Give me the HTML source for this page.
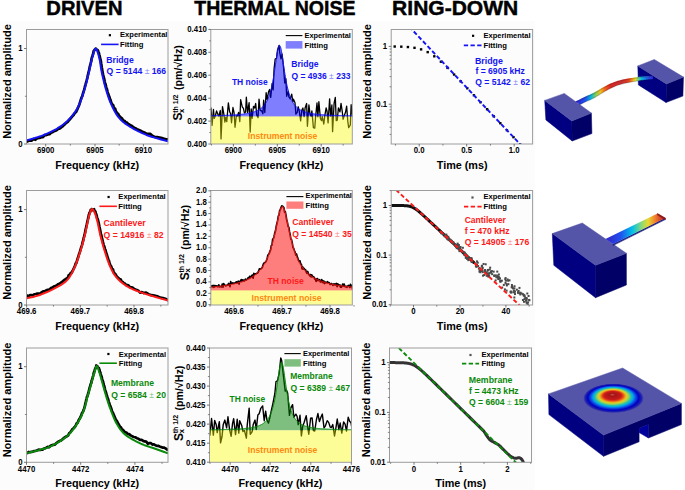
<!DOCTYPE html>
<html><head><meta charset="utf-8"><style>
html,body{margin:0;padding:0;background:#fff;}
svg{display:block;font-family:"Liberation Sans", sans-serif;}
</style></head><body>
<svg width="685" height="490" viewBox="0 0 685 490">
<rect x="0" y="21" width="535" height="469" fill="#fcfcfc"/>
<text x="46.39" y="15.00" font-size="20" fill="#000" font-weight="bold" textLength="76.19" lengthAdjust="spacingAndGlyphs" stroke="#000" stroke-width="0.45">DRIVEN</text>
<text x="194.30" y="14.50" font-size="20" fill="#000" font-weight="bold" textLength="161.17" lengthAdjust="spacingAndGlyphs" stroke="#000" stroke-width="0.45">THERMAL NOISE</text>
<text x="392.13" y="14.50" font-size="20" fill="#000" font-weight="bold" textLength="126.02" lengthAdjust="spacingAndGlyphs" stroke="#000" stroke-width="0.45">RING-DOWN</text>
<clipPath id="c11"><rect x="26.5" y="29.5" width="141.5" height="114.5"/></clipPath>
<g clip-path="url(#c11)">
<path d="M25.70,142.57 L26.74,141.47 L28.09,141.11 L29.68,140.47 L31.48,140.63 L33.40,138.96 L35.40,139.78 L37.42,138.28 L39.40,138.01 L41.28,137.16 L43.00,137.11 L44.62,135.22 L46.24,135.14 L47.85,134.41 L49.44,134.21 L51.01,132.67 L52.54,132.23 L54.03,131.20 L55.48,130.73 L56.87,130.11 L58.20,128.71 L59.47,128.69 L60.68,127.80 L61.83,126.85 L62.94,126.18 L64.01,124.79 L65.04,124.12 L66.05,122.96 L67.04,122.27 L68.02,121.59 L69.00,120.16 L69.97,119.23 L70.91,118.07 L71.84,116.94 L72.74,115.89 L73.62,114.98 L74.49,113.41 L75.33,112.65 L76.14,111.86 L76.93,110.18 L77.70,108.43 L78.44,106.68 L79.16,105.12 L79.85,102.90 L80.52,100.59 L81.17,98.56 L81.79,97.05 L82.40,95.90 L82.98,93.39 L83.55,91.77 L84.10,89.91 L84.63,87.93 L85.12,85.90 L85.60,84.40 L86.05,82.67 L86.49,81.18 L86.91,79.51 L87.32,77.81 L87.72,75.88 L88.11,74.43 L88.50,72.24 L88.88,71.35 L89.24,69.52 L89.59,67.68 L89.93,66.42 L90.26,64.72 L90.58,63.69 L90.90,62.41 L91.23,61.29 L91.56,58.74 L91.90,57.49 L92.25,56.60 L92.59,55.57 L92.94,54.55 L93.29,53.12 L93.64,51.15 L93.99,50.72 L94.34,50.25 L94.99,49.37 L95.35,49.12 L95.70,48.62 L96.06,48.78 L96.43,49.35 L97.71,50.10 L98.09,50.90 L98.46,51.90 L98.83,52.78 L99.20,54.37 L99.55,55.55 L99.88,57.17 L100.20,58.42 L100.49,59.29 L100.74,60.39 L100.97,61.66 L101.19,63.44 L101.41,64.78 L101.62,66.13 L101.85,67.80 L102.10,69.12 L102.38,71.16 L102.70,72.34 L103.05,74.56 L103.43,75.96 L103.82,77.76 L104.24,78.94 L104.67,81.17 L105.11,83.16 L105.57,84.35 L106.04,86.34 L106.52,88.16 L107.00,89.32 L107.49,91.52 L107.97,93.29 L108.47,94.26 L108.98,96.22 L109.49,97.16 L110.03,99.10 L110.58,100.03 L111.16,102.44 L111.77,103.63 L112.40,104.89 L113.06,104.83 L113.73,106.95 L114.42,108.58 L115.13,108.61 L115.86,111.03 L116.62,112.48 L117.42,113.30 L118.24,113.99 L119.10,115.89 L120.00,116.64 L120.92,117.53 L121.85,118.29 L122.80,119.82 L123.78,120.77 L124.79,121.11 L125.86,122.32 L126.98,122.53 L128.17,124.02 L129.44,124.57 L130.80,125.33 L132.25,126.24 L133.79,127.47 L135.40,128.33 L137.08,129.15 L138.83,129.91 L140.62,130.77 L142.45,131.82 L144.31,132.52 L146.20,133.48 L148.10,133.89 L150.13,133.89 L152.37,135.84 L154.74,136.97 L157.17,137.07 L159.58,137.55 L161.91,138.17 L164.08,138.76 L166.02,139.32 L167.65,139.36 L168.90,139.92" fill="none" stroke="#000" stroke-width="2.7" stroke-linejoin="round"/>
<path d="M26.00,140.60 L27.04,140.29 L28.39,139.90 L29.98,139.44 L31.78,138.93 L33.70,138.37 L35.70,137.77 L37.72,137.14 L39.70,136.50 L41.58,135.85 L43.30,135.20 L44.92,134.54 L46.54,133.85 L48.15,133.14 L49.74,132.41 L51.31,131.66 L52.84,130.89 L54.33,130.10 L55.78,129.31 L57.17,128.51 L58.50,127.70 L59.77,126.89 L60.98,126.09 L62.13,125.28 L63.24,124.46 L64.31,123.62 L65.34,122.77 L66.35,121.88 L67.34,120.96 L68.32,120.01 L69.30,119.00 L70.27,117.96 L71.21,116.91 L72.14,115.84 L73.04,114.73 L73.92,113.59 L74.79,112.40 L75.63,111.17 L76.44,109.88 L77.23,108.52 L78.00,107.10 L78.74,105.59 L79.46,103.99 L80.15,102.31 L80.82,100.57 L81.47,98.79 L82.09,96.98 L82.70,95.16 L83.28,93.35 L83.85,91.55 L84.40,89.80 L84.93,88.06 L85.42,86.30 L85.90,84.52 L86.35,82.75 L86.79,80.98 L87.21,79.22 L87.62,77.48 L88.02,75.78 L88.41,74.12 L88.80,72.50 L89.18,70.91 L89.54,69.34 L89.89,67.78 L90.23,66.25 L90.56,64.75 L90.88,63.29 L91.20,61.88 L91.53,60.52 L91.86,59.23 L92.20,58.00 L92.55,56.78 L92.89,55.51 L93.24,54.24 L93.59,53.01 L93.94,51.86 L94.29,50.83 L94.64,49.96 L94.99,49.29 L95.35,48.85 L95.70,48.70 L96.06,48.85 L96.43,49.29 L96.81,49.96 L97.19,50.83 L97.56,51.86 L97.93,53.01 L98.30,54.24 L98.65,55.51 L98.98,56.78 L99.30,58.00 L99.59,59.23 L99.84,60.52 L100.07,61.88 L100.29,63.29 L100.51,64.75 L100.72,66.25 L100.95,67.78 L101.20,69.34 L101.48,70.91 L101.80,72.50 L102.15,74.13 L102.53,75.82 L102.92,77.55 L103.34,79.32 L103.77,81.11 L104.21,82.90 L104.67,84.68 L105.14,86.44 L105.62,88.15 L106.10,89.80 L106.59,91.41 L107.07,92.99 L107.57,94.56 L108.08,96.10 L108.59,97.62 L109.13,99.12 L109.68,100.59 L110.26,102.05 L110.87,103.48 L111.50,104.90 L112.16,106.30 L112.83,107.70 L113.52,109.09 L114.23,110.46 L114.96,111.80 L115.72,113.11 L116.52,114.38 L117.34,115.61 L118.20,116.78 L119.10,117.90 L120.02,118.94 L120.95,119.92 L121.90,120.83 L122.88,121.69 L123.89,122.53 L124.96,123.33 L126.08,124.13 L127.27,124.94 L128.54,125.75 L129.90,126.60 L131.35,127.48 L132.89,128.37 L134.50,129.27 L136.18,130.17 L137.93,131.06 L139.72,131.94 L141.55,132.81 L143.41,133.64 L145.30,134.44 L147.20,135.20 L149.23,135.94 L151.47,136.68 L153.84,137.41 L156.27,138.11 L158.68,138.79 L161.01,139.42 L163.18,140.00 L165.12,140.51 L166.75,140.95 L168.00,141.30" fill="none" stroke="#1414f5" stroke-width="2.0" stroke-linejoin="round"/>
</g>
<rect x="26.5" y="29.5" width="141.50" height="114.50" fill="none" stroke="#9c9c9c" stroke-width="1"/>
<line x1="45.70" y1="144.0" x2="45.70" y2="146.5" stroke="#555" stroke-width="0.8"/>
<line x1="95.00" y1="144.0" x2="95.00" y2="146.5" stroke="#555" stroke-width="0.8"/>
<line x1="143.40" y1="144.0" x2="143.40" y2="146.5" stroke="#555" stroke-width="0.8"/>
<line x1="70.35" y1="144.0" x2="70.35" y2="145.6" stroke="#555" stroke-width="0.7"/>
<line x1="119.20" y1="144.0" x2="119.20" y2="145.6" stroke="#555" stroke-width="0.7"/>
<line x1="26.5" y1="144.00" x2="24.0" y2="144.00" stroke="#555" stroke-width="0.8"/>
<line x1="26.5" y1="48.50" x2="24.0" y2="48.50" stroke="#555" stroke-width="0.8"/>
<line x1="26.5" y1="96.25" x2="24.9" y2="96.25" stroke="#555" stroke-width="0.7"/>
<text x="36.98" y="153.40" font-size="8.5" fill="#000" font-weight="bold" textLength="17.39" lengthAdjust="spacingAndGlyphs" >6900</text>
<text x="86.24" y="153.40" font-size="8.5" fill="#000" font-weight="bold" textLength="17.39" lengthAdjust="spacingAndGlyphs" >6905</text>
<text x="134.68" y="153.40" font-size="8.5" fill="#000" font-weight="bold" textLength="17.39" lengthAdjust="spacingAndGlyphs" >6910</text>
<text x="18.23" y="146.50" font-size="8.5" fill="#000" font-weight="bold" textLength="4.35" lengthAdjust="spacingAndGlyphs" >0</text>
<text x="18.16" y="51.00" font-size="8.5" fill="#000" font-weight="bold" textLength="4.35" lengthAdjust="spacingAndGlyphs" >1</text>
<text transform="translate(11.10,138.10) rotate(-90)" x="-0.77" y="0" font-size="10.8" fill="#000" font-weight="bold" textLength="114.72" lengthAdjust="spacingAndGlyphs">Normalized amplitude</text>
<text x="55.13" y="169.00" font-size="10.8" fill="#000" font-weight="bold" textLength="84.01" lengthAdjust="spacingAndGlyphs" >Frequency (kHz)</text>
<rect x="108.80000000000001" y="34.1" width="2.2" height="2.2" fill="#000"/>
<text x="120.07" y="37.30" font-size="8.0" fill="#000" font-weight="bold" textLength="47.36" lengthAdjust="spacingAndGlyphs" >Experimental</text>
<line x1="101.1" y1="44.4" x2="118.6" y2="44.4" stroke="#1414f5" stroke-width="1.6"/>
<text x="120.06" y="46.70" font-size="8.0" fill="#000" font-weight="bold" textLength="23.45" lengthAdjust="spacingAndGlyphs" >Fitting</text>
<text x="106.29" y="62.80" font-size="8.4" fill="#1414f5" font-weight="bold" textLength="27.43" lengthAdjust="spacingAndGlyphs" >Bridge</text>
<text x="106.55" y="73.60" font-size="8.4" fill="#1414f5" font-weight="bold" textLength="59.64" lengthAdjust="spacingAndGlyphs" >Q = 5144 <tspan font-weight="normal" fill-opacity="0.55">±</tspan> 166</text>
<clipPath id="c21"><rect x="26.5" y="190.5" width="141.5" height="114.5"/></clipPath>
<g clip-path="url(#c21)">
<path d="M25.70,296.55 L26.46,296.50 L27.43,295.55 L28.58,296.63 L29.86,295.14 L31.26,295.16 L32.72,295.28 L34.24,294.29 L35.76,293.95 L37.26,293.56 L38.70,293.59 L40.13,293.69 L41.62,292.35 L43.14,291.36 L44.69,291.32 L46.25,290.27 L47.81,289.80 L49.36,289.52 L50.88,288.12 L52.37,287.65 L53.80,286.59 L55.21,286.09 L56.62,285.47 L58.02,284.27 L59.41,283.70 L60.77,282.92 L62.09,281.93 L63.36,280.85 L64.58,279.84 L65.73,279.29 L66.80,278.21 L67.79,277.97 L68.70,275.16 L69.55,274.83 L70.33,273.65 L71.08,272.68 L71.78,272.84 L72.45,271.00 L73.11,269.90 L73.75,268.69 L74.40,266.99 L75.03,265.95 L75.64,263.56 L76.22,263.33 L76.77,261.73 L77.31,259.57 L77.82,258.36 L78.33,256.62 L78.83,254.77 L79.31,253.55 L79.80,252.35 L80.28,250.35 L80.75,248.83 L81.20,247.42 L81.65,246.08 L82.08,244.85 L82.50,242.66 L82.92,241.54 L83.32,239.92 L83.72,237.67 L84.10,236.65 L84.48,235.20 L84.84,233.64 L85.20,232.15 L85.54,229.69 L85.88,228.80 L86.21,226.97 L86.52,225.17 L86.83,224.40 L87.12,223.11 L87.40,221.37 L87.66,220.75 L87.91,219.25 L88.14,218.41 L88.35,217.07 L88.56,217.15 L88.77,214.85 L88.97,214.99 L89.17,214.56 L89.38,212.93 L89.60,212.93 L89.82,212.36 L90.05,212.08 L90.27,211.68 L90.50,210.59 L90.73,209.78 L91.25,210.35 L91.48,209.97 L91.72,209.14 L91.96,209.28 L92.20,209.23 L92.45,209.35 L92.70,209.38 L92.96,210.04 L94.12,209.26 L94.38,210.63 L94.65,210.86 L94.91,211.16 L95.18,212.21 L95.44,211.56 L95.70,213.41 L95.96,213.78 L96.21,213.92 L96.46,215.18 L96.71,215.68 L96.96,217.50 L97.21,218.10 L97.47,218.54 L97.74,219.13 L98.01,220.25 L98.30,221.49 L98.60,222.66 L98.90,223.90 L99.21,225.47 L99.52,227.11 L99.84,228.61 L100.17,230.16 L100.51,231.71 L100.86,234.55 L101.23,234.73 L101.60,236.44 L101.98,238.47 L102.38,239.73 L102.78,241.51 L103.20,243.16 L103.62,244.85 L104.05,246.19 L104.50,247.10 L104.95,249.35 L105.42,249.87 L105.90,251.96 L106.39,253.36 L106.89,254.72 L107.40,256.88 L107.93,258.19 L108.46,260.18 L109.01,260.86 L109.56,263.19 L110.13,264.53 L110.71,265.81 L111.30,266.60 L111.89,268.28 L112.46,269.03 L113.03,269.39 L113.61,272.38 L114.21,272.64 L114.84,273.97 L115.50,274.20 L116.21,275.59 L116.97,276.57 L117.80,277.51 L118.69,278.27 L119.61,279.13 L120.59,279.41 L121.60,281.25 L122.66,282.07 L123.76,283.17 L124.90,283.52 L126.09,285.04 L127.32,285.07 L128.60,285.56 L129.90,287.06 L131.20,287.26 L132.52,287.64 L133.89,288.75 L135.31,289.59 L136.80,290.02 L138.37,290.72 L140.06,292.61 L141.86,292.11 L143.80,293.04 L146.02,292.55 L148.59,294.18 L151.39,295.18 L154.33,295.66 L157.30,296.35 L160.19,297.63 L162.90,298.16 L165.33,298.76 L167.36,299.95 L168.90,300.47" fill="none" stroke="#000" stroke-width="2.7" stroke-linejoin="round"/>
<path d="M26.00,298.50 L26.76,298.32 L27.73,298.10 L28.88,297.85 L30.16,297.57 L31.56,297.26 L33.02,296.91 L34.54,296.53 L36.06,296.12 L37.56,295.67 L39.00,295.20 L40.43,294.69 L41.92,294.14 L43.44,293.55 L44.99,292.93 L46.55,292.28 L48.11,291.60 L49.66,290.91 L51.18,290.19 L52.67,289.45 L54.10,288.70 L55.51,287.94 L56.92,287.18 L58.32,286.41 L59.71,285.62 L61.07,284.81 L62.39,283.96 L63.66,283.07 L64.88,282.14 L66.03,281.15 L67.10,280.10 L68.09,278.99 L69.00,277.82 L69.85,276.59 L70.63,275.32 L71.38,274.01 L72.08,272.66 L72.75,271.29 L73.41,269.90 L74.05,268.50 L74.70,267.10 L75.33,265.68 L75.94,264.22 L76.52,262.73 L77.07,261.22 L77.61,259.69 L78.12,258.15 L78.63,256.60 L79.13,255.06 L79.61,253.52 L80.10,252.00 L80.58,250.48 L81.05,248.97 L81.50,247.45 L81.95,245.93 L82.38,244.41 L82.80,242.88 L83.22,241.36 L83.62,239.84 L84.02,238.32 L84.40,236.80 L84.78,235.25 L85.14,233.65 L85.50,232.03 L85.84,230.40 L86.18,228.79 L86.51,227.20 L86.82,225.67 L87.13,224.22 L87.42,222.85 L87.70,221.60 L87.96,220.45 L88.21,219.38 L88.44,218.39 L88.65,217.46 L88.86,216.59 L89.07,215.78 L89.27,215.03 L89.47,214.31 L89.68,213.64 L89.90,213.00 L90.12,212.38 L90.35,211.79 L90.57,211.24 L90.80,210.73 L91.03,210.27 L91.25,209.87 L91.48,209.55 L91.72,209.31 L91.96,209.15 L92.20,209.10 L92.45,209.15 L92.70,209.31 L92.96,209.55 L93.22,209.87 L93.48,210.27 L93.75,210.73 L94.01,211.24 L94.28,211.79 L94.54,212.38 L94.80,213.00 L95.06,213.64 L95.31,214.31 L95.56,215.03 L95.81,215.78 L96.06,216.59 L96.31,217.46 L96.57,218.39 L96.84,219.38 L97.11,220.45 L97.40,221.60 L97.70,222.85 L98.00,224.22 L98.31,225.67 L98.62,227.20 L98.94,228.79 L99.27,230.40 L99.61,232.03 L99.96,233.65 L100.33,235.25 L100.70,236.80 L101.08,238.32 L101.48,239.84 L101.88,241.36 L102.30,242.88 L102.72,244.41 L103.15,245.93 L103.60,247.45 L104.05,248.97 L104.52,250.48 L105.00,252.00 L105.49,253.53 L105.99,255.10 L106.50,256.67 L107.03,258.25 L107.56,259.82 L108.11,261.37 L108.66,262.89 L109.23,264.36 L109.81,265.76 L110.40,267.10 L110.99,268.36 L111.56,269.57 L112.13,270.72 L112.71,271.83 L113.31,272.90 L113.94,273.94 L114.60,274.95 L115.31,275.94 L116.07,276.92 L116.90,277.90 L117.79,278.86 L118.71,279.81 L119.69,280.73 L120.70,281.64 L121.76,282.52 L122.86,283.38 L124.00,284.22 L125.19,285.03 L126.42,285.83 L127.70,286.60 L129.00,287.33 L130.30,288.02 L131.62,288.68 L132.99,289.31 L134.41,289.93 L135.90,290.53 L137.47,291.15 L139.16,291.77 L140.96,292.42 L142.90,293.10 L145.12,293.84 L147.69,294.66 L150.49,295.51 L153.43,296.39 L156.40,297.26 L159.29,298.09 L162.00,298.87 L164.43,299.56 L166.46,300.15 L168.00,300.60" fill="none" stroke="#ff1a1a" stroke-width="2.0" stroke-linejoin="round"/>
</g>
<rect x="26.5" y="190.5" width="141.50" height="114.50" fill="none" stroke="#9c9c9c" stroke-width="1"/>
<line x1="26.60" y1="305.0" x2="26.60" y2="307.5" stroke="#555" stroke-width="0.8"/>
<line x1="80.30" y1="305.0" x2="80.30" y2="307.5" stroke="#555" stroke-width="0.8"/>
<line x1="134.00" y1="305.0" x2="134.00" y2="307.5" stroke="#555" stroke-width="0.8"/>
<line x1="53.45" y1="305.0" x2="53.45" y2="306.6" stroke="#555" stroke-width="0.7"/>
<line x1="107.15" y1="305.0" x2="107.15" y2="306.6" stroke="#555" stroke-width="0.7"/>
<line x1="160.85" y1="305.0" x2="160.85" y2="306.6" stroke="#555" stroke-width="0.7"/>
<line x1="26.5" y1="305.00" x2="24.0" y2="305.00" stroke="#555" stroke-width="0.8"/>
<line x1="26.5" y1="209.60" x2="24.0" y2="209.60" stroke="#555" stroke-width="0.8"/>
<line x1="26.5" y1="257.30" x2="24.9" y2="257.30" stroke="#555" stroke-width="0.7"/>
<text x="16.86" y="314.40" font-size="8.5" fill="#000" font-weight="bold" textLength="19.57" lengthAdjust="spacingAndGlyphs" >469.6</text>
<text x="70.60" y="314.40" font-size="8.5" fill="#000" font-weight="bold" textLength="19.57" lengthAdjust="spacingAndGlyphs" >469.7</text>
<text x="124.22" y="314.40" font-size="8.5" fill="#000" font-weight="bold" textLength="19.57" lengthAdjust="spacingAndGlyphs" >469.8</text>
<text x="18.23" y="307.50" font-size="8.5" fill="#000" font-weight="bold" textLength="4.35" lengthAdjust="spacingAndGlyphs" >0</text>
<text x="18.16" y="212.10" font-size="8.5" fill="#000" font-weight="bold" textLength="4.35" lengthAdjust="spacingAndGlyphs" >1</text>
<text transform="translate(11.10,299.10) rotate(-90)" x="-0.77" y="0" font-size="10.8" fill="#000" font-weight="bold" textLength="114.72" lengthAdjust="spacingAndGlyphs">Normalized amplitude</text>
<text x="55.13" y="330.00" font-size="10.8" fill="#000" font-weight="bold" textLength="84.01" lengthAdjust="spacingAndGlyphs" >Frequency (kHz)</text>
<rect x="107.5" y="195.9" width="2.2" height="2.2" fill="#000"/>
<text x="118.37" y="199.20" font-size="8.0" fill="#000" font-weight="bold" textLength="47.36" lengthAdjust="spacingAndGlyphs" >Experimental</text>
<line x1="99.4" y1="206.3" x2="116.9" y2="206.3" stroke="#ff1a1a" stroke-width="1.6"/>
<text x="118.36" y="209.20" font-size="8.0" fill="#000" font-weight="bold" textLength="23.45" lengthAdjust="spacingAndGlyphs" >Fitting</text>
<text x="103.55" y="226.40" font-size="8.4" fill="#ff1a1a" font-weight="bold" textLength="42.08" lengthAdjust="spacingAndGlyphs" >Cantilever</text>
<text x="103.55" y="237.90" font-size="8.4" fill="#ff1a1a" font-weight="bold" textLength="60.15" lengthAdjust="spacingAndGlyphs" >Q = 14916 <tspan font-weight="normal" fill-opacity="0.55">±</tspan> 82</text>
<clipPath id="c31"><rect x="26.5" y="348.0" width="141.5" height="114.30000000000001"/></clipPath>
<g clip-path="url(#c31)">
<path d="M25.70,453.93 L26.47,453.27 L27.47,452.92 L28.64,451.96 L29.96,452.21 L31.39,451.85 L32.88,451.59 L34.39,451.03 L35.89,450.85 L37.34,450.32 L38.70,449.64 L39.99,450.04 L41.27,449.69 L42.53,449.63 L43.80,448.70 L45.07,448.16 L46.35,447.71 L47.65,446.91 L48.97,447.28 L50.31,445.97 L51.70,445.29 L53.15,444.88 L54.67,444.65 L56.24,443.33 L57.84,441.95 L59.45,441.07 L61.04,440.51 L62.59,439.18 L64.09,437.90 L65.50,437.00 L66.80,436.26 L68.01,435.60 L69.15,433.34 L70.23,432.41 L71.26,431.17 L72.24,429.41 L73.17,428.72 L74.07,427.46 L74.94,426.98 L75.78,425.30 L76.60,423.53 L77.39,423.08 L78.15,421.48 L78.86,419.74 L79.54,418.87 L80.19,417.59 L80.82,416.20 L81.42,415.20 L81.99,413.07 L82.55,412.40 L83.10,411.45 L83.62,409.97 L84.10,408.60 L84.55,407.12 L84.98,405.74 L85.39,403.30 L85.79,402.44 L86.18,399.95 L86.58,398.85 L86.98,396.85 L87.40,396.37 L87.84,394.92 L88.29,392.79 L88.75,391.87 L89.21,389.38 L89.66,388.06 L90.11,386.48 L90.54,384.52 L90.96,383.59 L91.34,382.74 L91.70,380.44 L92.02,379.96 L92.32,378.53 L92.59,378.22 L92.84,376.85 L93.08,376.06 L93.30,375.23 L93.52,374.31 L93.74,372.98 L93.97,373.22 L94.20,371.52 L94.44,371.32 L94.67,370.66 L94.90,369.35 L95.13,368.92 L95.36,368.54 L95.88,367.46 L96.11,366.60 L96.34,365.46 L96.57,365.86 L96.80,365.89 L97.04,366.02 L97.27,366.14 L97.51,367.04 L97.74,367.27 L98.88,368.09 L99.12,369.10 L99.36,369.35 L99.61,370.34 L99.85,371.99 L100.10,372.31 L100.34,372.28 L100.58,373.44 L100.81,374.42 L101.04,375.44 L101.28,375.87 L101.53,376.49 L101.79,377.34 L102.07,378.81 L102.37,379.76 L102.70,380.62 L103.06,382.00 L103.45,383.32 L103.87,385.21 L104.30,386.28 L104.74,388.31 L105.20,390.07 L105.66,391.57 L106.11,392.71 L106.56,395.01 L107.00,395.76 L107.42,397.53 L107.82,398.44 L108.22,399.39 L108.61,401.34 L109.01,402.59 L109.42,403.67 L109.85,405.01 L110.30,405.92 L110.78,407.16 L111.30,408.67 L111.85,410.78 L112.42,411.85 L113.02,412.87 L113.64,414.76 L114.28,415.92 L114.94,417.44 L115.62,419.37 L116.32,420.31 L117.05,421.26 L117.80,422.79 L118.55,424.32 L119.30,425.46 L120.05,426.92 L120.81,427.26 L121.61,428.74 L122.45,429.58 L123.35,430.29 L124.32,431.52 L125.36,432.27 L126.50,432.64 L127.75,434.15 L129.11,434.15 L130.56,435.38 L132.07,436.12 L133.64,436.99 L135.25,437.28 L136.86,438.18 L138.47,438.77 L140.06,439.82 L141.60,439.92 L143.13,440.90 L144.68,441.42 L146.25,441.64 L147.82,443.59 L149.39,443.15 L150.94,443.16 L152.46,444.66 L153.96,444.27 L155.41,445.25 L156.80,445.90 L158.19,445.87 L159.61,446.45 L161.04,446.92 L162.44,447.56 L163.80,447.52 L165.08,448.11 L166.26,448.91 L167.30,449.70 L168.19,449.87 L168.90,450.51" fill="none" stroke="#000" stroke-width="2.7" stroke-linejoin="round"/>
<path d="M26.00,453.30 L26.77,453.11 L27.77,452.88 L28.94,452.61 L30.26,452.31 L31.69,451.98 L33.18,451.62 L34.69,451.25 L36.19,450.87 L37.64,450.48 L39.00,450.10 L40.29,449.73 L41.57,449.38 L42.83,449.04 L44.10,448.68 L45.37,448.31 L46.65,447.90 L47.95,447.45 L49.27,446.94 L50.61,446.36 L52.00,445.70 L53.45,444.95 L54.97,444.13 L56.54,443.25 L58.14,442.31 L59.75,441.32 L61.34,440.29 L62.89,439.24 L64.39,438.17 L65.80,437.08 L67.10,436.00 L68.31,434.90 L69.45,433.78 L70.53,432.63 L71.56,431.45 L72.54,430.26 L73.47,429.04 L74.37,427.82 L75.24,426.59 L76.08,425.34 L76.90,424.10 L77.69,422.85 L78.45,421.60 L79.16,420.35 L79.84,419.08 L80.49,417.80 L81.12,416.50 L81.72,415.19 L82.29,413.85 L82.85,412.49 L83.40,411.10 L83.92,409.68 L84.40,408.22 L84.85,406.73 L85.28,405.22 L85.69,403.69 L86.09,402.15 L86.48,400.60 L86.88,399.06 L87.28,397.52 L87.70,396.00 L88.14,394.46 L88.59,392.86 L89.05,391.25 L89.51,389.62 L89.96,388.01 L90.41,386.42 L90.84,384.89 L91.26,383.43 L91.64,382.06 L92.00,380.80 L92.32,379.65 L92.62,378.58 L92.89,377.60 L93.14,376.68 L93.38,375.82 L93.60,375.00 L93.82,374.23 L94.04,373.47 L94.27,372.73 L94.50,372.00 L94.74,371.24 L94.97,370.45 L95.20,369.65 L95.43,368.86 L95.66,368.13 L95.88,367.47 L96.11,366.91 L96.34,366.48 L96.57,366.20 L96.80,366.10 L97.04,366.20 L97.27,366.48 L97.51,366.91 L97.74,367.47 L97.98,368.13 L98.22,368.86 L98.46,369.65 L98.71,370.45 L98.95,371.24 L99.20,372.00 L99.44,372.73 L99.68,373.47 L99.91,374.23 L100.14,375.00 L100.38,375.82 L100.63,376.68 L100.89,377.60 L101.17,378.58 L101.47,379.65 L101.80,380.80 L102.16,382.07 L102.55,383.47 L102.97,384.96 L103.40,386.52 L103.84,388.14 L104.30,389.77 L104.76,391.40 L105.21,393.00 L105.66,394.54 L106.10,396.00 L106.52,397.38 L106.92,398.71 L107.32,400.00 L107.71,401.26 L108.11,402.51 L108.52,403.75 L108.95,405.01 L109.40,406.30 L109.88,407.62 L110.40,409.00 L110.95,410.44 L111.52,411.95 L112.12,413.51 L112.74,415.10 L113.38,416.69 L114.04,418.27 L114.72,419.82 L115.42,421.32 L116.15,422.75 L116.90,424.10 L117.65,425.36 L118.40,426.57 L119.15,427.72 L119.91,428.83 L120.71,429.90 L121.55,430.94 L122.45,431.95 L123.42,432.94 L124.46,433.92 L125.60,434.90 L126.85,435.87 L128.21,436.83 L129.66,437.77 L131.17,438.69 L132.74,439.59 L134.35,440.46 L135.96,441.30 L137.57,442.10 L139.16,442.87 L140.70,443.60 L142.23,444.28 L143.78,444.91 L145.35,445.50 L146.92,446.05 L148.49,446.57 L150.04,447.08 L151.56,447.56 L153.06,448.04 L154.51,448.52 L155.90,449.00 L157.29,449.49 L158.71,450.00 L160.14,450.51 L161.54,451.01 L162.90,451.49 L164.18,451.94 L165.36,452.36 L166.40,452.73 L167.29,453.05 L168.00,453.30" fill="none" stroke="#0a8a0a" stroke-width="2.0" stroke-linejoin="round"/>
</g>
<rect x="26.5" y="348.0" width="141.50" height="114.30" fill="none" stroke="#9c9c9c" stroke-width="1"/>
<line x1="26.50" y1="462.3" x2="26.50" y2="464.8" stroke="#555" stroke-width="0.8"/>
<line x1="80.70" y1="462.3" x2="80.70" y2="464.8" stroke="#555" stroke-width="0.8"/>
<line x1="134.90" y1="462.3" x2="134.90" y2="464.8" stroke="#555" stroke-width="0.8"/>
<line x1="53.60" y1="462.3" x2="53.60" y2="463.90000000000003" stroke="#555" stroke-width="0.7"/>
<line x1="107.80" y1="462.3" x2="107.80" y2="463.90000000000003" stroke="#555" stroke-width="0.7"/>
<line x1="162.00" y1="462.3" x2="162.00" y2="463.90000000000003" stroke="#555" stroke-width="0.7"/>
<line x1="26.5" y1="462.30" x2="24.0" y2="462.30" stroke="#555" stroke-width="0.8"/>
<line x1="26.5" y1="366.70" x2="24.0" y2="366.70" stroke="#555" stroke-width="0.8"/>
<line x1="26.5" y1="414.50" x2="24.9" y2="414.50" stroke="#555" stroke-width="0.7"/>
<text x="17.86" y="471.70" font-size="8.5" fill="#000" font-weight="bold" textLength="17.39" lengthAdjust="spacingAndGlyphs" >4470</text>
<text x="72.06" y="471.70" font-size="8.5" fill="#000" font-weight="bold" textLength="17.39" lengthAdjust="spacingAndGlyphs" >4472</text>
<text x="126.14" y="471.70" font-size="8.5" fill="#000" font-weight="bold" textLength="17.39" lengthAdjust="spacingAndGlyphs" >4474</text>
<text x="18.23" y="464.80" font-size="8.5" fill="#000" font-weight="bold" textLength="4.35" lengthAdjust="spacingAndGlyphs" >0</text>
<text x="18.16" y="369.20" font-size="8.5" fill="#000" font-weight="bold" textLength="4.35" lengthAdjust="spacingAndGlyphs" >1</text>
<text transform="translate(11.10,456.60) rotate(-90)" x="-0.77" y="0" font-size="10.8" fill="#000" font-weight="bold" textLength="114.72" lengthAdjust="spacingAndGlyphs">Normalized amplitude</text>
<text x="55.13" y="487.30" font-size="10.8" fill="#000" font-weight="bold" textLength="84.01" lengthAdjust="spacingAndGlyphs" >Frequency (kHz)</text>
<rect x="107.30000000000001" y="352.9" width="2.2" height="2.2" fill="#000"/>
<text x="118.77" y="356.50" font-size="8.0" fill="#000" font-weight="bold" textLength="47.36" lengthAdjust="spacingAndGlyphs" >Experimental</text>
<line x1="99.4" y1="363.2" x2="116.9" y2="363.2" stroke="#0a8a0a" stroke-width="1.6"/>
<text x="118.76" y="365.80" font-size="8.0" fill="#000" font-weight="bold" textLength="23.45" lengthAdjust="spacingAndGlyphs" >Fitting</text>
<text x="110.90" y="386.20" font-size="8.4" fill="#0a8a0a" font-weight="bold" textLength="43.07" lengthAdjust="spacingAndGlyphs" >Membrane</text>
<text x="111.16" y="397.70" font-size="8.4" fill="#0a8a0a" font-weight="bold" textLength="54.78" lengthAdjust="spacingAndGlyphs" >Q = 6584 <tspan font-weight="normal" fill-opacity="0.55">±</tspan> 20</text>
<clipPath id="c12"><rect x="210.8" y="29.5" width="141.5" height="114.5"/></clipPath>
<g clip-path="url(#c12)">
<path d="M209.63,119.21 L210.94,107.84 L212.05,125.34 L213.46,109.44 L214.21,118.46 L215.46,115.45 L216.57,110.92 L217.96,114.55 L218.84,116.09 L220.33,110.51 L221.02,138.87 L222.49,106.65 L223.78,113.65 L224.89,122.12 L225.72,117.35 L226.77,121.67 L228.36,102.83 L229.61,111.77 L230.62,113.60 L231.53,122.77 L232.95,107.52 L234.06,112.74 L235.04,127.25 L236.32,115.79 L237.36,116.07 L238.60,112.33 L239.82,121.57 L240.63,99.69 L242.24,106.78 L243.43,108.35 L244.40,112.98 L245.62,111.94 L246.33,97.22 L247.56,112.33 L249.12,102.55 L250.19,132.05 L251.20,108.91 L252.14,118.28 L253.49,106.32 L254.66,107.99 L255.69,103.51 L256.69,114.89 L258.06,117.60 L259.02,99.09 L260.14,110.29 L261.66,110.84 L262.90,113.78 L263.63,100.20 L264.79,112.48 L266.13,92.68 L267.13,99.63 L268.61,91.65 L269.66,89.51 L270.72,97.41 L272.18,83.31 L273.17,89.92 L274.04,69.11 L275.16,59.12 L276.52,58.30 L277.54,49.92 L279.04,45.39 L279.71,52.61 L280.99,58.89 L282.09,54.08 L283.54,67.64 L284.74,82.98 L285.84,78.58 L286.66,96.34 L288.21,91.41 L288.87,96.94 L290.22,98.97 L291.71,94.09 L292.85,101.75 L293.48,99.21 L295.00,102.82 L295.86,114.16 L297.24,112.42 L298.20,106.77 L299.30,111.07 L300.65,120.97 L301.84,110.10 L302.93,108.03 L304.10,116.68 L305.15,107.68 L306.62,103.53 L307.41,126.28 L308.91,104.81 L309.93,113.87 L311.11,116.21 L311.88,110.82 L313.39,127.65 L314.74,128.19 L315.60,116.80 L317.00,103.02 L317.87,116.78 L318.88,101.70 L320.37,118.35 L321.53,120.64 L322.25,116.62 L323.82,124.02 L324.77,115.77 L326.15,107.88 L327.02,111.16 L328.08,122.86 L329.61,98.81 L330.61,116.03 L331.89,104.95 L332.58,131.68 L334.12,103.02 L335.30,97.39 L336.24,120.69 L337.27,120.14 L338.41,108.02 L339.97,111.91 L341.03,103.31 L342.27,111.56 L343.07,119.28 L344.44,115.05 L345.46,112.56 L346.66,106.18 L347.84,121.87 L348.68,127.60 L350.31,125.00 L351.16,104.53 L352.42,116.32 L353.27,108.33" fill="none" stroke="#000" stroke-width="1.3" stroke-linejoin="round"/>
<path d="M209.80,116.40 L209.80,115.77 L210.05,115.76 L210.30,115.76 L210.55,115.76 L210.80,115.75 L211.05,115.75 L211.30,115.74 L211.55,115.74 L211.80,115.73 L212.05,115.73 L212.30,115.72 L212.55,115.72 L212.80,115.71 L213.05,115.71 L213.30,115.70 L213.55,115.70 L213.80,115.69 L214.05,115.69 L214.30,115.68 L214.55,115.67 L214.80,115.67 L215.05,115.66 L215.30,115.66 L215.55,115.65 L215.80,115.65 L216.05,115.64 L216.30,115.63 L216.55,115.63 L216.80,115.62 L217.05,115.62 L217.30,115.61 L217.55,115.60 L217.80,115.60 L218.05,115.59 L218.30,115.58 L218.55,115.58 L218.80,115.57 L219.05,115.56 L219.30,115.56 L219.55,115.55 L219.80,115.54 L220.05,115.54 L220.30,115.53 L220.55,115.52 L220.80,115.51 L221.05,115.51 L221.30,115.50 L221.55,115.49 L221.80,115.48 L222.05,115.48 L222.30,115.47 L222.55,115.46 L222.80,115.45 L223.05,115.44 L223.30,115.43 L223.55,115.43 L223.80,115.42 L224.05,115.41 L224.30,115.40 L224.55,115.39 L224.80,115.38 L225.05,115.37 L225.30,115.36 L225.55,115.35 L225.80,115.34 L226.05,115.33 L226.30,115.32 L226.55,115.31 L226.80,115.30 L227.05,115.29 L227.30,115.28 L227.55,115.27 L227.80,115.26 L228.05,115.25 L228.30,115.24 L228.55,115.23 L228.80,115.22 L229.05,115.21 L229.30,115.19 L229.55,115.18 L229.80,115.17 L230.05,115.16 L230.30,115.14 L230.55,115.13 L230.80,115.12 L231.05,115.11 L231.30,115.09 L231.55,115.08 L231.80,115.07 L232.05,115.05 L232.30,115.04 L232.55,115.02 L232.80,115.01 L233.05,114.99 L233.30,114.98 L233.55,114.96 L233.80,114.95 L234.05,114.93 L234.30,114.92 L234.55,114.90 L234.80,114.89 L235.05,114.87 L235.30,114.85 L235.55,114.83 L235.80,114.82 L236.05,114.80 L236.30,114.78 L236.55,114.76 L236.80,114.74 L237.05,114.72 L237.30,114.70 L237.55,114.69 L237.80,114.66 L238.05,114.64 L238.30,114.62 L238.55,114.60 L238.80,114.58 L239.05,114.56 L239.30,114.54 L239.55,114.51 L239.80,114.49 L240.05,114.47 L240.30,114.44 L240.55,114.42 L240.80,114.39 L241.05,114.37 L241.30,114.34 L241.55,114.32 L241.80,114.29 L242.05,114.26 L242.30,114.23 L242.55,114.20 L242.80,114.18 L243.05,114.15 L243.30,114.12 L243.55,114.08 L243.80,114.05 L244.05,114.02 L244.30,113.99 L244.55,113.96 L244.80,113.92 L245.05,113.89 L245.30,113.85 L245.55,113.81 L245.80,113.78 L246.05,113.74 L246.30,113.70 L246.55,113.66 L246.80,113.62 L247.05,113.58 L247.30,113.54 L247.55,113.49 L247.80,113.45 L248.05,113.41 L248.30,113.36 L248.55,113.31 L248.80,113.26 L249.05,113.21 L249.30,113.16 L249.55,113.11 L249.80,113.06 L250.05,113.00 L250.30,112.95 L250.55,112.89 L250.80,112.83 L251.05,112.77 L251.30,112.71 L251.55,112.65 L251.80,112.59 L252.05,112.52 L252.30,112.45 L252.55,112.38 L252.80,112.31 L253.05,112.24 L253.30,112.16 L253.55,112.09 L253.80,112.01 L254.05,111.93 L254.30,111.84 L254.55,111.76 L254.80,111.67 L255.05,111.58 L255.30,111.48 L255.55,111.39 L255.80,111.29 L256.05,111.19 L256.30,111.08 L256.55,110.98 L256.80,110.87 L257.05,110.75 L257.30,110.63 L257.55,110.51 L257.80,110.39 L258.05,110.26 L258.30,110.13 L258.55,109.99 L258.80,109.85 L259.05,109.70 L259.30,109.55 L259.55,109.40 L259.80,109.24 L260.05,109.07 L260.30,108.90 L260.55,108.72 L260.80,108.54 L261.05,108.35 L261.30,108.15 L261.55,107.94 L261.80,107.73 L262.05,107.51 L262.30,107.29 L262.55,107.05 L262.80,106.81 L263.05,106.56 L263.30,106.29 L263.55,106.02 L263.80,105.74 L264.05,105.44 L264.30,105.14 L264.55,104.82 L264.80,104.49 L265.05,104.14 L265.30,103.79 L265.55,103.41 L265.80,103.03 L266.05,102.62 L266.30,102.20 L266.55,101.76 L266.80,101.30 L267.05,100.82 L267.30,100.33 L267.55,99.80 L267.80,99.26 L268.05,98.69 L268.30,98.10 L268.55,97.48 L268.80,96.83 L269.05,96.15 L269.30,95.45 L269.55,94.71 L269.80,93.93 L270.05,93.12 L270.30,92.28 L270.55,91.39 L270.80,90.46 L271.05,89.50 L271.30,88.49 L271.55,87.43 L271.80,86.33 L272.05,85.18 L272.30,83.98 L272.55,82.73 L272.80,81.43 L273.05,80.08 L273.30,78.68 L273.55,77.23 L273.80,75.73 L274.05,74.19 L274.30,72.59 L274.55,70.96 L274.80,69.29 L275.05,67.59 L275.30,65.86 L275.55,64.12 L275.80,62.38 L276.05,60.64 L276.30,58.91 L276.55,57.22 L276.80,55.58 L277.05,54.00 L277.30,52.50 L277.55,51.10 L277.80,49.82 L278.05,48.67 L278.30,47.67 L278.55,46.84 L278.80,46.19 L279.05,45.73 L279.30,45.47 L279.55,45.40 L279.80,45.55 L280.05,45.89 L280.30,46.43 L280.55,47.15 L280.80,48.05 L281.05,49.11 L281.30,50.32 L281.55,51.65 L281.80,53.09 L282.05,54.62 L282.30,56.23 L282.55,57.89 L282.80,59.60 L283.05,61.33 L283.30,63.08 L283.55,64.82 L283.80,66.56 L284.05,68.27 L284.30,69.96 L284.55,71.62 L284.80,73.24 L285.05,74.81 L285.30,76.34 L285.55,77.82 L285.80,79.25 L286.05,80.63 L286.30,81.96 L286.55,83.24 L286.80,84.47 L287.05,85.65 L287.30,86.78 L287.55,87.86 L287.80,88.90 L288.05,89.89 L288.30,90.84 L288.55,91.75 L288.80,92.62 L289.05,93.45 L289.30,94.25 L289.55,95.01 L289.80,95.73 L290.05,96.43 L290.30,97.09 L290.55,97.73 L290.80,98.34 L291.05,98.92 L291.30,99.48 L291.55,100.02 L291.80,100.53 L292.05,101.02 L292.30,101.49 L292.55,101.94 L292.80,102.37 L293.05,102.79 L293.30,103.18 L293.55,103.56 L293.80,103.93 L294.05,104.28 L294.30,104.62 L294.55,104.95 L294.80,105.26 L295.05,105.56 L295.30,105.85 L295.55,106.13 L295.80,106.40 L296.05,106.66 L296.30,106.91 L296.55,107.15 L296.80,107.38 L297.05,107.60 L297.30,107.82 L297.55,108.03 L297.80,108.23 L298.05,108.42 L298.30,108.61 L298.55,108.79 L298.80,108.97 L299.05,109.14 L299.30,109.30 L299.55,109.46 L299.80,109.61 L300.05,109.76 L300.30,109.91 L300.55,110.04 L300.80,110.18 L301.05,110.31 L301.30,110.44 L301.55,110.56 L301.80,110.68 L302.05,110.80 L302.30,110.91 L302.55,111.02 L302.80,111.13 L303.05,111.23 L303.30,111.33 L303.55,111.43 L303.80,111.52 L304.05,111.61 L304.30,111.70 L304.55,111.79 L304.80,111.88 L305.05,111.96 L305.30,112.04 L305.55,112.12 L305.80,112.19 L306.05,112.27 L306.30,112.34 L306.55,112.41 L306.80,112.48 L307.05,112.55 L307.30,112.61 L307.55,112.68 L307.80,112.74 L308.05,112.80 L308.30,112.86 L308.55,112.92 L308.80,112.97 L309.05,113.03 L309.30,113.08 L309.55,113.13 L309.80,113.18 L310.05,113.23 L310.30,113.28 L310.55,113.33 L310.80,113.38 L311.05,113.42 L311.30,113.47 L311.55,113.51 L311.80,113.55 L312.05,113.60 L312.30,113.64 L312.55,113.68 L312.80,113.72 L313.05,113.75 L313.30,113.79 L313.55,113.83 L313.80,113.87 L314.05,113.90 L314.30,113.93 L314.55,113.97 L314.80,114.00 L315.05,114.03 L315.30,114.07 L315.55,114.10 L315.80,114.13 L316.05,114.16 L316.30,114.19 L316.55,114.22 L316.80,114.24 L317.05,114.27 L317.30,114.30 L317.55,114.33 L317.80,114.35 L318.05,114.38 L318.30,114.40 L318.55,114.43 L318.80,114.45 L319.05,114.48 L319.30,114.50 L319.55,114.52 L319.80,114.55 L320.05,114.57 L320.30,114.59 L320.55,114.61 L320.80,114.63 L321.05,114.65 L321.30,114.67 L321.55,114.69 L321.80,114.71 L322.05,114.73 L322.30,114.75 L322.55,114.77 L322.80,114.79 L323.05,114.81 L323.30,114.82 L323.55,114.84 L323.80,114.86 L324.05,114.88 L324.30,114.89 L324.55,114.91 L324.80,114.92 L325.05,114.94 L325.30,114.96 L325.55,114.97 L325.80,114.99 L326.05,115.00 L326.30,115.02 L326.55,115.03 L326.80,115.04 L327.05,115.06 L327.30,115.07 L327.55,115.09 L327.80,115.10 L328.05,115.11 L328.30,115.12 L328.55,115.14 L328.80,115.15 L329.05,115.16 L329.30,115.17 L329.55,115.19 L329.80,115.20 L330.05,115.21 L330.30,115.22 L330.55,115.23 L330.80,115.24 L331.05,115.25 L331.30,115.27 L331.55,115.28 L331.80,115.29 L332.05,115.30 L332.30,115.31 L332.55,115.32 L332.80,115.33 L333.05,115.34 L333.30,115.35 L333.55,115.36 L333.80,115.37 L334.05,115.38 L334.30,115.38 L334.55,115.39 L334.80,115.40 L335.05,115.41 L335.30,115.42 L335.55,115.43 L335.80,115.44 L336.05,115.45 L336.30,115.45 L336.55,115.46 L336.80,115.47 L337.05,115.48 L337.30,115.49 L337.55,115.49 L337.80,115.50 L338.05,115.51 L338.30,115.52 L338.55,115.52 L338.80,115.53 L339.05,115.54 L339.30,115.55 L339.55,115.55 L339.80,115.56 L340.05,115.57 L340.30,115.57 L340.55,115.58 L340.80,115.59 L341.05,115.59 L341.30,115.60 L341.55,115.61 L341.80,115.61 L342.05,115.62 L342.30,115.62 L342.55,115.63 L342.80,115.64 L343.05,115.64 L343.30,115.65 L343.55,115.65 L343.80,115.66 L344.05,115.67 L344.30,115.67 L344.55,115.68 L344.80,115.68 L345.05,115.69 L345.30,115.69 L345.55,115.70 L345.80,115.70 L346.05,115.71 L346.30,115.71 L346.55,115.72 L346.80,115.72 L347.05,115.73 L347.30,115.73 L347.55,115.74 L347.80,115.74 L348.05,115.75 L348.30,115.75 L348.55,115.76 L348.80,115.76 L349.05,115.77 L349.30,115.77 L349.55,115.78 L349.80,115.78 L350.05,115.78 L350.30,115.79 L350.55,115.79 L350.80,115.80 L351.05,115.80 L351.30,115.81 L351.55,115.81 L351.80,115.81 L352.05,115.82 L352.30,115.82 L352.55,115.83 L352.80,115.83 L353.05,115.83 L353.30,115.84 L353.55,115.84 L353.55,116.40 Z" fill="#0000ff" fill-opacity="0.5"/>
<path d="M209.80,115.77 L210.05,115.76 L210.30,115.76 L210.55,115.76 L210.80,115.75 L211.05,115.75 L211.30,115.74 L211.55,115.74 L211.80,115.73 L212.05,115.73 L212.30,115.72 L212.55,115.72 L212.80,115.71 L213.05,115.71 L213.30,115.70 L213.55,115.70 L213.80,115.69 L214.05,115.69 L214.30,115.68 L214.55,115.67 L214.80,115.67 L215.05,115.66 L215.30,115.66 L215.55,115.65 L215.80,115.65 L216.05,115.64 L216.30,115.63 L216.55,115.63 L216.80,115.62 L217.05,115.62 L217.30,115.61 L217.55,115.60 L217.80,115.60 L218.05,115.59 L218.30,115.58 L218.55,115.58 L218.80,115.57 L219.05,115.56 L219.30,115.56 L219.55,115.55 L219.80,115.54 L220.05,115.54 L220.30,115.53 L220.55,115.52 L220.80,115.51 L221.05,115.51 L221.30,115.50 L221.55,115.49 L221.80,115.48 L222.05,115.48 L222.30,115.47 L222.55,115.46 L222.80,115.45 L223.05,115.44 L223.30,115.43 L223.55,115.43 L223.80,115.42 L224.05,115.41 L224.30,115.40 L224.55,115.39 L224.80,115.38 L225.05,115.37 L225.30,115.36 L225.55,115.35 L225.80,115.34 L226.05,115.33 L226.30,115.32 L226.55,115.31 L226.80,115.30 L227.05,115.29 L227.30,115.28 L227.55,115.27 L227.80,115.26 L228.05,115.25 L228.30,115.24 L228.55,115.23 L228.80,115.22 L229.05,115.21 L229.30,115.19 L229.55,115.18 L229.80,115.17 L230.05,115.16 L230.30,115.14 L230.55,115.13 L230.80,115.12 L231.05,115.11 L231.30,115.09 L231.55,115.08 L231.80,115.07 L232.05,115.05 L232.30,115.04 L232.55,115.02 L232.80,115.01 L233.05,114.99 L233.30,114.98 L233.55,114.96 L233.80,114.95 L234.05,114.93 L234.30,114.92 L234.55,114.90 L234.80,114.89 L235.05,114.87 L235.30,114.85 L235.55,114.83 L235.80,114.82 L236.05,114.80 L236.30,114.78 L236.55,114.76 L236.80,114.74 L237.05,114.72 L237.30,114.70 L237.55,114.69 L237.80,114.66 L238.05,114.64 L238.30,114.62 L238.55,114.60 L238.80,114.58 L239.05,114.56 L239.30,114.54 L239.55,114.51 L239.80,114.49 L240.05,114.47 L240.30,114.44 L240.55,114.42 L240.80,114.39 L241.05,114.37 L241.30,114.34 L241.55,114.32 L241.80,114.29 L242.05,114.26 L242.30,114.23 L242.55,114.20 L242.80,114.18 L243.05,114.15 L243.30,114.12 L243.55,114.08 L243.80,114.05 L244.05,114.02 L244.30,113.99 L244.55,113.96 L244.80,113.92 L245.05,113.89 L245.30,113.85 L245.55,113.81 L245.80,113.78 L246.05,113.74 L246.30,113.70 L246.55,113.66 L246.80,113.62 L247.05,113.58 L247.30,113.54 L247.55,113.49 L247.80,113.45 L248.05,113.41 L248.30,113.36 L248.55,113.31 L248.80,113.26 L249.05,113.21 L249.30,113.16 L249.55,113.11 L249.80,113.06 L250.05,113.00 L250.30,112.95 L250.55,112.89 L250.80,112.83 L251.05,112.77 L251.30,112.71 L251.55,112.65 L251.80,112.59 L252.05,112.52 L252.30,112.45 L252.55,112.38 L252.80,112.31 L253.05,112.24 L253.30,112.16 L253.55,112.09 L253.80,112.01 L254.05,111.93 L254.30,111.84 L254.55,111.76 L254.80,111.67 L255.05,111.58 L255.30,111.48 L255.55,111.39 L255.80,111.29 L256.05,111.19 L256.30,111.08 L256.55,110.98 L256.80,110.87 L257.05,110.75 L257.30,110.63 L257.55,110.51 L257.80,110.39 L258.05,110.26 L258.30,110.13 L258.55,109.99 L258.80,109.85 L259.05,109.70 L259.30,109.55 L259.55,109.40 L259.80,109.24 L260.05,109.07 L260.30,108.90 L260.55,108.72 L260.80,108.54 L261.05,108.35 L261.30,108.15 L261.55,107.94 L261.80,107.73 L262.05,107.51 L262.30,107.29 L262.55,107.05 L262.80,106.81 L263.05,106.56 L263.30,106.29 L263.55,106.02 L263.80,105.74 L264.05,105.44 L264.30,105.14 L264.55,104.82 L264.80,104.49 L265.05,104.14 L265.30,103.79 L265.55,103.41 L265.80,103.03 L266.05,102.62 L266.30,102.20 L266.55,101.76 L266.80,101.30 L267.05,100.82 L267.30,100.33 L267.55,99.80 L267.80,99.26 L268.05,98.69 L268.30,98.10 L268.55,97.48 L268.80,96.83 L269.05,96.15 L269.30,95.45 L269.55,94.71 L269.80,93.93 L270.05,93.12 L270.30,92.28 L270.55,91.39 L270.80,90.46 L271.05,89.50 L271.30,88.49 L271.55,87.43 L271.80,86.33 L272.05,85.18 L272.30,83.98 L272.55,82.73 L272.80,81.43 L273.05,80.08 L273.30,78.68 L273.55,77.23 L273.80,75.73 L274.05,74.19 L274.30,72.59 L274.55,70.96 L274.80,69.29 L275.05,67.59 L275.30,65.86 L275.55,64.12 L275.80,62.38 L276.05,60.64 L276.30,58.91 L276.55,57.22 L276.80,55.58 L277.05,54.00 L277.30,52.50 L277.55,51.10 L277.80,49.82 L278.05,48.67 L278.30,47.67 L278.55,46.84 L278.80,46.19 L279.05,45.73 L279.30,45.47 L279.55,45.40 L279.80,45.55 L280.05,45.89 L280.30,46.43 L280.55,47.15 L280.80,48.05 L281.05,49.11 L281.30,50.32 L281.55,51.65 L281.80,53.09 L282.05,54.62 L282.30,56.23 L282.55,57.89 L282.80,59.60 L283.05,61.33 L283.30,63.08 L283.55,64.82 L283.80,66.56 L284.05,68.27 L284.30,69.96 L284.55,71.62 L284.80,73.24 L285.05,74.81 L285.30,76.34 L285.55,77.82 L285.80,79.25 L286.05,80.63 L286.30,81.96 L286.55,83.24 L286.80,84.47 L287.05,85.65 L287.30,86.78 L287.55,87.86 L287.80,88.90 L288.05,89.89 L288.30,90.84 L288.55,91.75 L288.80,92.62 L289.05,93.45 L289.30,94.25 L289.55,95.01 L289.80,95.73 L290.05,96.43 L290.30,97.09 L290.55,97.73 L290.80,98.34 L291.05,98.92 L291.30,99.48 L291.55,100.02 L291.80,100.53 L292.05,101.02 L292.30,101.49 L292.55,101.94 L292.80,102.37 L293.05,102.79 L293.30,103.18 L293.55,103.56 L293.80,103.93 L294.05,104.28 L294.30,104.62 L294.55,104.95 L294.80,105.26 L295.05,105.56 L295.30,105.85 L295.55,106.13 L295.80,106.40 L296.05,106.66 L296.30,106.91 L296.55,107.15 L296.80,107.38 L297.05,107.60 L297.30,107.82 L297.55,108.03 L297.80,108.23 L298.05,108.42 L298.30,108.61 L298.55,108.79 L298.80,108.97 L299.05,109.14 L299.30,109.30 L299.55,109.46 L299.80,109.61 L300.05,109.76 L300.30,109.91 L300.55,110.04 L300.80,110.18 L301.05,110.31 L301.30,110.44 L301.55,110.56 L301.80,110.68 L302.05,110.80 L302.30,110.91 L302.55,111.02 L302.80,111.13 L303.05,111.23 L303.30,111.33 L303.55,111.43 L303.80,111.52 L304.05,111.61 L304.30,111.70 L304.55,111.79 L304.80,111.88 L305.05,111.96 L305.30,112.04 L305.55,112.12 L305.80,112.19 L306.05,112.27 L306.30,112.34 L306.55,112.41 L306.80,112.48 L307.05,112.55 L307.30,112.61 L307.55,112.68 L307.80,112.74 L308.05,112.80 L308.30,112.86 L308.55,112.92 L308.80,112.97 L309.05,113.03 L309.30,113.08 L309.55,113.13 L309.80,113.18 L310.05,113.23 L310.30,113.28 L310.55,113.33 L310.80,113.38 L311.05,113.42 L311.30,113.47 L311.55,113.51 L311.80,113.55 L312.05,113.60 L312.30,113.64 L312.55,113.68 L312.80,113.72 L313.05,113.75 L313.30,113.79 L313.55,113.83 L313.80,113.87 L314.05,113.90 L314.30,113.93 L314.55,113.97 L314.80,114.00 L315.05,114.03 L315.30,114.07 L315.55,114.10 L315.80,114.13 L316.05,114.16 L316.30,114.19 L316.55,114.22 L316.80,114.24 L317.05,114.27 L317.30,114.30 L317.55,114.33 L317.80,114.35 L318.05,114.38 L318.30,114.40 L318.55,114.43 L318.80,114.45 L319.05,114.48 L319.30,114.50 L319.55,114.52 L319.80,114.55 L320.05,114.57 L320.30,114.59 L320.55,114.61 L320.80,114.63 L321.05,114.65 L321.30,114.67 L321.55,114.69 L321.80,114.71 L322.05,114.73 L322.30,114.75 L322.55,114.77 L322.80,114.79 L323.05,114.81 L323.30,114.82 L323.55,114.84 L323.80,114.86 L324.05,114.88 L324.30,114.89 L324.55,114.91 L324.80,114.92 L325.05,114.94 L325.30,114.96 L325.55,114.97 L325.80,114.99 L326.05,115.00 L326.30,115.02 L326.55,115.03 L326.80,115.04 L327.05,115.06 L327.30,115.07 L327.55,115.09 L327.80,115.10 L328.05,115.11 L328.30,115.12 L328.55,115.14 L328.80,115.15 L329.05,115.16 L329.30,115.17 L329.55,115.19 L329.80,115.20 L330.05,115.21 L330.30,115.22 L330.55,115.23 L330.80,115.24 L331.05,115.25 L331.30,115.27 L331.55,115.28 L331.80,115.29 L332.05,115.30 L332.30,115.31 L332.55,115.32 L332.80,115.33 L333.05,115.34 L333.30,115.35 L333.55,115.36 L333.80,115.37 L334.05,115.38 L334.30,115.38 L334.55,115.39 L334.80,115.40 L335.05,115.41 L335.30,115.42 L335.55,115.43 L335.80,115.44 L336.05,115.45 L336.30,115.45 L336.55,115.46 L336.80,115.47 L337.05,115.48 L337.30,115.49 L337.55,115.49 L337.80,115.50 L338.05,115.51 L338.30,115.52 L338.55,115.52 L338.80,115.53 L339.05,115.54 L339.30,115.55 L339.55,115.55 L339.80,115.56 L340.05,115.57 L340.30,115.57 L340.55,115.58 L340.80,115.59 L341.05,115.59 L341.30,115.60 L341.55,115.61 L341.80,115.61 L342.05,115.62 L342.30,115.62 L342.55,115.63 L342.80,115.64 L343.05,115.64 L343.30,115.65 L343.55,115.65 L343.80,115.66 L344.05,115.67 L344.30,115.67 L344.55,115.68 L344.80,115.68 L345.05,115.69 L345.30,115.69 L345.55,115.70 L345.80,115.70 L346.05,115.71 L346.30,115.71 L346.55,115.72 L346.80,115.72 L347.05,115.73 L347.30,115.73 L347.55,115.74 L347.80,115.74 L348.05,115.75 L348.30,115.75 L348.55,115.76 L348.80,115.76 L349.05,115.77 L349.30,115.77 L349.55,115.78 L349.80,115.78 L350.05,115.78 L350.30,115.79 L350.55,115.79 L350.80,115.80 L351.05,115.80 L351.30,115.81 L351.55,115.81 L351.80,115.81 L352.05,115.82 L352.30,115.82 L352.55,115.83 L352.80,115.83 L353.05,115.83 L353.30,115.84 L353.55,115.84" fill="none" stroke="#1414f5" stroke-width="1.0"/>
<rect x="210.8" y="116.4" width="141.5" height="27.599999999999994" fill="#ffff00" fill-opacity="0.4"/>
</g>
<rect x="210.8" y="29.5" width="141.50" height="114.50" fill="none" stroke="#9c9c9c" stroke-width="1"/>
<line x1="233.40" y1="144.0" x2="233.40" y2="146.5" stroke="#555" stroke-width="0.8"/>
<line x1="277.30" y1="144.0" x2="277.30" y2="146.5" stroke="#555" stroke-width="0.8"/>
<line x1="321.20" y1="144.0" x2="321.20" y2="146.5" stroke="#555" stroke-width="0.8"/>
<line x1="211.45" y1="144.0" x2="211.45" y2="145.6" stroke="#555" stroke-width="0.7"/>
<line x1="255.35" y1="144.0" x2="255.35" y2="145.6" stroke="#555" stroke-width="0.7"/>
<line x1="299.25" y1="144.0" x2="299.25" y2="145.6" stroke="#555" stroke-width="0.7"/>
<line x1="343.15" y1="144.0" x2="343.15" y2="145.6" stroke="#555" stroke-width="0.7"/>
<line x1="210.8" y1="144.00" x2="208.3" y2="144.00" stroke="#555" stroke-width="0.8"/>
<line x1="210.8" y1="121.10" x2="208.3" y2="121.10" stroke="#555" stroke-width="0.8"/>
<line x1="210.8" y1="98.20" x2="208.3" y2="98.20" stroke="#555" stroke-width="0.8"/>
<line x1="210.8" y1="75.20" x2="208.3" y2="75.20" stroke="#555" stroke-width="0.8"/>
<line x1="210.8" y1="52.30" x2="208.3" y2="52.30" stroke="#555" stroke-width="0.8"/>
<line x1="210.8" y1="29.40" x2="208.3" y2="29.40" stroke="#555" stroke-width="0.8"/>
<line x1="210.8" y1="132.55" x2="209.20000000000002" y2="132.55" stroke="#555" stroke-width="0.7"/>
<line x1="210.8" y1="109.65" x2="209.20000000000002" y2="109.65" stroke="#555" stroke-width="0.7"/>
<line x1="210.8" y1="86.70" x2="209.20000000000002" y2="86.70" stroke="#555" stroke-width="0.7"/>
<line x1="210.8" y1="63.75" x2="209.20000000000002" y2="63.75" stroke="#555" stroke-width="0.7"/>
<line x1="210.8" y1="40.85" x2="209.20000000000002" y2="40.85" stroke="#555" stroke-width="0.7"/>
<text x="224.68" y="153.40" font-size="8.5" fill="#000" font-weight="bold" textLength="17.39" lengthAdjust="spacingAndGlyphs" >6900</text>
<text x="268.54" y="153.40" font-size="8.5" fill="#000" font-weight="bold" textLength="17.39" lengthAdjust="spacingAndGlyphs" >6905</text>
<text x="312.48" y="153.40" font-size="8.5" fill="#000" font-weight="bold" textLength="17.39" lengthAdjust="spacingAndGlyphs" >6910</text>
<text x="187.28" y="146.50" font-size="8.5" fill="#000" font-weight="bold" textLength="19.57" lengthAdjust="spacingAndGlyphs" >0.400</text>
<text x="187.28" y="123.60" font-size="8.5" fill="#000" font-weight="bold" textLength="19.57" lengthAdjust="spacingAndGlyphs" >0.402</text>
<text x="187.05" y="100.70" font-size="8.5" fill="#000" font-weight="bold" textLength="19.57" lengthAdjust="spacingAndGlyphs" >0.404</text>
<text x="187.28" y="77.70" font-size="8.5" fill="#000" font-weight="bold" textLength="19.57" lengthAdjust="spacingAndGlyphs" >0.406</text>
<text x="187.21" y="54.80" font-size="8.5" fill="#000" font-weight="bold" textLength="19.57" lengthAdjust="spacingAndGlyphs" >0.408</text>
<text x="187.28" y="31.90" font-size="8.5" fill="#000" font-weight="bold" textLength="19.57" lengthAdjust="spacingAndGlyphs" >0.410</text>
<text x="239.43" y="169.00" font-size="10.8" fill="#000" font-weight="bold" textLength="84.01" lengthAdjust="spacingAndGlyphs" >Frequency (kHz)</text>
<g transform="translate(182.20,120.20) rotate(-90)" font-weight="bold" fill="#000">
<text x="-0.36" y="0" font-size="12">S</text>
<text x="7.33" y="-4.6" font-size="7.0" textLength="18.39" lengthAdjust="spacingAndGlyphs">th 1/2</text>
<text x="7.32" y="1.9" font-size="7.6">x</text>
<text x="30.17" y="0" font-size="10.6" textLength="44.81" lengthAdjust="spacingAndGlyphs">(pm/√Hz)</text>
</g>
<line x1="285.7" y1="35.6" x2="302.4" y2="35.6" stroke="#000" stroke-width="1.1"/>
<text x="304.48" y="37.50" font-size="8.0" fill="#000" font-weight="bold" textLength="46.33" lengthAdjust="spacingAndGlyphs" >Experimental</text>
<rect x="285.7" y="41.1" width="16.69999999999999" height="7.5" fill="#0000ff" fill-opacity="0.5"/>
<text x="304.46" y="47.60" font-size="8.0" fill="#000" font-weight="bold" textLength="23.45" lengthAdjust="spacingAndGlyphs" >Fitting</text>
<text x="291.20" y="67.40" font-size="8.4" fill="#1414f5" font-weight="bold" textLength="27.32" lengthAdjust="spacingAndGlyphs" >Bridge</text>
<text x="291.46" y="78.90" font-size="8.4" fill="#1414f5" font-weight="bold" textLength="58.94" lengthAdjust="spacingAndGlyphs" >Q = 4936 <tspan font-weight="normal" fill-opacity="0.55">±</tspan> 233</text>
<text x="231.92" y="85.30" font-size="8.4" fill="#1414f5" font-weight="bold" textLength="35.86" lengthAdjust="spacingAndGlyphs" >TH noise</text>
<text x="247.80" y="138.50" font-size="8.4" fill="#ff8a10" font-weight="bold" textLength="69.52" lengthAdjust="spacingAndGlyphs" >Instrument noise</text>
<clipPath id="c22"><rect x="210.8" y="190.5" width="141.5" height="114.5"/></clipPath>
<g clip-path="url(#c22)">
<path d="M209.00,286.69 L209.70,285.33 L210.40,287.69 L211.10,286.38 L211.80,286.08 L212.50,285.53 L213.20,287.29 L213.90,285.30 L214.60,286.88 L215.30,285.68 L216.00,286.17 L216.70,285.85 L217.40,286.55 L218.10,286.63 L218.80,284.83 L219.50,286.76 L220.20,286.38 L220.90,286.60 L221.60,286.94 L222.30,283.99 L223.00,287.08 L223.70,283.70 L224.40,284.50 L225.10,285.33 L225.80,285.90 L226.50,285.39 L227.20,285.03 L227.90,285.09 L228.60,283.41 L229.30,284.34 L230.00,286.57 L230.70,281.69 L231.40,283.70 L232.10,283.69 L232.80,282.79 L233.50,283.35 L234.20,283.42 L234.90,282.92 L235.60,282.92 L236.30,281.79 L237.00,283.20 L237.70,281.84 L238.40,281.20 L239.10,284.05 L239.80,281.30 L240.50,281.17 L241.20,279.57 L241.90,281.55 L242.60,279.93 L243.30,280.01 L244.00,281.11 L244.70,280.64 L245.40,279.14 L246.10,280.07 L246.80,279.64 L247.50,278.77 L248.20,277.67 L248.90,278.67 L249.60,276.38 L250.30,277.83 L251.00,277.05 L251.70,275.44 L252.40,275.16 L253.10,278.08 L253.80,273.26 L254.50,274.77 L255.20,273.83 L255.90,274.02 L256.60,273.29 L257.30,273.22 L258.00,272.36 L258.70,270.94 L259.40,268.87 L260.10,269.13 L260.80,269.06 L261.50,268.16 L262.20,267.80 L262.90,265.54 L263.60,263.50 L264.30,262.96 L265.00,262.52 L265.70,261.90 L266.40,260.54 L267.10,258.84 L267.80,255.33 L268.50,254.41 L269.20,253.53 L269.90,251.37 L270.60,249.79 L271.30,245.57 L272.00,244.95 L272.70,239.18 L273.40,238.63 L274.10,236.29 L274.80,232.86 L275.50,230.86 L276.20,226.55 L276.90,223.43 L277.60,220.74 L278.30,216.00 L279.00,215.21 L279.70,210.46 L280.40,209.39 L281.10,207.37 L281.80,205.82 L282.50,206.15 L283.20,206.97 L283.90,207.59 L284.60,212.13 L285.30,211.62 L286.00,215.50 L286.70,219.75 L287.40,222.47 L288.10,226.36 L288.80,227.18 L289.50,231.63 L290.20,234.98 L290.90,239.08 L291.60,239.89 L292.30,243.23 L293.00,247.52 L293.70,248.40 L294.40,250.59 L295.10,252.12 L295.80,255.18 L296.50,254.02 L297.20,256.66 L297.90,258.42 L298.60,260.50 L299.30,261.72 L300.00,260.94 L300.70,264.25 L301.40,264.43 L302.10,268.96 L302.80,266.99 L303.50,269.17 L304.20,268.50 L304.90,269.61 L305.60,269.80 L306.30,272.15 L307.00,273.29 L307.70,271.48 L308.40,273.79 L309.10,274.63 L309.80,275.77 L310.50,274.53 L311.20,276.99 L311.90,274.93 L312.60,276.76 L313.30,276.54 L314.00,277.14 L314.70,278.86 L315.40,278.71 L316.10,281.33 L316.80,278.84 L317.50,278.54 L318.20,280.69 L318.90,280.11 L319.60,279.74 L320.30,281.70 L321.00,282.11 L321.70,279.57 L322.40,280.87 L323.10,282.60 L323.80,280.97 L324.50,283.53 L325.20,282.01 L325.90,282.74 L326.60,282.70 L327.30,281.68 L328.00,282.75 L328.70,282.41 L329.40,282.85 L330.10,284.45 L330.80,284.21 L331.50,283.51 L332.20,284.14 L332.90,285.47 L333.60,284.13 L334.30,283.91 L335.00,285.13 L335.70,284.01 L336.40,283.49 L337.10,286.58 L337.80,283.84 L338.50,285.16 L339.20,285.54 L339.90,284.92 L340.60,287.14 L341.30,287.28 L342.00,285.93 L342.70,284.14 L343.40,286.08 L344.10,284.11 L344.80,286.42 L345.50,286.77 L346.20,286.34 L346.90,287.33 L347.60,286.37 L348.30,285.37 L349.00,285.89 L349.70,287.45 L350.40,284.32 L351.10,286.72 L351.80,285.28 L352.50,288.78 L353.20,285.13 L353.90,284.41 L354.60,287.58" fill="none" stroke="#000" stroke-width="1.7" stroke-linejoin="round"/>
<path d="M209.80,290.40 L209.80,287.21 L210.05,287.19 L210.30,287.17 L210.55,287.15 L210.80,287.13 L211.05,287.11 L211.30,287.09 L211.55,287.07 L211.80,287.05 L212.05,287.02 L212.30,287.00 L212.55,286.98 L212.80,286.96 L213.05,286.93 L213.30,286.91 L213.55,286.89 L213.80,286.86 L214.05,286.84 L214.30,286.81 L214.55,286.79 L214.80,286.77 L215.05,286.74 L215.30,286.72 L215.55,286.69 L215.80,286.67 L216.05,286.64 L216.30,286.61 L216.55,286.59 L216.80,286.56 L217.05,286.53 L217.30,286.51 L217.55,286.48 L217.80,286.45 L218.05,286.42 L218.30,286.40 L218.55,286.37 L218.80,286.34 L219.05,286.31 L219.30,286.28 L219.55,286.25 L219.80,286.22 L220.05,286.19 L220.30,286.16 L220.55,286.13 L220.80,286.10 L221.05,286.07 L221.30,286.04 L221.55,286.00 L221.80,285.97 L222.05,285.94 L222.30,285.91 L222.55,285.87 L222.80,285.84 L223.05,285.80 L223.30,285.77 L223.55,285.74 L223.80,285.70 L224.05,285.66 L224.30,285.63 L224.55,285.59 L224.80,285.56 L225.05,285.52 L225.30,285.48 L225.55,285.44 L225.80,285.40 L226.05,285.37 L226.30,285.33 L226.55,285.29 L226.80,285.25 L227.05,285.21 L227.30,285.16 L227.55,285.12 L227.80,285.08 L228.05,285.04 L228.30,285.00 L228.55,284.95 L228.80,284.91 L229.05,284.86 L229.30,284.82 L229.55,284.77 L229.80,284.73 L230.05,284.68 L230.30,284.63 L230.55,284.59 L230.80,284.54 L231.05,284.49 L231.30,284.44 L231.55,284.39 L231.80,284.34 L232.05,284.29 L232.30,284.24 L232.55,284.19 L232.80,284.13 L233.05,284.08 L233.30,284.02 L233.55,283.97 L233.80,283.91 L234.05,283.86 L234.30,283.80 L234.55,283.74 L234.80,283.68 L235.05,283.63 L235.30,283.57 L235.55,283.50 L235.80,283.44 L236.05,283.38 L236.30,283.32 L236.55,283.25 L236.80,283.19 L237.05,283.12 L237.30,283.06 L237.55,282.99 L237.80,282.92 L238.05,282.85 L238.30,282.78 L238.55,282.71 L238.80,282.64 L239.05,282.57 L239.30,282.49 L239.55,282.42 L239.80,282.34 L240.05,282.27 L240.30,282.19 L240.55,282.11 L240.80,282.03 L241.05,281.95 L241.30,281.87 L241.55,281.78 L241.80,281.70 L242.05,281.61 L242.30,281.53 L242.55,281.44 L242.80,281.35 L243.05,281.26 L243.30,281.17 L243.55,281.07 L243.80,280.98 L244.05,280.88 L244.30,280.79 L244.55,280.69 L244.80,280.59 L245.05,280.48 L245.30,280.38 L245.55,280.28 L245.80,280.17 L246.05,280.06 L246.30,279.95 L246.55,279.84 L246.80,279.73 L247.05,279.61 L247.30,279.50 L247.55,279.38 L247.80,279.26 L248.05,279.14 L248.30,279.01 L248.55,278.89 L248.80,278.76 L249.05,278.63 L249.30,278.49 L249.55,278.36 L249.80,278.22 L250.05,278.08 L250.30,277.94 L250.55,277.80 L250.80,277.65 L251.05,277.51 L251.30,277.36 L251.55,277.20 L251.80,277.05 L252.05,276.89 L252.30,276.73 L252.55,276.56 L252.80,276.39 L253.05,276.22 L253.30,276.05 L253.55,275.88 L253.80,275.70 L254.05,275.51 L254.30,275.33 L254.55,275.14 L254.80,274.95 L255.05,274.75 L255.30,274.55 L255.55,274.35 L255.80,274.14 L256.05,273.93 L256.30,273.72 L256.55,273.50 L256.80,273.27 L257.05,273.05 L257.30,272.82 L257.55,272.58 L257.80,272.34 L258.05,272.09 L258.30,271.84 L258.55,271.59 L258.80,271.33 L259.05,271.06 L259.30,270.79 L259.55,270.51 L259.80,270.23 L260.05,269.94 L260.30,269.65 L260.55,269.35 L260.80,269.04 L261.05,268.73 L261.30,268.41 L261.55,268.08 L261.80,267.75 L262.05,267.41 L262.30,267.06 L262.55,266.70 L262.80,266.34 L263.05,265.97 L263.30,265.59 L263.55,265.20 L263.80,264.80 L264.05,264.39 L264.30,263.98 L264.55,263.55 L264.80,263.12 L265.05,262.67 L265.30,262.22 L265.55,261.75 L265.80,261.27 L266.05,260.78 L266.30,260.28 L266.55,259.77 L266.80,259.24 L267.05,258.71 L267.30,258.16 L267.55,257.59 L267.80,257.01 L268.05,256.42 L268.30,255.81 L268.55,255.19 L268.80,254.55 L269.05,253.90 L269.30,253.23 L269.55,252.54 L269.80,251.84 L270.05,251.12 L270.30,250.38 L270.55,249.62 L270.80,248.85 L271.05,248.05 L271.30,247.24 L271.55,246.41 L271.80,245.55 L272.05,244.68 L272.30,243.78 L272.55,242.87 L272.80,241.93 L273.05,240.97 L273.30,239.99 L273.55,239.00 L273.80,237.97 L274.05,236.93 L274.30,235.87 L274.55,234.79 L274.80,233.70 L275.05,232.58 L275.30,231.45 L275.55,230.30 L275.80,229.14 L276.05,227.96 L276.30,226.78 L276.55,225.59 L276.80,224.40 L277.05,223.20 L277.30,222.01 L277.55,220.82 L277.80,219.64 L278.05,218.48 L278.30,217.34 L278.55,216.22 L278.80,215.13 L279.05,214.08 L279.30,213.08 L279.55,212.12 L279.80,211.22 L280.05,210.38 L280.30,209.61 L280.55,208.91 L280.80,208.29 L281.05,207.76 L281.30,207.32 L281.55,206.97 L281.80,206.72 L282.05,206.57 L282.30,206.52 L282.55,206.57 L282.80,206.72 L283.05,206.97 L283.30,207.32 L283.55,207.76 L283.80,208.29 L284.05,208.91 L284.30,209.61 L284.55,210.38 L284.80,211.22 L285.05,212.12 L285.30,213.08 L285.55,214.08 L285.80,215.13 L286.05,216.22 L286.30,217.34 L286.55,218.48 L286.80,219.64 L287.05,220.82 L287.30,222.01 L287.55,223.20 L287.80,224.40 L288.05,225.59 L288.30,226.78 L288.55,227.96 L288.80,229.14 L289.05,230.30 L289.30,231.45 L289.55,232.58 L289.80,233.70 L290.05,234.79 L290.30,235.87 L290.55,236.93 L290.80,237.97 L291.05,239.00 L291.30,239.99 L291.55,240.97 L291.80,241.93 L292.05,242.87 L292.30,243.78 L292.55,244.68 L292.80,245.55 L293.05,246.41 L293.30,247.24 L293.55,248.05 L293.80,248.85 L294.05,249.62 L294.30,250.38 L294.55,251.12 L294.80,251.84 L295.05,252.54 L295.30,253.23 L295.55,253.90 L295.80,254.55 L296.05,255.19 L296.30,255.81 L296.55,256.42 L296.80,257.01 L297.05,257.59 L297.30,258.16 L297.55,258.71 L297.80,259.24 L298.05,259.77 L298.30,260.28 L298.55,260.78 L298.80,261.27 L299.05,261.75 L299.30,262.22 L299.55,262.67 L299.80,263.12 L300.05,263.55 L300.30,263.98 L300.55,264.39 L300.80,264.80 L301.05,265.20 L301.30,265.59 L301.55,265.97 L301.80,266.34 L302.05,266.70 L302.30,267.06 L302.55,267.41 L302.80,267.75 L303.05,268.08 L303.30,268.41 L303.55,268.73 L303.80,269.04 L304.05,269.35 L304.30,269.65 L304.55,269.94 L304.80,270.23 L305.05,270.51 L305.30,270.79 L305.55,271.06 L305.80,271.33 L306.05,271.59 L306.30,271.84 L306.55,272.09 L306.80,272.34 L307.05,272.58 L307.30,272.82 L307.55,273.05 L307.80,273.27 L308.05,273.50 L308.30,273.72 L308.55,273.93 L308.80,274.14 L309.05,274.35 L309.30,274.55 L309.55,274.75 L309.80,274.95 L310.05,275.14 L310.30,275.33 L310.55,275.51 L310.80,275.70 L311.05,275.88 L311.30,276.05 L311.55,276.22 L311.80,276.39 L312.05,276.56 L312.30,276.73 L312.55,276.89 L312.80,277.05 L313.05,277.20 L313.30,277.36 L313.55,277.51 L313.80,277.65 L314.05,277.80 L314.30,277.94 L314.55,278.08 L314.80,278.22 L315.05,278.36 L315.30,278.49 L315.55,278.63 L315.80,278.76 L316.05,278.89 L316.30,279.01 L316.55,279.14 L316.80,279.26 L317.05,279.38 L317.30,279.50 L317.55,279.61 L317.80,279.73 L318.05,279.84 L318.30,279.95 L318.55,280.06 L318.80,280.17 L319.05,280.28 L319.30,280.38 L319.55,280.48 L319.80,280.59 L320.05,280.69 L320.30,280.79 L320.55,280.88 L320.80,280.98 L321.05,281.07 L321.30,281.17 L321.55,281.26 L321.80,281.35 L322.05,281.44 L322.30,281.53 L322.55,281.61 L322.80,281.70 L323.05,281.78 L323.30,281.87 L323.55,281.95 L323.80,282.03 L324.05,282.11 L324.30,282.19 L324.55,282.27 L324.80,282.34 L325.05,282.42 L325.30,282.49 L325.55,282.57 L325.80,282.64 L326.05,282.71 L326.30,282.78 L326.55,282.85 L326.80,282.92 L327.05,282.99 L327.30,283.06 L327.55,283.12 L327.80,283.19 L328.05,283.25 L328.30,283.32 L328.55,283.38 L328.80,283.44 L329.05,283.50 L329.30,283.57 L329.55,283.63 L329.80,283.68 L330.05,283.74 L330.30,283.80 L330.55,283.86 L330.80,283.91 L331.05,283.97 L331.30,284.02 L331.55,284.08 L331.80,284.13 L332.05,284.19 L332.30,284.24 L332.55,284.29 L332.80,284.34 L333.05,284.39 L333.30,284.44 L333.55,284.49 L333.80,284.54 L334.05,284.59 L334.30,284.63 L334.55,284.68 L334.80,284.73 L335.05,284.77 L335.30,284.82 L335.55,284.86 L335.80,284.91 L336.05,284.95 L336.30,285.00 L336.55,285.04 L336.80,285.08 L337.05,285.12 L337.30,285.16 L337.55,285.21 L337.80,285.25 L338.05,285.29 L338.30,285.33 L338.55,285.37 L338.80,285.40 L339.05,285.44 L339.30,285.48 L339.55,285.52 L339.80,285.56 L340.05,285.59 L340.30,285.63 L340.55,285.66 L340.80,285.70 L341.05,285.74 L341.30,285.77 L341.55,285.80 L341.80,285.84 L342.05,285.87 L342.30,285.91 L342.55,285.94 L342.80,285.97 L343.05,286.00 L343.30,286.04 L343.55,286.07 L343.80,286.10 L344.05,286.13 L344.30,286.16 L344.55,286.19 L344.80,286.22 L345.05,286.25 L345.30,286.28 L345.55,286.31 L345.80,286.34 L346.05,286.37 L346.30,286.40 L346.55,286.42 L346.80,286.45 L347.05,286.48 L347.30,286.51 L347.55,286.53 L347.80,286.56 L348.05,286.59 L348.30,286.61 L348.55,286.64 L348.80,286.67 L349.05,286.69 L349.30,286.72 L349.55,286.74 L349.80,286.77 L350.05,286.79 L350.30,286.81 L350.55,286.84 L350.80,286.86 L351.05,286.89 L351.30,286.91 L351.55,286.93 L351.80,286.96 L352.05,286.98 L352.30,287.00 L352.55,287.02 L352.80,287.05 L353.05,287.07 L353.30,287.09 L353.55,287.11 L353.55,290.40 Z" fill="#ff0000" fill-opacity="0.5"/>
<path d="M209.80,287.21 L210.05,287.19 L210.30,287.17 L210.55,287.15 L210.80,287.13 L211.05,287.11 L211.30,287.09 L211.55,287.07 L211.80,287.05 L212.05,287.02 L212.30,287.00 L212.55,286.98 L212.80,286.96 L213.05,286.93 L213.30,286.91 L213.55,286.89 L213.80,286.86 L214.05,286.84 L214.30,286.81 L214.55,286.79 L214.80,286.77 L215.05,286.74 L215.30,286.72 L215.55,286.69 L215.80,286.67 L216.05,286.64 L216.30,286.61 L216.55,286.59 L216.80,286.56 L217.05,286.53 L217.30,286.51 L217.55,286.48 L217.80,286.45 L218.05,286.42 L218.30,286.40 L218.55,286.37 L218.80,286.34 L219.05,286.31 L219.30,286.28 L219.55,286.25 L219.80,286.22 L220.05,286.19 L220.30,286.16 L220.55,286.13 L220.80,286.10 L221.05,286.07 L221.30,286.04 L221.55,286.00 L221.80,285.97 L222.05,285.94 L222.30,285.91 L222.55,285.87 L222.80,285.84 L223.05,285.80 L223.30,285.77 L223.55,285.74 L223.80,285.70 L224.05,285.66 L224.30,285.63 L224.55,285.59 L224.80,285.56 L225.05,285.52 L225.30,285.48 L225.55,285.44 L225.80,285.40 L226.05,285.37 L226.30,285.33 L226.55,285.29 L226.80,285.25 L227.05,285.21 L227.30,285.16 L227.55,285.12 L227.80,285.08 L228.05,285.04 L228.30,285.00 L228.55,284.95 L228.80,284.91 L229.05,284.86 L229.30,284.82 L229.55,284.77 L229.80,284.73 L230.05,284.68 L230.30,284.63 L230.55,284.59 L230.80,284.54 L231.05,284.49 L231.30,284.44 L231.55,284.39 L231.80,284.34 L232.05,284.29 L232.30,284.24 L232.55,284.19 L232.80,284.13 L233.05,284.08 L233.30,284.02 L233.55,283.97 L233.80,283.91 L234.05,283.86 L234.30,283.80 L234.55,283.74 L234.80,283.68 L235.05,283.63 L235.30,283.57 L235.55,283.50 L235.80,283.44 L236.05,283.38 L236.30,283.32 L236.55,283.25 L236.80,283.19 L237.05,283.12 L237.30,283.06 L237.55,282.99 L237.80,282.92 L238.05,282.85 L238.30,282.78 L238.55,282.71 L238.80,282.64 L239.05,282.57 L239.30,282.49 L239.55,282.42 L239.80,282.34 L240.05,282.27 L240.30,282.19 L240.55,282.11 L240.80,282.03 L241.05,281.95 L241.30,281.87 L241.55,281.78 L241.80,281.70 L242.05,281.61 L242.30,281.53 L242.55,281.44 L242.80,281.35 L243.05,281.26 L243.30,281.17 L243.55,281.07 L243.80,280.98 L244.05,280.88 L244.30,280.79 L244.55,280.69 L244.80,280.59 L245.05,280.48 L245.30,280.38 L245.55,280.28 L245.80,280.17 L246.05,280.06 L246.30,279.95 L246.55,279.84 L246.80,279.73 L247.05,279.61 L247.30,279.50 L247.55,279.38 L247.80,279.26 L248.05,279.14 L248.30,279.01 L248.55,278.89 L248.80,278.76 L249.05,278.63 L249.30,278.49 L249.55,278.36 L249.80,278.22 L250.05,278.08 L250.30,277.94 L250.55,277.80 L250.80,277.65 L251.05,277.51 L251.30,277.36 L251.55,277.20 L251.80,277.05 L252.05,276.89 L252.30,276.73 L252.55,276.56 L252.80,276.39 L253.05,276.22 L253.30,276.05 L253.55,275.88 L253.80,275.70 L254.05,275.51 L254.30,275.33 L254.55,275.14 L254.80,274.95 L255.05,274.75 L255.30,274.55 L255.55,274.35 L255.80,274.14 L256.05,273.93 L256.30,273.72 L256.55,273.50 L256.80,273.27 L257.05,273.05 L257.30,272.82 L257.55,272.58 L257.80,272.34 L258.05,272.09 L258.30,271.84 L258.55,271.59 L258.80,271.33 L259.05,271.06 L259.30,270.79 L259.55,270.51 L259.80,270.23 L260.05,269.94 L260.30,269.65 L260.55,269.35 L260.80,269.04 L261.05,268.73 L261.30,268.41 L261.55,268.08 L261.80,267.75 L262.05,267.41 L262.30,267.06 L262.55,266.70 L262.80,266.34 L263.05,265.97 L263.30,265.59 L263.55,265.20 L263.80,264.80 L264.05,264.39 L264.30,263.98 L264.55,263.55 L264.80,263.12 L265.05,262.67 L265.30,262.22 L265.55,261.75 L265.80,261.27 L266.05,260.78 L266.30,260.28 L266.55,259.77 L266.80,259.24 L267.05,258.71 L267.30,258.16 L267.55,257.59 L267.80,257.01 L268.05,256.42 L268.30,255.81 L268.55,255.19 L268.80,254.55 L269.05,253.90 L269.30,253.23 L269.55,252.54 L269.80,251.84 L270.05,251.12 L270.30,250.38 L270.55,249.62 L270.80,248.85 L271.05,248.05 L271.30,247.24 L271.55,246.41 L271.80,245.55 L272.05,244.68 L272.30,243.78 L272.55,242.87 L272.80,241.93 L273.05,240.97 L273.30,239.99 L273.55,239.00 L273.80,237.97 L274.05,236.93 L274.30,235.87 L274.55,234.79 L274.80,233.70 L275.05,232.58 L275.30,231.45 L275.55,230.30 L275.80,229.14 L276.05,227.96 L276.30,226.78 L276.55,225.59 L276.80,224.40 L277.05,223.20 L277.30,222.01 L277.55,220.82 L277.80,219.64 L278.05,218.48 L278.30,217.34 L278.55,216.22 L278.80,215.13 L279.05,214.08 L279.30,213.08 L279.55,212.12 L279.80,211.22 L280.05,210.38 L280.30,209.61 L280.55,208.91 L280.80,208.29 L281.05,207.76 L281.30,207.32 L281.55,206.97 L281.80,206.72 L282.05,206.57 L282.30,206.52 L282.55,206.57 L282.80,206.72 L283.05,206.97 L283.30,207.32 L283.55,207.76 L283.80,208.29 L284.05,208.91 L284.30,209.61 L284.55,210.38 L284.80,211.22 L285.05,212.12 L285.30,213.08 L285.55,214.08 L285.80,215.13 L286.05,216.22 L286.30,217.34 L286.55,218.48 L286.80,219.64 L287.05,220.82 L287.30,222.01 L287.55,223.20 L287.80,224.40 L288.05,225.59 L288.30,226.78 L288.55,227.96 L288.80,229.14 L289.05,230.30 L289.30,231.45 L289.55,232.58 L289.80,233.70 L290.05,234.79 L290.30,235.87 L290.55,236.93 L290.80,237.97 L291.05,239.00 L291.30,239.99 L291.55,240.97 L291.80,241.93 L292.05,242.87 L292.30,243.78 L292.55,244.68 L292.80,245.55 L293.05,246.41 L293.30,247.24 L293.55,248.05 L293.80,248.85 L294.05,249.62 L294.30,250.38 L294.55,251.12 L294.80,251.84 L295.05,252.54 L295.30,253.23 L295.55,253.90 L295.80,254.55 L296.05,255.19 L296.30,255.81 L296.55,256.42 L296.80,257.01 L297.05,257.59 L297.30,258.16 L297.55,258.71 L297.80,259.24 L298.05,259.77 L298.30,260.28 L298.55,260.78 L298.80,261.27 L299.05,261.75 L299.30,262.22 L299.55,262.67 L299.80,263.12 L300.05,263.55 L300.30,263.98 L300.55,264.39 L300.80,264.80 L301.05,265.20 L301.30,265.59 L301.55,265.97 L301.80,266.34 L302.05,266.70 L302.30,267.06 L302.55,267.41 L302.80,267.75 L303.05,268.08 L303.30,268.41 L303.55,268.73 L303.80,269.04 L304.05,269.35 L304.30,269.65 L304.55,269.94 L304.80,270.23 L305.05,270.51 L305.30,270.79 L305.55,271.06 L305.80,271.33 L306.05,271.59 L306.30,271.84 L306.55,272.09 L306.80,272.34 L307.05,272.58 L307.30,272.82 L307.55,273.05 L307.80,273.27 L308.05,273.50 L308.30,273.72 L308.55,273.93 L308.80,274.14 L309.05,274.35 L309.30,274.55 L309.55,274.75 L309.80,274.95 L310.05,275.14 L310.30,275.33 L310.55,275.51 L310.80,275.70 L311.05,275.88 L311.30,276.05 L311.55,276.22 L311.80,276.39 L312.05,276.56 L312.30,276.73 L312.55,276.89 L312.80,277.05 L313.05,277.20 L313.30,277.36 L313.55,277.51 L313.80,277.65 L314.05,277.80 L314.30,277.94 L314.55,278.08 L314.80,278.22 L315.05,278.36 L315.30,278.49 L315.55,278.63 L315.80,278.76 L316.05,278.89 L316.30,279.01 L316.55,279.14 L316.80,279.26 L317.05,279.38 L317.30,279.50 L317.55,279.61 L317.80,279.73 L318.05,279.84 L318.30,279.95 L318.55,280.06 L318.80,280.17 L319.05,280.28 L319.30,280.38 L319.55,280.48 L319.80,280.59 L320.05,280.69 L320.30,280.79 L320.55,280.88 L320.80,280.98 L321.05,281.07 L321.30,281.17 L321.55,281.26 L321.80,281.35 L322.05,281.44 L322.30,281.53 L322.55,281.61 L322.80,281.70 L323.05,281.78 L323.30,281.87 L323.55,281.95 L323.80,282.03 L324.05,282.11 L324.30,282.19 L324.55,282.27 L324.80,282.34 L325.05,282.42 L325.30,282.49 L325.55,282.57 L325.80,282.64 L326.05,282.71 L326.30,282.78 L326.55,282.85 L326.80,282.92 L327.05,282.99 L327.30,283.06 L327.55,283.12 L327.80,283.19 L328.05,283.25 L328.30,283.32 L328.55,283.38 L328.80,283.44 L329.05,283.50 L329.30,283.57 L329.55,283.63 L329.80,283.68 L330.05,283.74 L330.30,283.80 L330.55,283.86 L330.80,283.91 L331.05,283.97 L331.30,284.02 L331.55,284.08 L331.80,284.13 L332.05,284.19 L332.30,284.24 L332.55,284.29 L332.80,284.34 L333.05,284.39 L333.30,284.44 L333.55,284.49 L333.80,284.54 L334.05,284.59 L334.30,284.63 L334.55,284.68 L334.80,284.73 L335.05,284.77 L335.30,284.82 L335.55,284.86 L335.80,284.91 L336.05,284.95 L336.30,285.00 L336.55,285.04 L336.80,285.08 L337.05,285.12 L337.30,285.16 L337.55,285.21 L337.80,285.25 L338.05,285.29 L338.30,285.33 L338.55,285.37 L338.80,285.40 L339.05,285.44 L339.30,285.48 L339.55,285.52 L339.80,285.56 L340.05,285.59 L340.30,285.63 L340.55,285.66 L340.80,285.70 L341.05,285.74 L341.30,285.77 L341.55,285.80 L341.80,285.84 L342.05,285.87 L342.30,285.91 L342.55,285.94 L342.80,285.97 L343.05,286.00 L343.30,286.04 L343.55,286.07 L343.80,286.10 L344.05,286.13 L344.30,286.16 L344.55,286.19 L344.80,286.22 L345.05,286.25 L345.30,286.28 L345.55,286.31 L345.80,286.34 L346.05,286.37 L346.30,286.40 L346.55,286.42 L346.80,286.45 L347.05,286.48 L347.30,286.51 L347.55,286.53 L347.80,286.56 L348.05,286.59 L348.30,286.61 L348.55,286.64 L348.80,286.67 L349.05,286.69 L349.30,286.72 L349.55,286.74 L349.80,286.77 L350.05,286.79 L350.30,286.81 L350.55,286.84 L350.80,286.86 L351.05,286.89 L351.30,286.91 L351.55,286.93 L351.80,286.96 L352.05,286.98 L352.30,287.00 L352.55,287.02 L352.80,287.05 L353.05,287.07 L353.30,287.09 L353.55,287.11" fill="none" stroke="#ff1a1a" stroke-width="1.0"/>
<rect x="210.8" y="290.4" width="141.5" height="14.600000000000023" fill="#ffff00" fill-opacity="0.4"/>
</g>
<rect x="210.8" y="190.5" width="141.50" height="114.50" fill="none" stroke="#9c9c9c" stroke-width="1"/>
<line x1="234.00" y1="305.0" x2="234.00" y2="307.5" stroke="#555" stroke-width="0.8"/>
<line x1="282.00" y1="305.0" x2="282.00" y2="307.5" stroke="#555" stroke-width="0.8"/>
<line x1="330.00" y1="305.0" x2="330.00" y2="307.5" stroke="#555" stroke-width="0.8"/>
<line x1="210.00" y1="305.0" x2="210.00" y2="306.6" stroke="#555" stroke-width="0.7"/>
<line x1="258.00" y1="305.0" x2="258.00" y2="306.6" stroke="#555" stroke-width="0.7"/>
<line x1="306.00" y1="305.0" x2="306.00" y2="306.6" stroke="#555" stroke-width="0.7"/>
<line x1="354.00" y1="305.0" x2="354.00" y2="306.6" stroke="#555" stroke-width="0.7"/>
<line x1="210.8" y1="304.70" x2="208.3" y2="304.70" stroke="#555" stroke-width="0.8"/>
<line x1="210.8" y1="293.31" x2="208.3" y2="293.31" stroke="#555" stroke-width="0.8"/>
<line x1="210.8" y1="281.92" x2="208.3" y2="281.92" stroke="#555" stroke-width="0.8"/>
<line x1="210.8" y1="270.53" x2="208.3" y2="270.53" stroke="#555" stroke-width="0.8"/>
<line x1="210.8" y1="259.14" x2="208.3" y2="259.14" stroke="#555" stroke-width="0.8"/>
<line x1="210.8" y1="247.75" x2="208.3" y2="247.75" stroke="#555" stroke-width="0.8"/>
<line x1="210.8" y1="236.36" x2="208.3" y2="236.36" stroke="#555" stroke-width="0.8"/>
<line x1="210.8" y1="224.97" x2="208.3" y2="224.97" stroke="#555" stroke-width="0.8"/>
<line x1="210.8" y1="213.58" x2="208.3" y2="213.58" stroke="#555" stroke-width="0.8"/>
<line x1="210.8" y1="202.19" x2="208.3" y2="202.19" stroke="#555" stroke-width="0.8"/>
<line x1="210.8" y1="190.80" x2="208.3" y2="190.80" stroke="#555" stroke-width="0.8"/>
<line x1="210.8" y1="299.00" x2="209.20000000000002" y2="299.00" stroke="#555" stroke-width="0.7"/>
<line x1="210.8" y1="287.62" x2="209.20000000000002" y2="287.62" stroke="#555" stroke-width="0.7"/>
<line x1="210.8" y1="276.22" x2="209.20000000000002" y2="276.22" stroke="#555" stroke-width="0.7"/>
<line x1="210.8" y1="264.83" x2="209.20000000000002" y2="264.83" stroke="#555" stroke-width="0.7"/>
<line x1="210.8" y1="253.44" x2="209.20000000000002" y2="253.44" stroke="#555" stroke-width="0.7"/>
<line x1="210.8" y1="242.05" x2="209.20000000000002" y2="242.05" stroke="#555" stroke-width="0.7"/>
<line x1="210.8" y1="230.66" x2="209.20000000000002" y2="230.66" stroke="#555" stroke-width="0.7"/>
<line x1="210.8" y1="219.27" x2="209.20000000000002" y2="219.27" stroke="#555" stroke-width="0.7"/>
<line x1="210.8" y1="207.88" x2="209.20000000000002" y2="207.88" stroke="#555" stroke-width="0.7"/>
<line x1="210.8" y1="196.49" x2="209.20000000000002" y2="196.49" stroke="#555" stroke-width="0.7"/>
<text x="224.26" y="314.40" font-size="8.5" fill="#000" font-weight="bold" textLength="19.57" lengthAdjust="spacingAndGlyphs" >469.6</text>
<text x="272.30" y="314.40" font-size="8.5" fill="#000" font-weight="bold" textLength="19.57" lengthAdjust="spacingAndGlyphs" >469.7</text>
<text x="320.22" y="314.40" font-size="8.5" fill="#000" font-weight="bold" textLength="19.57" lengthAdjust="spacingAndGlyphs" >469.8</text>
<text x="196.04" y="307.20" font-size="8.5" fill="#000" font-weight="bold" textLength="10.87" lengthAdjust="spacingAndGlyphs" >0.0</text>
<text x="196.04" y="295.81" font-size="8.5" fill="#000" font-weight="bold" textLength="10.87" lengthAdjust="spacingAndGlyphs" >0.2</text>
<text x="195.81" y="284.42" font-size="8.5" fill="#000" font-weight="bold" textLength="10.87" lengthAdjust="spacingAndGlyphs" >0.4</text>
<text x="196.04" y="273.03" font-size="8.5" fill="#000" font-weight="bold" textLength="10.87" lengthAdjust="spacingAndGlyphs" >0.6</text>
<text x="195.96" y="261.64" font-size="8.5" fill="#000" font-weight="bold" textLength="10.87" lengthAdjust="spacingAndGlyphs" >0.8</text>
<text x="196.04" y="250.25" font-size="8.5" fill="#000" font-weight="bold" textLength="10.87" lengthAdjust="spacingAndGlyphs" >1.0</text>
<text x="196.04" y="238.86" font-size="8.5" fill="#000" font-weight="bold" textLength="10.87" lengthAdjust="spacingAndGlyphs" >1.2</text>
<text x="195.81" y="227.47" font-size="8.5" fill="#000" font-weight="bold" textLength="10.87" lengthAdjust="spacingAndGlyphs" >1.4</text>
<text x="196.04" y="216.08" font-size="8.5" fill="#000" font-weight="bold" textLength="10.87" lengthAdjust="spacingAndGlyphs" >1.6</text>
<text x="195.96" y="204.69" font-size="8.5" fill="#000" font-weight="bold" textLength="10.87" lengthAdjust="spacingAndGlyphs" >1.8</text>
<text x="196.04" y="193.30" font-size="8.5" fill="#000" font-weight="bold" textLength="10.87" lengthAdjust="spacingAndGlyphs" >2.0</text>
<text x="239.43" y="330.00" font-size="10.8" fill="#000" font-weight="bold" textLength="84.01" lengthAdjust="spacingAndGlyphs" >Frequency (kHz)</text>
<g transform="translate(188.50,279.80) rotate(-90)" font-weight="bold" fill="#000">
<text x="-0.36" y="0" font-size="12">S</text>
<text x="7.33" y="-4.6" font-size="7.0" textLength="18.39" lengthAdjust="spacingAndGlyphs">th 1/2</text>
<text x="7.32" y="1.9" font-size="7.6">x</text>
<text x="30.17" y="0" font-size="10.6" textLength="44.81" lengthAdjust="spacingAndGlyphs">(pm/√Hz)</text>
</g>
<line x1="286.4" y1="196.6" x2="303.4" y2="196.6" stroke="#000" stroke-width="1.1"/>
<text x="305.48" y="198.40" font-size="8.0" fill="#000" font-weight="bold" textLength="46.33" lengthAdjust="spacingAndGlyphs" >Experimental</text>
<rect x="286.4" y="201.5" width="17.0" height="7.300000000000011" fill="#ff0000" fill-opacity="0.5"/>
<text x="305.46" y="208.00" font-size="8.0" fill="#000" font-weight="bold" textLength="23.45" lengthAdjust="spacingAndGlyphs" >Fitting</text>
<text x="292.16" y="225.20" font-size="8.4" fill="#ff1a1a" font-weight="bold" textLength="41.68" lengthAdjust="spacingAndGlyphs" >Cantilever</text>
<text x="292.15" y="236.50" font-size="8.4" fill="#ff1a1a" font-weight="bold" textLength="59.66" lengthAdjust="spacingAndGlyphs" >Q = 14540 <tspan font-weight="normal" fill-opacity="0.55">±</tspan> 35</text>
<text x="267.51" y="283.50" font-size="8.4" fill="#ff1a1a" font-weight="bold" textLength="36.36" lengthAdjust="spacingAndGlyphs" >TH noise</text>
<text x="251.49" y="300.70" font-size="8.4" fill="#ff8a10" font-weight="bold" textLength="70.22" lengthAdjust="spacingAndGlyphs" >Instrument noise</text>
<clipPath id="c32"><rect x="209.5" y="348.0" width="142.0" height="114.30000000000001"/></clipPath>
<g clip-path="url(#c32)">
<path d="M208.77,428.66 L209.90,435.24 L211.54,418.50 L213.34,435.08 L214.68,420.54 L216.24,424.73 L217.20,432.55 L219.32,421.66 L220.58,442.84 L222.07,436.24 L223.19,424.82 L224.88,420.09 L226.62,427.85 L227.96,416.76 L229.54,429.42 L231.15,436.27 L232.57,423.29 L233.66,418.66 L235.55,434.60 L237.20,419.28 L238.81,433.09 L239.69,420.77 L241.80,425.79 L242.97,431.52 L244.46,430.63 L246.37,438.09 L247.25,424.85 L249.16,408.15 L250.25,434.33 L252.23,431.52 L253.15,424.79 L255.03,420.04 L256.25,429.45 L257.86,414.99 L259.16,413.79 L260.80,408.32 L262.63,405.89 L264.21,420.78 L265.65,411.21 L266.87,419.72 L268.50,423.10 L270.02,416.87 L271.35,410.40 L272.97,403.09 L274.86,393.49 L276.00,381.66 L277.42,380.82 L279.17,373.49 L280.77,358.05 L281.64,360.32 L283.34,375.29 L285.22,391.14 L286.47,390.00 L287.63,392.92 L289.44,415.42 L290.87,407.84 L292.58,404.68 L293.87,417.23 L295.86,414.20 L297.07,416.24 L298.22,424.55 L300.02,415.29 L301.39,435.85 L302.64,426.61 L304.20,422.25 L306.21,415.62 L307.45,425.29 L308.77,434.24 L310.59,418.23 L312.11,417.86 L313.33,430.51 L314.72,430.99 L316.48,419.46 L317.92,413.55 L319.43,421.60 L320.91,417.29 L322.34,414.06 L324.04,427.80 L325.45,425.83 L327.21,420.64 L328.65,422.35 L330.21,427.02 L331.34,427.53 L332.78,424.53 L334.50,435.96 L335.72,429.10 L337.25,419.02 L338.81,429.71 L340.16,423.05 L341.79,433.08 L343.59,422.00 L345.10,424.17 L346.52,430.99 L348.18,417.24 L349.74,421.47 L350.91,422.46 L352.73,432.53" fill="none" stroke="#000" stroke-width="1.4" stroke-linejoin="round"/>
<path d="M208.50,430.30 L208.50,429.83 L208.75,429.82 L209.00,429.82 L209.25,429.82 L209.50,429.81 L209.75,429.81 L210.00,429.81 L210.25,429.80 L210.50,429.80 L210.75,429.80 L211.00,429.79 L211.25,429.79 L211.50,429.79 L211.75,429.78 L212.00,429.78 L212.25,429.77 L212.50,429.77 L212.75,429.77 L213.00,429.76 L213.25,429.76 L213.50,429.76 L213.75,429.75 L214.00,429.75 L214.25,429.74 L214.50,429.74 L214.75,429.74 L215.00,429.73 L215.25,429.73 L215.50,429.72 L215.75,429.72 L216.00,429.71 L216.25,429.71 L216.50,429.70 L216.75,429.70 L217.00,429.70 L217.25,429.69 L217.50,429.69 L217.75,429.68 L218.00,429.68 L218.25,429.67 L218.50,429.67 L218.75,429.66 L219.00,429.66 L219.25,429.65 L219.50,429.65 L219.75,429.64 L220.00,429.64 L220.25,429.63 L220.50,429.62 L220.75,429.62 L221.00,429.61 L221.25,429.61 L221.50,429.60 L221.75,429.60 L222.00,429.59 L222.25,429.58 L222.50,429.58 L222.75,429.57 L223.00,429.57 L223.25,429.56 L223.50,429.55 L223.75,429.55 L224.00,429.54 L224.25,429.53 L224.50,429.53 L224.75,429.52 L225.00,429.51 L225.25,429.51 L225.50,429.50 L225.75,429.49 L226.00,429.49 L226.25,429.48 L226.50,429.47 L226.75,429.46 L227.00,429.46 L227.25,429.45 L227.50,429.44 L227.75,429.43 L228.00,429.42 L228.25,429.42 L228.50,429.41 L228.75,429.40 L229.00,429.39 L229.25,429.38 L229.50,429.37 L229.75,429.37 L230.00,429.36 L230.25,429.35 L230.50,429.34 L230.75,429.33 L231.00,429.32 L231.25,429.31 L231.50,429.30 L231.75,429.29 L232.00,429.28 L232.25,429.27 L232.50,429.26 L232.75,429.25 L233.00,429.24 L233.25,429.23 L233.50,429.22 L233.75,429.20 L234.00,429.19 L234.25,429.18 L234.50,429.17 L234.75,429.16 L235.00,429.15 L235.25,429.13 L235.50,429.12 L235.75,429.11 L236.00,429.10 L236.25,429.08 L236.50,429.07 L236.75,429.06 L237.00,429.04 L237.25,429.03 L237.50,429.01 L237.75,429.00 L238.00,428.98 L238.25,428.97 L238.50,428.95 L238.75,428.94 L239.00,428.92 L239.25,428.91 L239.50,428.89 L239.75,428.87 L240.00,428.86 L240.25,428.84 L240.50,428.82 L240.75,428.81 L241.00,428.79 L241.25,428.77 L241.50,428.75 L241.75,428.73 L242.00,428.71 L242.25,428.69 L242.50,428.67 L242.75,428.65 L243.00,428.63 L243.25,428.61 L243.50,428.59 L243.75,428.56 L244.00,428.54 L244.25,428.52 L244.50,428.50 L244.75,428.47 L245.00,428.45 L245.25,428.42 L245.50,428.40 L245.75,428.37 L246.00,428.34 L246.25,428.32 L246.50,428.29 L246.75,428.26 L247.00,428.23 L247.25,428.20 L247.50,428.17 L247.75,428.14 L248.00,428.11 L248.25,428.08 L248.50,428.05 L248.75,428.01 L249.00,427.98 L249.25,427.94 L249.50,427.91 L249.75,427.87 L250.00,427.83 L250.25,427.80 L250.50,427.76 L250.75,427.72 L251.00,427.68 L251.25,427.64 L251.50,427.59 L251.75,427.55 L252.00,427.50 L252.25,427.46 L252.50,427.41 L252.75,427.36 L253.00,427.31 L253.25,427.26 L253.50,427.21 L253.75,427.16 L254.00,427.10 L254.25,427.05 L254.50,426.99 L254.75,426.93 L255.00,426.87 L255.25,426.81 L255.50,426.74 L255.75,426.68 L256.00,426.61 L256.25,426.54 L256.50,426.47 L256.75,426.39 L257.00,426.32 L257.25,426.24 L257.50,426.16 L257.75,426.08 L258.00,425.99 L258.25,425.91 L258.50,425.82 L258.75,425.73 L259.00,425.63 L259.25,425.53 L259.50,425.43 L259.75,425.33 L260.00,425.22 L260.25,425.11 L260.50,424.99 L260.75,424.87 L261.00,424.75 L261.25,424.63 L261.50,424.50 L261.75,424.36 L262.00,424.22 L262.25,424.08 L262.50,423.93 L262.75,423.77 L263.00,423.61 L263.25,423.45 L263.50,423.27 L263.75,423.10 L264.00,422.91 L264.25,422.72 L264.50,422.52 L264.75,422.31 L265.00,422.10 L265.25,421.88 L265.50,421.65 L265.75,421.40 L266.00,421.15 L266.25,420.89 L266.50,420.62 L266.75,420.34 L267.00,420.04 L267.25,419.74 L267.50,419.42 L267.75,419.08 L268.00,418.74 L268.25,418.37 L268.50,417.99 L268.75,417.60 L269.00,417.18 L269.25,416.75 L269.50,416.30 L269.75,415.82 L270.00,415.32 L270.25,414.80 L270.50,414.26 L270.75,413.69 L271.00,413.09 L271.25,412.46 L271.50,411.80 L271.75,411.11 L272.00,410.39 L272.25,409.63 L272.50,408.83 L272.75,407.99 L273.00,407.12 L273.25,406.19 L273.50,405.23 L273.75,404.21 L274.00,403.15 L274.25,402.03 L274.50,400.86 L274.75,399.64 L275.00,398.36 L275.25,397.03 L275.50,395.64 L275.75,394.19 L276.00,392.68 L276.25,391.12 L276.50,389.51 L276.75,387.84 L277.00,386.13 L277.25,384.39 L277.50,382.61 L277.75,380.81 L278.00,378.99 L278.25,377.18 L278.50,375.38 L278.75,373.62 L279.00,371.91 L279.25,370.27 L279.50,368.72 L279.75,367.29 L280.00,365.99 L280.25,364.85 L280.50,363.88 L280.75,363.12 L281.00,362.56 L281.25,362.21 L281.50,362.10 L281.75,362.21 L282.00,362.56 L282.25,363.12 L282.50,363.88 L282.75,364.85 L283.00,365.99 L283.25,367.29 L283.50,368.72 L283.75,370.27 L284.00,371.91 L284.25,373.62 L284.50,375.38 L284.75,377.18 L285.00,378.99 L285.25,380.81 L285.50,382.61 L285.75,384.39 L286.00,386.13 L286.25,387.84 L286.50,389.51 L286.75,391.12 L287.00,392.68 L287.25,394.19 L287.50,395.64 L287.75,397.03 L288.00,398.36 L288.25,399.64 L288.50,400.86 L288.75,402.03 L289.00,403.15 L289.25,404.21 L289.50,405.23 L289.75,406.19 L290.00,407.12 L290.25,407.99 L290.50,408.83 L290.75,409.63 L291.00,410.39 L291.25,411.11 L291.50,411.80 L291.75,412.46 L292.00,413.09 L292.25,413.69 L292.50,414.26 L292.75,414.80 L293.00,415.32 L293.25,415.82 L293.50,416.30 L293.75,416.75 L294.00,417.18 L294.25,417.60 L294.50,417.99 L294.75,418.37 L295.00,418.74 L295.25,419.08 L295.50,419.42 L295.75,419.74 L296.00,420.04 L296.25,420.34 L296.50,420.62 L296.75,420.89 L297.00,421.15 L297.25,421.40 L297.50,421.65 L297.75,421.88 L298.00,422.10 L298.25,422.31 L298.50,422.52 L298.75,422.72 L299.00,422.91 L299.25,423.10 L299.50,423.27 L299.75,423.45 L300.00,423.61 L300.25,423.77 L300.50,423.93 L300.75,424.08 L301.00,424.22 L301.25,424.36 L301.50,424.50 L301.75,424.63 L302.00,424.75 L302.25,424.87 L302.50,424.99 L302.75,425.11 L303.00,425.22 L303.25,425.33 L303.50,425.43 L303.75,425.53 L304.00,425.63 L304.25,425.73 L304.50,425.82 L304.75,425.91 L305.00,425.99 L305.25,426.08 L305.50,426.16 L305.75,426.24 L306.00,426.32 L306.25,426.39 L306.50,426.47 L306.75,426.54 L307.00,426.61 L307.25,426.68 L307.50,426.74 L307.75,426.81 L308.00,426.87 L308.25,426.93 L308.50,426.99 L308.75,427.05 L309.00,427.10 L309.25,427.16 L309.50,427.21 L309.75,427.26 L310.00,427.31 L310.25,427.36 L310.50,427.41 L310.75,427.46 L311.00,427.50 L311.25,427.55 L311.50,427.59 L311.75,427.64 L312.00,427.68 L312.25,427.72 L312.50,427.76 L312.75,427.80 L313.00,427.83 L313.25,427.87 L313.50,427.91 L313.75,427.94 L314.00,427.98 L314.25,428.01 L314.50,428.05 L314.75,428.08 L315.00,428.11 L315.25,428.14 L315.50,428.17 L315.75,428.20 L316.00,428.23 L316.25,428.26 L316.50,428.29 L316.75,428.32 L317.00,428.34 L317.25,428.37 L317.50,428.40 L317.75,428.42 L318.00,428.45 L318.25,428.47 L318.50,428.50 L318.75,428.52 L319.00,428.54 L319.25,428.56 L319.50,428.59 L319.75,428.61 L320.00,428.63 L320.25,428.65 L320.50,428.67 L320.75,428.69 L321.00,428.71 L321.25,428.73 L321.50,428.75 L321.75,428.77 L322.00,428.79 L322.25,428.81 L322.50,428.82 L322.75,428.84 L323.00,428.86 L323.25,428.87 L323.50,428.89 L323.75,428.91 L324.00,428.92 L324.25,428.94 L324.50,428.95 L324.75,428.97 L325.00,428.98 L325.25,429.00 L325.50,429.01 L325.75,429.03 L326.00,429.04 L326.25,429.06 L326.50,429.07 L326.75,429.08 L327.00,429.10 L327.25,429.11 L327.50,429.12 L327.75,429.13 L328.00,429.15 L328.25,429.16 L328.50,429.17 L328.75,429.18 L329.00,429.19 L329.25,429.20 L329.50,429.22 L329.75,429.23 L330.00,429.24 L330.25,429.25 L330.50,429.26 L330.75,429.27 L331.00,429.28 L331.25,429.29 L331.50,429.30 L331.75,429.31 L332.00,429.32 L332.25,429.33 L332.50,429.34 L332.75,429.35 L333.00,429.36 L333.25,429.37 L333.50,429.37 L333.75,429.38 L334.00,429.39 L334.25,429.40 L334.50,429.41 L334.75,429.42 L335.00,429.42 L335.25,429.43 L335.50,429.44 L335.75,429.45 L336.00,429.46 L336.25,429.46 L336.50,429.47 L336.75,429.48 L337.00,429.49 L337.25,429.49 L337.50,429.50 L337.75,429.51 L338.00,429.51 L338.25,429.52 L338.50,429.53 L338.75,429.53 L339.00,429.54 L339.25,429.55 L339.50,429.55 L339.75,429.56 L340.00,429.57 L340.25,429.57 L340.50,429.58 L340.75,429.58 L341.00,429.59 L341.25,429.60 L341.50,429.60 L341.75,429.61 L342.00,429.61 L342.25,429.62 L342.50,429.62 L342.75,429.63 L343.00,429.64 L343.25,429.64 L343.50,429.65 L343.75,429.65 L344.00,429.66 L344.25,429.66 L344.50,429.67 L344.75,429.67 L345.00,429.68 L345.25,429.68 L345.50,429.69 L345.75,429.69 L346.00,429.70 L346.25,429.70 L346.50,429.70 L346.75,429.71 L347.00,429.71 L347.25,429.72 L347.50,429.72 L347.75,429.73 L348.00,429.73 L348.25,429.74 L348.50,429.74 L348.75,429.74 L349.00,429.75 L349.25,429.75 L349.50,429.76 L349.75,429.76 L350.00,429.76 L350.25,429.77 L350.50,429.77 L350.75,429.77 L351.00,429.78 L351.25,429.78 L351.50,429.79 L351.75,429.79 L352.00,429.79 L352.25,429.80 L352.50,429.80 L352.75,429.80 L352.75,430.30 Z" fill="#008000" fill-opacity="0.5"/>
<path d="M208.50,429.83 L208.75,429.82 L209.00,429.82 L209.25,429.82 L209.50,429.81 L209.75,429.81 L210.00,429.81 L210.25,429.80 L210.50,429.80 L210.75,429.80 L211.00,429.79 L211.25,429.79 L211.50,429.79 L211.75,429.78 L212.00,429.78 L212.25,429.77 L212.50,429.77 L212.75,429.77 L213.00,429.76 L213.25,429.76 L213.50,429.76 L213.75,429.75 L214.00,429.75 L214.25,429.74 L214.50,429.74 L214.75,429.74 L215.00,429.73 L215.25,429.73 L215.50,429.72 L215.75,429.72 L216.00,429.71 L216.25,429.71 L216.50,429.70 L216.75,429.70 L217.00,429.70 L217.25,429.69 L217.50,429.69 L217.75,429.68 L218.00,429.68 L218.25,429.67 L218.50,429.67 L218.75,429.66 L219.00,429.66 L219.25,429.65 L219.50,429.65 L219.75,429.64 L220.00,429.64 L220.25,429.63 L220.50,429.62 L220.75,429.62 L221.00,429.61 L221.25,429.61 L221.50,429.60 L221.75,429.60 L222.00,429.59 L222.25,429.58 L222.50,429.58 L222.75,429.57 L223.00,429.57 L223.25,429.56 L223.50,429.55 L223.75,429.55 L224.00,429.54 L224.25,429.53 L224.50,429.53 L224.75,429.52 L225.00,429.51 L225.25,429.51 L225.50,429.50 L225.75,429.49 L226.00,429.49 L226.25,429.48 L226.50,429.47 L226.75,429.46 L227.00,429.46 L227.25,429.45 L227.50,429.44 L227.75,429.43 L228.00,429.42 L228.25,429.42 L228.50,429.41 L228.75,429.40 L229.00,429.39 L229.25,429.38 L229.50,429.37 L229.75,429.37 L230.00,429.36 L230.25,429.35 L230.50,429.34 L230.75,429.33 L231.00,429.32 L231.25,429.31 L231.50,429.30 L231.75,429.29 L232.00,429.28 L232.25,429.27 L232.50,429.26 L232.75,429.25 L233.00,429.24 L233.25,429.23 L233.50,429.22 L233.75,429.20 L234.00,429.19 L234.25,429.18 L234.50,429.17 L234.75,429.16 L235.00,429.15 L235.25,429.13 L235.50,429.12 L235.75,429.11 L236.00,429.10 L236.25,429.08 L236.50,429.07 L236.75,429.06 L237.00,429.04 L237.25,429.03 L237.50,429.01 L237.75,429.00 L238.00,428.98 L238.25,428.97 L238.50,428.95 L238.75,428.94 L239.00,428.92 L239.25,428.91 L239.50,428.89 L239.75,428.87 L240.00,428.86 L240.25,428.84 L240.50,428.82 L240.75,428.81 L241.00,428.79 L241.25,428.77 L241.50,428.75 L241.75,428.73 L242.00,428.71 L242.25,428.69 L242.50,428.67 L242.75,428.65 L243.00,428.63 L243.25,428.61 L243.50,428.59 L243.75,428.56 L244.00,428.54 L244.25,428.52 L244.50,428.50 L244.75,428.47 L245.00,428.45 L245.25,428.42 L245.50,428.40 L245.75,428.37 L246.00,428.34 L246.25,428.32 L246.50,428.29 L246.75,428.26 L247.00,428.23 L247.25,428.20 L247.50,428.17 L247.75,428.14 L248.00,428.11 L248.25,428.08 L248.50,428.05 L248.75,428.01 L249.00,427.98 L249.25,427.94 L249.50,427.91 L249.75,427.87 L250.00,427.83 L250.25,427.80 L250.50,427.76 L250.75,427.72 L251.00,427.68 L251.25,427.64 L251.50,427.59 L251.75,427.55 L252.00,427.50 L252.25,427.46 L252.50,427.41 L252.75,427.36 L253.00,427.31 L253.25,427.26 L253.50,427.21 L253.75,427.16 L254.00,427.10 L254.25,427.05 L254.50,426.99 L254.75,426.93 L255.00,426.87 L255.25,426.81 L255.50,426.74 L255.75,426.68 L256.00,426.61 L256.25,426.54 L256.50,426.47 L256.75,426.39 L257.00,426.32 L257.25,426.24 L257.50,426.16 L257.75,426.08 L258.00,425.99 L258.25,425.91 L258.50,425.82 L258.75,425.73 L259.00,425.63 L259.25,425.53 L259.50,425.43 L259.75,425.33 L260.00,425.22 L260.25,425.11 L260.50,424.99 L260.75,424.87 L261.00,424.75 L261.25,424.63 L261.50,424.50 L261.75,424.36 L262.00,424.22 L262.25,424.08 L262.50,423.93 L262.75,423.77 L263.00,423.61 L263.25,423.45 L263.50,423.27 L263.75,423.10 L264.00,422.91 L264.25,422.72 L264.50,422.52 L264.75,422.31 L265.00,422.10 L265.25,421.88 L265.50,421.65 L265.75,421.40 L266.00,421.15 L266.25,420.89 L266.50,420.62 L266.75,420.34 L267.00,420.04 L267.25,419.74 L267.50,419.42 L267.75,419.08 L268.00,418.74 L268.25,418.37 L268.50,417.99 L268.75,417.60 L269.00,417.18 L269.25,416.75 L269.50,416.30 L269.75,415.82 L270.00,415.32 L270.25,414.80 L270.50,414.26 L270.75,413.69 L271.00,413.09 L271.25,412.46 L271.50,411.80 L271.75,411.11 L272.00,410.39 L272.25,409.63 L272.50,408.83 L272.75,407.99 L273.00,407.12 L273.25,406.19 L273.50,405.23 L273.75,404.21 L274.00,403.15 L274.25,402.03 L274.50,400.86 L274.75,399.64 L275.00,398.36 L275.25,397.03 L275.50,395.64 L275.75,394.19 L276.00,392.68 L276.25,391.12 L276.50,389.51 L276.75,387.84 L277.00,386.13 L277.25,384.39 L277.50,382.61 L277.75,380.81 L278.00,378.99 L278.25,377.18 L278.50,375.38 L278.75,373.62 L279.00,371.91 L279.25,370.27 L279.50,368.72 L279.75,367.29 L280.00,365.99 L280.25,364.85 L280.50,363.88 L280.75,363.12 L281.00,362.56 L281.25,362.21 L281.50,362.10 L281.75,362.21 L282.00,362.56 L282.25,363.12 L282.50,363.88 L282.75,364.85 L283.00,365.99 L283.25,367.29 L283.50,368.72 L283.75,370.27 L284.00,371.91 L284.25,373.62 L284.50,375.38 L284.75,377.18 L285.00,378.99 L285.25,380.81 L285.50,382.61 L285.75,384.39 L286.00,386.13 L286.25,387.84 L286.50,389.51 L286.75,391.12 L287.00,392.68 L287.25,394.19 L287.50,395.64 L287.75,397.03 L288.00,398.36 L288.25,399.64 L288.50,400.86 L288.75,402.03 L289.00,403.15 L289.25,404.21 L289.50,405.23 L289.75,406.19 L290.00,407.12 L290.25,407.99 L290.50,408.83 L290.75,409.63 L291.00,410.39 L291.25,411.11 L291.50,411.80 L291.75,412.46 L292.00,413.09 L292.25,413.69 L292.50,414.26 L292.75,414.80 L293.00,415.32 L293.25,415.82 L293.50,416.30 L293.75,416.75 L294.00,417.18 L294.25,417.60 L294.50,417.99 L294.75,418.37 L295.00,418.74 L295.25,419.08 L295.50,419.42 L295.75,419.74 L296.00,420.04 L296.25,420.34 L296.50,420.62 L296.75,420.89 L297.00,421.15 L297.25,421.40 L297.50,421.65 L297.75,421.88 L298.00,422.10 L298.25,422.31 L298.50,422.52 L298.75,422.72 L299.00,422.91 L299.25,423.10 L299.50,423.27 L299.75,423.45 L300.00,423.61 L300.25,423.77 L300.50,423.93 L300.75,424.08 L301.00,424.22 L301.25,424.36 L301.50,424.50 L301.75,424.63 L302.00,424.75 L302.25,424.87 L302.50,424.99 L302.75,425.11 L303.00,425.22 L303.25,425.33 L303.50,425.43 L303.75,425.53 L304.00,425.63 L304.25,425.73 L304.50,425.82 L304.75,425.91 L305.00,425.99 L305.25,426.08 L305.50,426.16 L305.75,426.24 L306.00,426.32 L306.25,426.39 L306.50,426.47 L306.75,426.54 L307.00,426.61 L307.25,426.68 L307.50,426.74 L307.75,426.81 L308.00,426.87 L308.25,426.93 L308.50,426.99 L308.75,427.05 L309.00,427.10 L309.25,427.16 L309.50,427.21 L309.75,427.26 L310.00,427.31 L310.25,427.36 L310.50,427.41 L310.75,427.46 L311.00,427.50 L311.25,427.55 L311.50,427.59 L311.75,427.64 L312.00,427.68 L312.25,427.72 L312.50,427.76 L312.75,427.80 L313.00,427.83 L313.25,427.87 L313.50,427.91 L313.75,427.94 L314.00,427.98 L314.25,428.01 L314.50,428.05 L314.75,428.08 L315.00,428.11 L315.25,428.14 L315.50,428.17 L315.75,428.20 L316.00,428.23 L316.25,428.26 L316.50,428.29 L316.75,428.32 L317.00,428.34 L317.25,428.37 L317.50,428.40 L317.75,428.42 L318.00,428.45 L318.25,428.47 L318.50,428.50 L318.75,428.52 L319.00,428.54 L319.25,428.56 L319.50,428.59 L319.75,428.61 L320.00,428.63 L320.25,428.65 L320.50,428.67 L320.75,428.69 L321.00,428.71 L321.25,428.73 L321.50,428.75 L321.75,428.77 L322.00,428.79 L322.25,428.81 L322.50,428.82 L322.75,428.84 L323.00,428.86 L323.25,428.87 L323.50,428.89 L323.75,428.91 L324.00,428.92 L324.25,428.94 L324.50,428.95 L324.75,428.97 L325.00,428.98 L325.25,429.00 L325.50,429.01 L325.75,429.03 L326.00,429.04 L326.25,429.06 L326.50,429.07 L326.75,429.08 L327.00,429.10 L327.25,429.11 L327.50,429.12 L327.75,429.13 L328.00,429.15 L328.25,429.16 L328.50,429.17 L328.75,429.18 L329.00,429.19 L329.25,429.20 L329.50,429.22 L329.75,429.23 L330.00,429.24 L330.25,429.25 L330.50,429.26 L330.75,429.27 L331.00,429.28 L331.25,429.29 L331.50,429.30 L331.75,429.31 L332.00,429.32 L332.25,429.33 L332.50,429.34 L332.75,429.35 L333.00,429.36 L333.25,429.37 L333.50,429.37 L333.75,429.38 L334.00,429.39 L334.25,429.40 L334.50,429.41 L334.75,429.42 L335.00,429.42 L335.25,429.43 L335.50,429.44 L335.75,429.45 L336.00,429.46 L336.25,429.46 L336.50,429.47 L336.75,429.48 L337.00,429.49 L337.25,429.49 L337.50,429.50 L337.75,429.51 L338.00,429.51 L338.25,429.52 L338.50,429.53 L338.75,429.53 L339.00,429.54 L339.25,429.55 L339.50,429.55 L339.75,429.56 L340.00,429.57 L340.25,429.57 L340.50,429.58 L340.75,429.58 L341.00,429.59 L341.25,429.60 L341.50,429.60 L341.75,429.61 L342.00,429.61 L342.25,429.62 L342.50,429.62 L342.75,429.63 L343.00,429.64 L343.25,429.64 L343.50,429.65 L343.75,429.65 L344.00,429.66 L344.25,429.66 L344.50,429.67 L344.75,429.67 L345.00,429.68 L345.25,429.68 L345.50,429.69 L345.75,429.69 L346.00,429.70 L346.25,429.70 L346.50,429.70 L346.75,429.71 L347.00,429.71 L347.25,429.72 L347.50,429.72 L347.75,429.73 L348.00,429.73 L348.25,429.74 L348.50,429.74 L348.75,429.74 L349.00,429.75 L349.25,429.75 L349.50,429.76 L349.75,429.76 L350.00,429.76 L350.25,429.77 L350.50,429.77 L350.75,429.77 L351.00,429.78 L351.25,429.78 L351.50,429.79 L351.75,429.79 L352.00,429.79 L352.25,429.80 L352.50,429.80 L352.75,429.80" fill="none" stroke="#0a8a0a" stroke-width="1.0"/>
<rect x="209.5" y="430.3" width="142.0" height="32.0" fill="#ffff00" fill-opacity="0.4"/>
</g>
<rect x="209.5" y="348.0" width="142.00" height="114.30" fill="none" stroke="#9c9c9c" stroke-width="1"/>
<line x1="230.20" y1="462.3" x2="230.20" y2="464.8" stroke="#555" stroke-width="0.8"/>
<line x1="270.10" y1="462.3" x2="270.10" y2="464.8" stroke="#555" stroke-width="0.8"/>
<line x1="310.80" y1="462.3" x2="310.80" y2="464.8" stroke="#555" stroke-width="0.8"/>
<line x1="351.30" y1="462.3" x2="351.30" y2="464.8" stroke="#555" stroke-width="0.8"/>
<line x1="210.00" y1="462.3" x2="210.00" y2="463.90000000000003" stroke="#555" stroke-width="0.7"/>
<line x1="250.15" y1="462.3" x2="250.15" y2="463.90000000000003" stroke="#555" stroke-width="0.7"/>
<line x1="290.45" y1="462.3" x2="290.45" y2="463.90000000000003" stroke="#555" stroke-width="0.7"/>
<line x1="331.05" y1="462.3" x2="331.05" y2="463.90000000000003" stroke="#555" stroke-width="0.7"/>
<line x1="209.5" y1="462.20" x2="207.0" y2="462.20" stroke="#555" stroke-width="0.8"/>
<line x1="209.5" y1="443.17" x2="207.0" y2="443.17" stroke="#555" stroke-width="0.8"/>
<line x1="209.5" y1="424.14" x2="207.0" y2="424.14" stroke="#555" stroke-width="0.8"/>
<line x1="209.5" y1="405.11" x2="207.0" y2="405.11" stroke="#555" stroke-width="0.8"/>
<line x1="209.5" y1="386.08" x2="207.0" y2="386.08" stroke="#555" stroke-width="0.8"/>
<line x1="209.5" y1="367.05" x2="207.0" y2="367.05" stroke="#555" stroke-width="0.8"/>
<line x1="209.5" y1="348.02" x2="207.0" y2="348.02" stroke="#555" stroke-width="0.8"/>
<line x1="209.5" y1="452.69" x2="207.9" y2="452.69" stroke="#555" stroke-width="0.7"/>
<line x1="209.5" y1="433.65" x2="207.9" y2="433.65" stroke="#555" stroke-width="0.7"/>
<line x1="209.5" y1="414.62" x2="207.9" y2="414.62" stroke="#555" stroke-width="0.7"/>
<line x1="209.5" y1="395.59" x2="207.9" y2="395.59" stroke="#555" stroke-width="0.7"/>
<line x1="209.5" y1="376.56" x2="207.9" y2="376.56" stroke="#555" stroke-width="0.7"/>
<line x1="209.5" y1="357.53" x2="207.9" y2="357.53" stroke="#555" stroke-width="0.7"/>
<text x="221.56" y="471.70" font-size="8.5" fill="#000" font-weight="bold" textLength="17.39" lengthAdjust="spacingAndGlyphs" >4470</text>
<text x="261.46" y="471.70" font-size="8.5" fill="#000" font-weight="bold" textLength="17.39" lengthAdjust="spacingAndGlyphs" >4472</text>
<text x="302.04" y="471.70" font-size="8.5" fill="#000" font-weight="bold" textLength="17.39" lengthAdjust="spacingAndGlyphs" >4474</text>
<text x="342.66" y="471.70" font-size="8.5" fill="#000" font-weight="bold" textLength="17.39" lengthAdjust="spacingAndGlyphs" >4476</text>
<text x="185.98" y="464.70" font-size="8.5" fill="#000" font-weight="bold" textLength="19.57" lengthAdjust="spacingAndGlyphs" >0.410</text>
<text x="185.91" y="445.67" font-size="8.5" fill="#000" font-weight="bold" textLength="19.57" lengthAdjust="spacingAndGlyphs" >0.415</text>
<text x="185.98" y="426.64" font-size="8.5" fill="#000" font-weight="bold" textLength="19.57" lengthAdjust="spacingAndGlyphs" >0.420</text>
<text x="185.91" y="407.61" font-size="8.5" fill="#000" font-weight="bold" textLength="19.57" lengthAdjust="spacingAndGlyphs" >0.425</text>
<text x="185.98" y="388.58" font-size="8.5" fill="#000" font-weight="bold" textLength="19.57" lengthAdjust="spacingAndGlyphs" >0.430</text>
<text x="185.91" y="369.55" font-size="8.5" fill="#000" font-weight="bold" textLength="19.57" lengthAdjust="spacingAndGlyphs" >0.435</text>
<text x="185.98" y="350.52" font-size="8.5" fill="#000" font-weight="bold" textLength="19.57" lengthAdjust="spacingAndGlyphs" >0.440</text>
<text x="238.38" y="487.30" font-size="10.8" fill="#000" font-weight="bold" textLength="84.01" lengthAdjust="spacingAndGlyphs" >Frequency (kHz)</text>
<g transform="translate(182.50,440.60) rotate(-90)" font-weight="bold" fill="#000">
<text x="-0.36" y="0" font-size="12">S</text>
<text x="7.33" y="-4.6" font-size="7.0" textLength="18.39" lengthAdjust="spacingAndGlyphs">th 1/2</text>
<text x="7.32" y="1.9" font-size="7.6">x</text>
<text x="30.17" y="0" font-size="10.6" textLength="44.81" lengthAdjust="spacingAndGlyphs">(pm/√Hz)</text>
</g>
<line x1="284.4" y1="353.6" x2="300.8" y2="353.6" stroke="#000" stroke-width="1.1"/>
<text x="302.98" y="356.00" font-size="8.0" fill="#000" font-weight="bold" textLength="46.33" lengthAdjust="spacingAndGlyphs" >Experimental</text>
<rect x="284.4" y="359.2" width="16.400000000000034" height="7.400000000000034" fill="#008000" fill-opacity="0.5"/>
<text x="302.96" y="365.60" font-size="8.0" fill="#000" font-weight="bold" textLength="23.45" lengthAdjust="spacingAndGlyphs" >Fitting</text>
<text x="290.21" y="378.80" font-size="8.4" fill="#0a8a0a" font-weight="bold" textLength="42.46" lengthAdjust="spacingAndGlyphs" >Membrane</text>
<text x="290.46" y="391.00" font-size="8.4" fill="#0a8a0a" font-weight="bold" textLength="59.53" lengthAdjust="spacingAndGlyphs" >Q = 6389 <tspan font-weight="normal" fill-opacity="0.55">±</tspan> 467</text>
<text x="229.52" y="401.80" font-size="8.4" fill="#0a8a0a" font-weight="bold" textLength="35.56" lengthAdjust="spacingAndGlyphs" >TH noise</text>
<text x="247.80" y="452.80" font-size="8.4" fill="#ff8a10" font-weight="bold" textLength="69.52" lengthAdjust="spacingAndGlyphs" >Instrument noise</text>
<clipPath id="c13"><rect x="391.2" y="29.5" width="141.40000000000003" height="114.5"/></clipPath>
<g clip-path="url(#c13)">
<rect x="393.50" y="45.32" width="2.4" height="2.4" fill="#000"/>
<rect x="400.10" y="45.48" width="2.4" height="2.4" fill="#000"/>
<rect x="406.70" y="45.84" width="2.4" height="2.4" fill="#000"/>
<rect x="413.30" y="46.62" width="2.4" height="2.4" fill="#000"/>
<rect x="419.90" y="48.17" width="2.4" height="2.4" fill="#000"/>
<rect x="426.50" y="50.92" width="2.4" height="2.4" fill="#000"/>
<rect x="433.10" y="55.10" width="2.4" height="2.4" fill="#000"/>
<rect x="439.70" y="60.50" width="2.4" height="2.4" fill="#000"/>
<rect x="446.30" y="66.70" width="2.4" height="2.4" fill="#000"/>
<rect x="452.90" y="73.33" width="2.4" height="2.4" fill="#000"/>
<rect x="459.50" y="80.16" width="2.4" height="2.4" fill="#000"/>
<rect x="466.10" y="87.08" width="2.4" height="2.4" fill="#000"/>
<rect x="472.70" y="94.04" width="2.4" height="2.4" fill="#000"/>
<rect x="479.30" y="101.03" width="2.4" height="2.4" fill="#000"/>
<rect x="485.90" y="108.02" width="2.4" height="2.4" fill="#000"/>
<rect x="492.50" y="115.01" width="2.4" height="2.4" fill="#000"/>
<rect x="499.10" y="122.00" width="2.4" height="2.4" fill="#000"/>
<rect x="505.70" y="129.00" width="2.4" height="2.4" fill="#000"/>
<rect x="512.30" y="136.00" width="2.4" height="2.4" fill="#000"/>
<rect x="518.90" y="142.99" width="2.4" height="2.4" fill="#000"/>
<line x1="386.2" y1="2.26" x2="537.6" y2="162.74" stroke="#1414f5" stroke-width="1.9" stroke-dasharray="4.3 2.4"/>
</g>
<rect x="391.2" y="29.5" width="141.40" height="114.50" fill="none" stroke="#9c9c9c" stroke-width="1"/>
<line x1="419.20" y1="144.0" x2="419.20" y2="146.5" stroke="#555" stroke-width="0.8"/>
<line x1="466.70" y1="144.0" x2="466.70" y2="146.5" stroke="#555" stroke-width="0.8"/>
<line x1="514.20" y1="144.0" x2="514.20" y2="146.5" stroke="#555" stroke-width="0.8"/>
<line x1="395.45" y1="144.0" x2="395.45" y2="145.6" stroke="#555" stroke-width="0.7"/>
<line x1="442.95" y1="144.0" x2="442.95" y2="145.6" stroke="#555" stroke-width="0.7"/>
<line x1="490.45" y1="144.0" x2="490.45" y2="145.6" stroke="#555" stroke-width="0.7"/>
<line x1="391.2" y1="46.40" x2="388.7" y2="46.40" stroke="#555" stroke-width="0.8"/>
<line x1="391.2" y1="104.20" x2="388.7" y2="104.20" stroke="#555" stroke-width="0.8"/>
<line x1="391.2" y1="134.42" x2="389.59999999999997" y2="134.42" stroke="#555" stroke-width="0.7"/>
<line x1="391.2" y1="127.20" x2="389.59999999999997" y2="127.20" stroke="#555" stroke-width="0.7"/>
<line x1="391.2" y1="121.60" x2="389.59999999999997" y2="121.60" stroke="#555" stroke-width="0.7"/>
<line x1="391.2" y1="117.02" x2="389.59999999999997" y2="117.02" stroke="#555" stroke-width="0.7"/>
<line x1="391.2" y1="113.15" x2="389.59999999999997" y2="113.15" stroke="#555" stroke-width="0.7"/>
<line x1="391.2" y1="109.80" x2="389.59999999999997" y2="109.80" stroke="#555" stroke-width="0.7"/>
<line x1="391.2" y1="106.84" x2="389.59999999999997" y2="106.84" stroke="#555" stroke-width="0.7"/>
<line x1="391.2" y1="86.80" x2="389.59999999999997" y2="86.80" stroke="#555" stroke-width="0.7"/>
<line x1="391.2" y1="76.62" x2="389.59999999999997" y2="76.62" stroke="#555" stroke-width="0.7"/>
<line x1="391.2" y1="69.40" x2="389.59999999999997" y2="69.40" stroke="#555" stroke-width="0.7"/>
<line x1="391.2" y1="63.80" x2="389.59999999999997" y2="63.80" stroke="#555" stroke-width="0.7"/>
<line x1="391.2" y1="59.22" x2="389.59999999999997" y2="59.22" stroke="#555" stroke-width="0.7"/>
<line x1="391.2" y1="55.35" x2="389.59999999999997" y2="55.35" stroke="#555" stroke-width="0.7"/>
<line x1="391.2" y1="52.00" x2="389.59999999999997" y2="52.00" stroke="#555" stroke-width="0.7"/>
<line x1="391.2" y1="49.04" x2="389.59999999999997" y2="49.04" stroke="#555" stroke-width="0.7"/>
<text x="413.77" y="153.40" font-size="8.5" fill="#000" font-weight="bold" textLength="10.87" lengthAdjust="spacingAndGlyphs" >0.0</text>
<text x="461.23" y="153.40" font-size="8.5" fill="#000" font-weight="bold" textLength="10.87" lengthAdjust="spacingAndGlyphs" >0.5</text>
<text x="508.69" y="153.40" font-size="8.5" fill="#000" font-weight="bold" textLength="10.87" lengthAdjust="spacingAndGlyphs" >1.0</text>
<text x="382.86" y="48.90" font-size="8.5" fill="#000" font-weight="bold" textLength="4.35" lengthAdjust="spacingAndGlyphs" >1</text>
<text x="376.36" y="106.70" font-size="8.5" fill="#000" font-weight="bold" textLength="10.87" lengthAdjust="spacingAndGlyphs" >0.1</text>
<text x="436.74" y="169.00" font-size="10.8" fill="#000" font-weight="bold" textLength="50.81" lengthAdjust="spacingAndGlyphs" >Time (ms)</text>
<text transform="translate(370.90,138.10) rotate(-90)" x="-0.77" y="0" font-size="10.8" fill="#000" font-weight="bold" textLength="114.72" lengthAdjust="spacingAndGlyphs">Normalized amplitude</text>
<rect x="472.0" y="34.699999999999996" width="2.2" height="2.2" fill="#000"/>
<text x="483.47" y="38.20" font-size="8.0" fill="#000" font-weight="bold" textLength="47.15" lengthAdjust="spacingAndGlyphs" >Experimental</text>
<line x1="463.8" y1="45.4" x2="481.8" y2="45.4" stroke="#1414f5" stroke-width="1.7" stroke-dasharray="4.3 2.4"/>
<text x="483.46" y="48.20" font-size="8.0" fill="#000" font-weight="bold" textLength="23.45" lengthAdjust="spacingAndGlyphs" >Fitting</text>
<text x="474.98" y="63.50" font-size="8.4" fill="#1414f5" font-weight="bold" textLength="27.94" lengthAdjust="spacingAndGlyphs" >Bridge</text>
<text x="475.43" y="73.90" font-size="8.4" fill="#1414f5" font-weight="bold" textLength="49.44" lengthAdjust="spacingAndGlyphs" >f = 6905 kHz</text>
<text x="475.26" y="85.00" font-size="8.4" fill="#1414f5" font-weight="bold" textLength="54.78" lengthAdjust="spacingAndGlyphs" >Q = 5142 <tspan font-weight="normal" fill-opacity="0.55">±</tspan> 62</text>
<clipPath id="c23"><rect x="391.2" y="190.5" width="141.40000000000003" height="114.5"/></clipPath>
<g clip-path="url(#c23)">
<path d="M390.20,205.50 L390.70,205.50 L391.20,205.50 L391.70,205.50 L392.20,205.50 L392.70,205.50 L393.20,205.50 L393.70,205.50 L394.20,205.50 L394.70,205.51 L395.20,205.51 L395.70,205.51 L396.20,205.51 L396.70,205.51 L397.20,205.51 L397.70,205.51 L398.20,205.52 L398.70,205.52 L399.20,205.52 L399.70,205.53 L400.20,205.53 L400.70,205.54 L401.20,205.55 L401.70,205.56 L402.20,205.57 L402.70,205.58 L403.20,205.60 L403.70,205.61 L404.20,205.63 L404.70,205.66 L405.20,205.69 L405.70,205.72 L406.20,205.76 L406.70,205.81 L407.20,205.86 L407.70,205.93 L408.20,206.00 L408.70,206.09 L409.20,206.19 L409.70,206.30 L410.20,206.43 L410.70,206.57 L411.20,206.73 L411.70,206.91 L412.20,207.11 L412.70,207.34 L413.20,207.58 L413.70,207.84 L414.20,208.12 L414.70,208.42 L415.20,208.74 L415.70,209.07 L416.20,209.42 L416.70,209.79 L417.20,210.16 L417.70,210.55 L418.20,210.96 L418.70,211.37 L419.20,211.78 L419.70,212.21 L420.20,212.64 L420.70,213.08 L421.20,213.52 L421.70,213.96 L422.20,214.41 L422.70,214.86 L423.20,215.32 L423.70,215.77 L424.20,216.23 L424.70,216.69 L425.20,217.15 L425.70,217.61 L426.20,218.07 L426.70,218.53 L427.20,219.00 L427.70,219.46 L428.20,219.93 L428.70,220.39 L429.20,220.86 L429.70,221.32 L430.20,221.79 L430.70,222.25 L431.20,222.72 L431.70,223.19 L432.20,223.65 L432.70,224.12 L433.20,224.59 L433.70,225.05 L434.20,225.52 L434.70,225.99 L435.20,226.45 L435.70,226.92 L436.20,227.39 L436.70,227.85 L437.20,228.32 L437.70,228.79 L438.20,229.25 L438.70,229.72 L439.20,230.19 L439.70,230.66 L440.20,231.12 L440.70,231.59 L441.20,232.06 L441.70,232.52 L442.20,232.99 L442.70,233.46 L443.20,233.92 L443.70,234.39 L444.20,234.86 L444.70,235.33 L445.20,235.79 L445.70,236.26 L446.20,236.73 L446.70,237.19 L447.20,237.66 L447.70,238.13 L448.20,238.59 L448.70,239.06 L449.20,239.53 L449.70,240.00 L450.20,240.46 L450.70,240.93 L451.20,241.40 L451.70,241.86 L452.20,242.33 L452.70,242.80 L453.20,243.26 L453.70,243.73 L454.20,244.20 L454.70,244.67 L455.20,245.13 L455.70,245.60 L456.20,246.07 L456.70,246.53 L457.20,247.00 L457.70,247.47 L458.20,247.93 L458.70,248.40 L459.20,248.87 L459.70,249.34 L460.20,249.80 L460.70,250.27 L461.20,250.74 L461.70,251.20 L462.20,251.67 L462.70,252.14 L463.20,252.60 L463.70,253.07 L464.20,253.54 L464.70,254.01 L465.20,254.47 L465.70,254.94 L466.20,255.41 L466.70,255.87 L467.20,256.34 L467.70,256.81 L468.20,257.27 L468.70,257.74 L469.20,258.21 L469.70,258.68 L470.20,259.14 L470.70,259.61 L471.20,260.08 L471.70,260.54 L472.20,261.01 L472.70,261.48 L473.20,261.94 L473.70,262.41" fill="none" stroke="#111" stroke-width="3.0" stroke-linejoin="round" stroke-linecap="round"/>
<rect x="485.05" y="271.91" width="2" height="2" fill="#4a4a4a"/>
<rect x="439.72" y="230.85" width="2" height="2" fill="#4a4a4a"/>
<rect x="466.75" y="255.88" width="2" height="2" fill="#4a4a4a"/>
<rect x="467.52" y="257.55" width="2" height="2" fill="#4a4a4a"/>
<rect x="487.31" y="273.72" width="2" height="2" fill="#4a4a4a"/>
<rect x="469.67" y="257.56" width="2" height="2" fill="#4a4a4a"/>
<rect x="487.28" y="275.59" width="2" height="2" fill="#4a4a4a"/>
<rect x="507.38" y="283.15" width="2" height="2" fill="#4a4a4a"/>
<rect x="517.00" y="291.21" width="2" height="2" fill="#4a4a4a"/>
<rect x="481.55" y="267.12" width="2" height="2" fill="#4a4a4a"/>
<rect x="499.30" y="280.70" width="2" height="2" fill="#4a4a4a"/>
<rect x="497.87" y="273.48" width="2" height="2" fill="#4a4a4a"/>
<rect x="455.31" y="245.91" width="2" height="2" fill="#4a4a4a"/>
<rect x="446.47" y="236.68" width="2" height="2" fill="#4a4a4a"/>
<rect x="505.89" y="284.44" width="2" height="2" fill="#4a4a4a"/>
<rect x="505.53" y="283.10" width="2" height="2" fill="#4a4a4a"/>
<rect x="475.55" y="264.03" width="2" height="2" fill="#4a4a4a"/>
<rect x="456.01" y="246.06" width="2" height="2" fill="#4a4a4a"/>
<rect x="470.51" y="257.75" width="2" height="2" fill="#4a4a4a"/>
<rect x="443.63" y="235.20" width="2" height="2" fill="#4a4a4a"/>
<rect x="467.31" y="259.15" width="2" height="2" fill="#4a4a4a"/>
<rect x="523.55" y="298.06" width="2" height="2" fill="#4a4a4a"/>
<rect x="454.72" y="244.20" width="2" height="2" fill="#4a4a4a"/>
<rect x="457.70" y="247.03" width="2" height="2" fill="#4a4a4a"/>
<rect x="528.21" y="298.96" width="2" height="2" fill="#4a4a4a"/>
<rect x="484.01" y="269.40" width="2" height="2" fill="#4a4a4a"/>
<rect x="479.87" y="269.77" width="2" height="2" fill="#4a4a4a"/>
<rect x="494.65" y="279.42" width="2" height="2" fill="#4a4a4a"/>
<rect x="452.46" y="241.60" width="2" height="2" fill="#4a4a4a"/>
<rect x="452.71" y="242.83" width="2" height="2" fill="#4a4a4a"/>
<rect x="479.34" y="271.24" width="2" height="2" fill="#4a4a4a"/>
<rect x="445.59" y="235.75" width="2" height="2" fill="#4a4a4a"/>
<rect x="463.98" y="253.31" width="2" height="2" fill="#4a4a4a"/>
<rect x="490.90" y="270.11" width="2" height="2" fill="#4a4a4a"/>
<rect x="496.22" y="274.61" width="2" height="2" fill="#4a4a4a"/>
<rect x="480.83" y="265.00" width="2" height="2" fill="#4a4a4a"/>
<rect x="446.44" y="235.86" width="2" height="2" fill="#4a4a4a"/>
<rect x="442.20" y="233.19" width="2" height="2" fill="#4a4a4a"/>
<rect x="525.42" y="301.47" width="2" height="2" fill="#4a4a4a"/>
<rect x="484.04" y="269.35" width="2" height="2" fill="#4a4a4a"/>
<rect x="447.30" y="235.84" width="2" height="2" fill="#4a4a4a"/>
<rect x="488.10" y="275.02" width="2" height="2" fill="#4a4a4a"/>
<rect x="522.78" y="294.61" width="2" height="2" fill="#4a4a4a"/>
<rect x="508.49" y="279.32" width="2" height="2" fill="#4a4a4a"/>
<rect x="495.33" y="276.26" width="2" height="2" fill="#4a4a4a"/>
<rect x="525.79" y="297.43" width="2" height="2" fill="#4a4a4a"/>
<rect x="460.23" y="248.82" width="2" height="2" fill="#4a4a4a"/>
<rect x="512.79" y="289.56" width="2" height="2" fill="#4a4a4a"/>
<rect x="464.94" y="253.69" width="2" height="2" fill="#4a4a4a"/>
<rect x="463.91" y="252.74" width="2" height="2" fill="#4a4a4a"/>
<rect x="439.63" y="230.96" width="2" height="2" fill="#4a4a4a"/>
<rect x="521.94" y="299.01" width="2" height="2" fill="#4a4a4a"/>
<rect x="466.07" y="257.88" width="2" height="2" fill="#4a4a4a"/>
<rect x="497.30" y="275.88" width="2" height="2" fill="#4a4a4a"/>
<rect x="462.98" y="253.47" width="2" height="2" fill="#4a4a4a"/>
<rect x="504.48" y="281.87" width="2" height="2" fill="#4a4a4a"/>
<rect x="445.83" y="236.50" width="2" height="2" fill="#4a4a4a"/>
<rect x="475.98" y="264.07" width="2" height="2" fill="#4a4a4a"/>
<rect x="457.32" y="245.91" width="2" height="2" fill="#4a4a4a"/>
<rect x="506.67" y="278.48" width="2" height="2" fill="#4a4a4a"/>
<rect x="450.92" y="240.80" width="2" height="2" fill="#4a4a4a"/>
<rect x="481.73" y="271.16" width="2" height="2" fill="#4a4a4a"/>
<rect x="450.66" y="239.89" width="2" height="2" fill="#4a4a4a"/>
<rect x="488.47" y="272.39" width="2" height="2" fill="#4a4a4a"/>
<rect x="494.61" y="274.41" width="2" height="2" fill="#4a4a4a"/>
<rect x="524.84" y="305.62" width="2" height="2" fill="#4a4a4a"/>
<rect x="456.53" y="243.60" width="2" height="2" fill="#4a4a4a"/>
<rect x="463.98" y="253.89" width="2" height="2" fill="#4a4a4a"/>
<rect x="493.13" y="274.51" width="2" height="2" fill="#4a4a4a"/>
<rect x="481.48" y="266.64" width="2" height="2" fill="#4a4a4a"/>
<rect x="504.93" y="279.68" width="2" height="2" fill="#4a4a4a"/>
<rect x="457.42" y="246.35" width="2" height="2" fill="#4a4a4a"/>
<rect x="526.99" y="303.64" width="2" height="2" fill="#4a4a4a"/>
<rect x="519.29" y="293.47" width="2" height="2" fill="#4a4a4a"/>
<rect x="478.51" y="270.67" width="2" height="2" fill="#4a4a4a"/>
<rect x="522.68" y="293.83" width="2" height="2" fill="#4a4a4a"/>
<rect x="511.09" y="285.90" width="2" height="2" fill="#4a4a4a"/>
<rect x="461.88" y="246.78" width="2" height="2" fill="#4a4a4a"/>
<rect x="493.43" y="274.99" width="2" height="2" fill="#4a4a4a"/>
<rect x="447.20" y="237.11" width="2" height="2" fill="#4a4a4a"/>
<rect x="485.64" y="274.65" width="2" height="2" fill="#4a4a4a"/>
<rect x="486.05" y="272.60" width="2" height="2" fill="#4a4a4a"/>
<rect x="496.28" y="270.60" width="2" height="2" fill="#4a4a4a"/>
<rect x="466.86" y="256.43" width="2" height="2" fill="#4a4a4a"/>
<rect x="478.70" y="269.41" width="2" height="2" fill="#4a4a4a"/>
<rect x="475.99" y="260.39" width="2" height="2" fill="#4a4a4a"/>
<rect x="524.42" y="297.15" width="2" height="2" fill="#4a4a4a"/>
<rect x="528.20" y="312.69" width="2" height="2" fill="#4a4a4a"/>
<rect x="459.20" y="246.09" width="2" height="2" fill="#4a4a4a"/>
<rect x="507.15" y="279.75" width="2" height="2" fill="#4a4a4a"/>
<rect x="490.21" y="271.20" width="2" height="2" fill="#4a4a4a"/>
<rect x="458.48" y="250.14" width="2" height="2" fill="#4a4a4a"/>
<rect x="452.16" y="241.69" width="2" height="2" fill="#4a4a4a"/>
<rect x="445.13" y="234.64" width="2" height="2" fill="#4a4a4a"/>
<rect x="510.68" y="286.30" width="2" height="2" fill="#4a4a4a"/>
<rect x="462.71" y="251.17" width="2" height="2" fill="#4a4a4a"/>
<rect x="440.30" y="232.24" width="2" height="2" fill="#4a4a4a"/>
<rect x="447.81" y="237.48" width="2" height="2" fill="#4a4a4a"/>
<rect x="501.22" y="286.55" width="2" height="2" fill="#4a4a4a"/>
<rect x="476.79" y="261.66" width="2" height="2" fill="#4a4a4a"/>
<rect x="510.95" y="284.02" width="2" height="2" fill="#4a4a4a"/>
<rect x="449.30" y="238.71" width="2" height="2" fill="#4a4a4a"/>
<rect x="512.27" y="291.33" width="2" height="2" fill="#4a4a4a"/>
<rect x="447.84" y="238.30" width="2" height="2" fill="#4a4a4a"/>
<rect x="465.30" y="254.08" width="2" height="2" fill="#4a4a4a"/>
<rect x="489.90" y="270.53" width="2" height="2" fill="#4a4a4a"/>
<rect x="513.35" y="296.49" width="2" height="2" fill="#4a4a4a"/>
<rect x="474.60" y="262.44" width="2" height="2" fill="#4a4a4a"/>
<rect x="481.06" y="264.75" width="2" height="2" fill="#4a4a4a"/>
<rect x="467.57" y="256.16" width="2" height="2" fill="#4a4a4a"/>
<rect x="526.10" y="301.93" width="2" height="2" fill="#4a4a4a"/>
<rect x="451.77" y="241.26" width="2" height="2" fill="#4a4a4a"/>
<rect x="484.70" y="263.29" width="2" height="2" fill="#4a4a4a"/>
<rect x="499.19" y="279.85" width="2" height="2" fill="#4a4a4a"/>
<rect x="461.09" y="250.47" width="2" height="2" fill="#4a4a4a"/>
<rect x="497.48" y="278.09" width="2" height="2" fill="#4a4a4a"/>
<rect x="500.86" y="279.69" width="2" height="2" fill="#4a4a4a"/>
<rect x="455.39" y="245.63" width="2" height="2" fill="#4a4a4a"/>
<rect x="497.26" y="277.73" width="2" height="2" fill="#4a4a4a"/>
<rect x="480.63" y="268.97" width="2" height="2" fill="#4a4a4a"/>
<rect x="498.98" y="277.58" width="2" height="2" fill="#4a4a4a"/>
<rect x="480.25" y="270.06" width="2" height="2" fill="#4a4a4a"/>
<rect x="524.94" y="299.79" width="2" height="2" fill="#4a4a4a"/>
<rect x="481.99" y="274.67" width="2" height="2" fill="#4a4a4a"/>
<rect x="469.01" y="258.06" width="2" height="2" fill="#4a4a4a"/>
<rect x="445.30" y="233.59" width="2" height="2" fill="#4a4a4a"/>
<rect x="470.13" y="257.47" width="2" height="2" fill="#4a4a4a"/>
<rect x="513.53" y="285.25" width="2" height="2" fill="#4a4a4a"/>
<rect x="486.53" y="269.81" width="2" height="2" fill="#4a4a4a"/>
<rect x="521.87" y="293.12" width="2" height="2" fill="#4a4a4a"/>
<rect x="451.82" y="241.48" width="2" height="2" fill="#4a4a4a"/>
<rect x="489.16" y="266.64" width="2" height="2" fill="#4a4a4a"/>
<rect x="526.30" y="292.51" width="2" height="2" fill="#4a4a4a"/>
<rect x="513.40" y="287.43" width="2" height="2" fill="#4a4a4a"/>
<rect x="525.24" y="296.97" width="2" height="2" fill="#4a4a4a"/>
<rect x="449.02" y="239.71" width="2" height="2" fill="#4a4a4a"/>
<rect x="445.74" y="235.15" width="2" height="2" fill="#4a4a4a"/>
<rect x="486.24" y="273.98" width="2" height="2" fill="#4a4a4a"/>
<rect x="455.14" y="245.08" width="2" height="2" fill="#4a4a4a"/>
<rect x="514.01" y="293.06" width="2" height="2" fill="#4a4a4a"/>
<rect x="468.90" y="257.67" width="2" height="2" fill="#4a4a4a"/>
<rect x="474.89" y="265.24" width="2" height="2" fill="#4a4a4a"/>
<rect x="509.98" y="291.61" width="2" height="2" fill="#4a4a4a"/>
<rect x="475.74" y="263.77" width="2" height="2" fill="#4a4a4a"/>
<rect x="447.61" y="239.07" width="2" height="2" fill="#4a4a4a"/>
<rect x="451.87" y="241.87" width="2" height="2" fill="#4a4a4a"/>
<rect x="455.75" y="247.14" width="2" height="2" fill="#4a4a4a"/>
<rect x="497.05" y="275.40" width="2" height="2" fill="#4a4a4a"/>
<rect x="525.57" y="298.97" width="2" height="2" fill="#4a4a4a"/>
<rect x="465.67" y="256.40" width="2" height="2" fill="#4a4a4a"/>
<rect x="488.78" y="268.50" width="2" height="2" fill="#4a4a4a"/>
<rect x="484.05" y="269.15" width="2" height="2" fill="#4a4a4a"/>
<rect x="481.60" y="269.51" width="2" height="2" fill="#4a4a4a"/>
<rect x="513.57" y="290.98" width="2" height="2" fill="#4a4a4a"/>
<rect x="470.63" y="261.04" width="2" height="2" fill="#4a4a4a"/>
<rect x="471.30" y="260.29" width="2" height="2" fill="#4a4a4a"/>
<rect x="458.72" y="249.02" width="2" height="2" fill="#4a4a4a"/>
<rect x="525.01" y="297.11" width="2" height="2" fill="#4a4a4a"/>
<rect x="464.83" y="253.71" width="2" height="2" fill="#4a4a4a"/>
<rect x="482.61" y="262.96" width="2" height="2" fill="#4a4a4a"/>
<rect x="496.49" y="276.25" width="2" height="2" fill="#4a4a4a"/>
<rect x="444.26" y="235.26" width="2" height="2" fill="#4a4a4a"/>
<rect x="483.94" y="271.07" width="2" height="2" fill="#4a4a4a"/>
<rect x="483.20" y="274.03" width="2" height="2" fill="#4a4a4a"/>
<rect x="445.54" y="235.29" width="2" height="2" fill="#4a4a4a"/>
<rect x="505.60" y="289.66" width="2" height="2" fill="#4a4a4a"/>
<rect x="523.72" y="295.51" width="2" height="2" fill="#4a4a4a"/>
<rect x="503.93" y="288.42" width="2" height="2" fill="#4a4a4a"/>
<rect x="464.77" y="256.86" width="2" height="2" fill="#4a4a4a"/>
<rect x="486.24" y="274.48" width="2" height="2" fill="#4a4a4a"/>
<rect x="480.98" y="269.23" width="2" height="2" fill="#4a4a4a"/>
<rect x="517.66" y="289.90" width="2" height="2" fill="#4a4a4a"/>
<rect x="477.95" y="267.67" width="2" height="2" fill="#4a4a4a"/>
<rect x="509.57" y="290.91" width="2" height="2" fill="#4a4a4a"/>
<rect x="519.45" y="291.70" width="2" height="2" fill="#4a4a4a"/>
<rect x="526.49" y="309.14" width="2" height="2" fill="#4a4a4a"/>
<rect x="457.93" y="244.03" width="2" height="2" fill="#4a4a4a"/>
<rect x="450.23" y="240.09" width="2" height="2" fill="#4a4a4a"/>
<rect x="527.56" y="295.00" width="2" height="2" fill="#4a4a4a"/>
<rect x="520.38" y="292.39" width="2" height="2" fill="#4a4a4a"/>
<rect x="498.08" y="276.29" width="2" height="2" fill="#4a4a4a"/>
<rect x="518.48" y="286.91" width="2" height="2" fill="#4a4a4a"/>
<rect x="528.27" y="299.28" width="2" height="2" fill="#4a4a4a"/>
<rect x="459.58" y="246.29" width="2" height="2" fill="#4a4a4a"/>
<rect x="456.63" y="242.61" width="2" height="2" fill="#4a4a4a"/>
<rect x="526.44" y="304.06" width="2" height="2" fill="#4a4a4a"/>
<rect x="444.13" y="234.40" width="2" height="2" fill="#4a4a4a"/>
<rect x="511.40" y="286.35" width="2" height="2" fill="#4a4a4a"/>
<rect x="512.06" y="287.34" width="2" height="2" fill="#4a4a4a"/>
<rect x="502.83" y="283.92" width="2" height="2" fill="#4a4a4a"/>
<rect x="504.26" y="278.28" width="2" height="2" fill="#4a4a4a"/>
<rect x="478.54" y="266.88" width="2" height="2" fill="#4a4a4a"/>
<rect x="498.45" y="277.20" width="2" height="2" fill="#4a4a4a"/>
<rect x="463.76" y="251.61" width="2" height="2" fill="#4a4a4a"/>
<rect x="480.67" y="269.97" width="2" height="2" fill="#4a4a4a"/>
<rect x="510.98" y="285.56" width="2" height="2" fill="#4a4a4a"/>
<rect x="470.44" y="257.34" width="2" height="2" fill="#4a4a4a"/>
<rect x="444.23" y="234.27" width="2" height="2" fill="#4a4a4a"/>
<rect x="489.82" y="271.35" width="2" height="2" fill="#4a4a4a"/>
<rect x="440.15" y="231.59" width="2" height="2" fill="#4a4a4a"/>
<rect x="488.10" y="272.28" width="2" height="2" fill="#4a4a4a"/>
<rect x="477.08" y="265.01" width="2" height="2" fill="#4a4a4a"/>
<rect x="487.23" y="274.02" width="2" height="2" fill="#4a4a4a"/>
<rect x="455.53" y="244.09" width="2" height="2" fill="#4a4a4a"/>
<rect x="491.11" y="273.14" width="2" height="2" fill="#4a4a4a"/>
<rect x="457.74" y="247.94" width="2" height="2" fill="#4a4a4a"/>
<rect x="485.64" y="271.35" width="2" height="2" fill="#4a4a4a"/>
<rect x="515.88" y="288.69" width="2" height="2" fill="#4a4a4a"/>
<rect x="486.98" y="268.96" width="2" height="2" fill="#4a4a4a"/>
<rect x="475.53" y="265.87" width="2" height="2" fill="#4a4a4a"/>
<rect x="466.47" y="256.74" width="2" height="2" fill="#4a4a4a"/>
<rect x="518.36" y="292.22" width="2" height="2" fill="#4a4a4a"/>
<rect x="469.06" y="258.17" width="2" height="2" fill="#4a4a4a"/>
<rect x="499.80" y="280.35" width="2" height="2" fill="#4a4a4a"/>
<rect x="459.08" y="249.81" width="2" height="2" fill="#4a4a4a"/>
<rect x="454.32" y="245.03" width="2" height="2" fill="#4a4a4a"/>
<rect x="446.34" y="238.10" width="2" height="2" fill="#4a4a4a"/>
<rect x="445.40" y="236.40" width="2" height="2" fill="#4a4a4a"/>
<rect x="527.07" y="301.41" width="2" height="2" fill="#4a4a4a"/>
<rect x="517.01" y="291.82" width="2" height="2" fill="#4a4a4a"/>
<rect x="456.31" y="246.31" width="2" height="2" fill="#4a4a4a"/>
<rect x="523.47" y="294.48" width="2" height="2" fill="#4a4a4a"/>
<rect x="449.83" y="239.85" width="2" height="2" fill="#4a4a4a"/>
<rect x="463.84" y="254.30" width="2" height="2" fill="#4a4a4a"/>
<rect x="504.59" y="277.05" width="2" height="2" fill="#4a4a4a"/>
<rect x="509.87" y="290.49" width="2" height="2" fill="#4a4a4a"/>
<rect x="492.66" y="270.63" width="2" height="2" fill="#4a4a4a"/>
<rect x="513.97" y="290.44" width="2" height="2" fill="#4a4a4a"/>
<rect x="522.99" y="300.80" width="2" height="2" fill="#4a4a4a"/>
<rect x="463.90" y="253.42" width="2" height="2" fill="#4a4a4a"/>
<line x1="386.2" y1="180.69" x2="537.6" y2="322.09" stroke="#ff1a1a" stroke-width="1.9" stroke-dasharray="4.3 2.4"/>
</g>
<rect x="391.2" y="190.5" width="141.40" height="114.50" fill="none" stroke="#9c9c9c" stroke-width="1"/>
<line x1="413.50" y1="305.0" x2="413.50" y2="307.5" stroke="#555" stroke-width="0.8"/>
<line x1="460.00" y1="305.0" x2="460.00" y2="307.5" stroke="#555" stroke-width="0.8"/>
<line x1="505.90" y1="305.0" x2="505.90" y2="307.5" stroke="#555" stroke-width="0.8"/>
<line x1="390.25" y1="305.0" x2="390.25" y2="306.6" stroke="#555" stroke-width="0.7"/>
<line x1="436.75" y1="305.0" x2="436.75" y2="306.6" stroke="#555" stroke-width="0.7"/>
<line x1="482.95" y1="305.0" x2="482.95" y2="306.6" stroke="#555" stroke-width="0.7"/>
<line x1="529.10" y1="305.0" x2="529.10" y2="306.6" stroke="#555" stroke-width="0.7"/>
<line x1="391.2" y1="205.50" x2="388.7" y2="205.50" stroke="#555" stroke-width="0.8"/>
<line x1="391.2" y1="255.10" x2="388.7" y2="255.10" stroke="#555" stroke-width="0.8"/>
<line x1="391.2" y1="304.70" x2="388.7" y2="304.70" stroke="#555" stroke-width="0.8"/>
<line x1="391.2" y1="289.77" x2="389.59999999999997" y2="289.77" stroke="#555" stroke-width="0.7"/>
<line x1="391.2" y1="281.03" x2="389.59999999999997" y2="281.03" stroke="#555" stroke-width="0.7"/>
<line x1="391.2" y1="274.84" x2="389.59999999999997" y2="274.84" stroke="#555" stroke-width="0.7"/>
<line x1="391.2" y1="270.03" x2="389.59999999999997" y2="270.03" stroke="#555" stroke-width="0.7"/>
<line x1="391.2" y1="266.10" x2="389.59999999999997" y2="266.10" stroke="#555" stroke-width="0.7"/>
<line x1="391.2" y1="262.78" x2="389.59999999999997" y2="262.78" stroke="#555" stroke-width="0.7"/>
<line x1="391.2" y1="259.91" x2="389.59999999999997" y2="259.91" stroke="#555" stroke-width="0.7"/>
<line x1="391.2" y1="257.37" x2="389.59999999999997" y2="257.37" stroke="#555" stroke-width="0.7"/>
<line x1="391.2" y1="240.17" x2="389.59999999999997" y2="240.17" stroke="#555" stroke-width="0.7"/>
<line x1="391.2" y1="231.43" x2="389.59999999999997" y2="231.43" stroke="#555" stroke-width="0.7"/>
<line x1="391.2" y1="225.24" x2="389.59999999999997" y2="225.24" stroke="#555" stroke-width="0.7"/>
<line x1="391.2" y1="220.43" x2="389.59999999999997" y2="220.43" stroke="#555" stroke-width="0.7"/>
<line x1="391.2" y1="216.50" x2="389.59999999999997" y2="216.50" stroke="#555" stroke-width="0.7"/>
<line x1="391.2" y1="213.18" x2="389.59999999999997" y2="213.18" stroke="#555" stroke-width="0.7"/>
<line x1="391.2" y1="210.31" x2="389.59999999999997" y2="210.31" stroke="#555" stroke-width="0.7"/>
<line x1="391.2" y1="207.77" x2="389.59999999999997" y2="207.77" stroke="#555" stroke-width="0.7"/>
<line x1="391.2" y1="190.57" x2="389.59999999999997" y2="190.57" stroke="#555" stroke-width="0.7"/>
<text x="411.31" y="314.40" font-size="8.5" fill="#000" font-weight="bold" textLength="4.35" lengthAdjust="spacingAndGlyphs" >0</text>
<text x="455.66" y="314.40" font-size="8.5" fill="#000" font-weight="bold" textLength="8.70" lengthAdjust="spacingAndGlyphs" >20</text>
<text x="501.60" y="314.40" font-size="8.5" fill="#000" font-weight="bold" textLength="8.70" lengthAdjust="spacingAndGlyphs" >40</text>
<text x="382.86" y="208.00" font-size="8.5" fill="#000" font-weight="bold" textLength="4.35" lengthAdjust="spacingAndGlyphs" >1</text>
<text x="376.36" y="257.60" font-size="8.5" fill="#000" font-weight="bold" textLength="10.87" lengthAdjust="spacingAndGlyphs" >0.1</text>
<text x="371.99" y="307.20" font-size="8.5" fill="#000" font-weight="bold" textLength="15.22" lengthAdjust="spacingAndGlyphs" >0.01</text>
<text x="436.74" y="330.00" font-size="10.8" fill="#000" font-weight="bold" textLength="50.81" lengthAdjust="spacingAndGlyphs" >Time (ms)</text>
<text transform="translate(370.90,299.10) rotate(-90)" x="-0.77" y="0" font-size="10.8" fill="#000" font-weight="bold" textLength="114.72" lengthAdjust="spacingAndGlyphs">Normalized amplitude</text>
<rect x="471.4" y="196.4" width="2.2" height="2.2" fill="#555"/>
<text x="483.47" y="199.40" font-size="8.0" fill="#000" font-weight="bold" textLength="47.15" lengthAdjust="spacingAndGlyphs" >Experimental</text>
<line x1="464.0" y1="206.6" x2="481.6" y2="206.6" stroke="#ff1a1a" stroke-width="1.7" stroke-dasharray="4.3 2.4"/>
<text x="483.46" y="208.60" font-size="8.0" fill="#000" font-weight="bold" textLength="23.45" lengthAdjust="spacingAndGlyphs" >Fitting</text>
<text x="464.66" y="222.90" font-size="8.4" fill="#ff1a1a" font-weight="bold" textLength="41.27" lengthAdjust="spacingAndGlyphs" >Cantilever</text>
<text x="464.83" y="233.60" font-size="8.4" fill="#ff1a1a" font-weight="bold" textLength="44.79" lengthAdjust="spacingAndGlyphs" >f = 470 kHz</text>
<text x="464.65" y="245.00" font-size="8.4" fill="#ff1a1a" font-weight="bold" textLength="64.60" lengthAdjust="spacingAndGlyphs" >Q = 14905 <tspan font-weight="normal" fill-opacity="0.55">±</tspan> 176</text>
<clipPath id="c33"><rect x="389.5" y="348.0" width="142.0" height="114.30000000000001"/></clipPath>
<g clip-path="url(#c33)">
<path d="M388.50,362.60 L389.00,362.60 L389.50,362.61 L390.00,362.61 L390.50,362.61 L391.00,362.61 L391.50,362.61 L392.00,362.61 L392.50,362.61 L393.00,362.61 L393.50,362.62 L394.00,362.62 L394.50,362.62 L395.00,362.62 L395.50,362.63 L396.00,362.63 L396.50,362.63 L397.00,362.64 L397.50,362.64 L398.00,362.65 L398.50,362.66 L399.00,362.67 L399.50,362.68 L400.00,362.69 L400.50,362.70 L401.00,362.71 L401.50,362.73 L402.00,362.75 L402.50,362.77 L403.00,362.79 L403.50,362.82 L404.00,362.85 L404.50,362.89 L405.00,362.92 L405.50,362.97 L406.00,363.02 L406.50,363.08 L407.00,363.14 L407.50,363.21 L408.00,363.29 L408.50,363.38 L409.00,363.49 L409.50,363.60 L410.00,363.72 L410.50,363.86 L411.00,364.01 L411.50,364.18 L412.00,364.36 L412.50,364.55 L413.00,364.76 L413.50,364.99 L414.00,365.24 L414.50,365.50 L415.00,365.78 L415.50,366.07 L416.00,366.38 L416.50,366.71 L417.00,367.05 L417.50,367.40 L418.00,367.76 L418.50,368.14 L419.00,368.53 L419.50,368.93 L420.00,369.34 L420.50,369.76 L421.00,370.18 L421.50,370.61 L422.00,371.05 L422.50,371.50 L423.00,371.95 L423.50,372.40 L424.00,372.86 L424.50,373.32 L425.00,373.79 L425.50,374.26 L426.00,374.73 L426.50,375.20 L427.00,375.68 L427.50,376.15 L428.00,376.63 L428.50,377.11 L429.00,377.59 L429.50,378.07 L430.00,378.56 L430.50,379.04 L431.00,379.52 L431.50,380.01 L432.00,380.49 L432.50,380.98 L433.00,381.46 L433.50,381.95 L434.00,382.44 L434.50,382.93 L435.00,383.41 L435.50,383.90 L436.00,384.39 L436.50,384.88 L437.00,385.36 L437.50,385.85 L438.00,386.34 L438.50,386.83 L439.00,387.32 L439.50,387.81 L440.00,388.29 L440.50,388.78 L441.00,389.27 L441.50,389.76 L442.00,390.25 L442.50,390.74 L443.00,391.23 L443.50,391.72 L444.00,392.20 L444.50,392.69 L445.00,393.18 L445.50,393.67 L446.00,394.16 L446.50,394.65 L447.00,395.14 L447.50,395.63 L448.00,396.12 L448.50,396.60 L449.00,397.09 L449.50,397.58 L450.00,398.07 L450.50,398.56 L451.00,399.05 L451.50,399.54 L452.00,400.03 L452.50,400.52 L453.00,401.01 L453.50,401.49 L454.00,401.98 L454.50,402.47 L455.00,402.96 L455.50,403.45 L456.00,403.94 L456.50,404.43 L457.00,404.92 L457.50,405.41 L458.00,405.90 L458.50,406.38 L459.00,406.87 L459.50,407.36 L460.00,407.85 L460.50,408.34 L461.00,408.83 L461.50,409.32 L462.00,409.81 L462.50,410.30 L463.00,410.79 L463.50,411.27 L464.00,411.76 L464.50,412.25 L465.00,412.74 L465.50,413.23 L466.00,413.72 L466.50,414.21 L467.00,414.70 L467.50,415.19 L468.00,415.68 L468.50,416.16 L469.00,416.65 L469.50,417.14 L470.00,417.63 L470.50,418.12 L471.00,418.61 L471.50,419.10 L472.00,419.59 L472.50,420.08 L473.00,420.57 L473.50,421.05 L474.00,421.54 L474.50,422.03 L475.00,422.52 L475.50,423.01 L476.00,423.50 L476.50,423.99 L477.00,424.48 L477.50,424.97 L478.00,425.46 L478.50,425.94 L479.00,426.43 L479.50,426.92 L480.00,427.41 L480.50,427.90 L481.00,428.39 L481.50,428.88 L482.00,429.37 L482.50,429.86 L483.00,430.35 L483.50,430.83 L483.90,431.30 L484.51,432.23 L485.35,433.56 L486.34,435.11 L487.41,436.70 L488.45,438.16 L489.40,439.30 L490.25,440.10 L491.08,440.70 L491.89,441.16 L492.69,441.56 L493.49,441.95 L494.30,442.40 L495.12,442.88 L495.93,443.34 L496.75,443.79 L497.57,444.26 L498.38,444.79 L499.20,445.40 L500.00,446.10 L500.79,446.87 L501.57,447.69 L502.38,448.54 L503.21,449.42 L504.10,450.30 L505.06,451.23 L506.09,452.23 L507.15,453.26 L508.21,454.24 L509.24,455.14 L510.20,455.90 L511.10,456.52 L511.97,457.05 L512.80,457.49 L513.60,457.84 L514.37,458.11 L515.10,458.30 L515.80,458.35 L516.47,458.26 L517.10,458.07 L517.70,457.88 L518.27,457.73 L518.80,457.70 L519.29,457.78 L519.75,457.91 L520.17,458.09 L520.56,458.32 L520.94,458.59 L521.30,458.90 L521.65,459.27 L521.99,459.70 L522.30,460.18 L522.59,460.67 L522.86,461.15 L523.10,461.60 L523.31,462.05 L523.50,462.51 L523.66,462.97 L523.80,463.39 L523.91,463.74 L524.00,464.00" fill="none" stroke="#333" stroke-width="3.0" stroke-linejoin="round" stroke-linecap="round"/>
<line x1="384.5" y1="334.01" x2="536.5" y2="482.67" stroke="#0a8a0a" stroke-width="1.9" stroke-dasharray="4.3 2.4"/>
</g>
<rect x="389.5" y="348.0" width="142.00" height="114.30" fill="none" stroke="#9c9c9c" stroke-width="1"/>
<line x1="414.00" y1="462.3" x2="414.00" y2="464.8" stroke="#555" stroke-width="0.8"/>
<line x1="460.70" y1="462.3" x2="460.70" y2="464.8" stroke="#555" stroke-width="0.8"/>
<line x1="507.40" y1="462.3" x2="507.40" y2="464.8" stroke="#555" stroke-width="0.8"/>
<line x1="390.65" y1="462.3" x2="390.65" y2="463.90000000000003" stroke="#555" stroke-width="0.7"/>
<line x1="437.35" y1="462.3" x2="437.35" y2="463.90000000000003" stroke="#555" stroke-width="0.7"/>
<line x1="484.05" y1="462.3" x2="484.05" y2="463.90000000000003" stroke="#555" stroke-width="0.7"/>
<line x1="530.75" y1="462.3" x2="530.75" y2="463.90000000000003" stroke="#555" stroke-width="0.7"/>
<line x1="389.5" y1="362.60" x2="387.0" y2="362.60" stroke="#555" stroke-width="0.8"/>
<line x1="389.5" y1="412.40" x2="387.0" y2="412.40" stroke="#555" stroke-width="0.8"/>
<line x1="389.5" y1="462.20" x2="387.0" y2="462.20" stroke="#555" stroke-width="0.8"/>
<line x1="389.5" y1="447.38" x2="387.9" y2="447.38" stroke="#555" stroke-width="0.7"/>
<line x1="389.5" y1="438.59" x2="387.9" y2="438.59" stroke="#555" stroke-width="0.7"/>
<line x1="389.5" y1="432.36" x2="387.9" y2="432.36" stroke="#555" stroke-width="0.7"/>
<line x1="389.5" y1="427.52" x2="387.9" y2="427.52" stroke="#555" stroke-width="0.7"/>
<line x1="389.5" y1="423.57" x2="387.9" y2="423.57" stroke="#555" stroke-width="0.7"/>
<line x1="389.5" y1="420.23" x2="387.9" y2="420.23" stroke="#555" stroke-width="0.7"/>
<line x1="389.5" y1="417.34" x2="387.9" y2="417.34" stroke="#555" stroke-width="0.7"/>
<line x1="389.5" y1="414.78" x2="387.9" y2="414.78" stroke="#555" stroke-width="0.7"/>
<line x1="389.5" y1="397.48" x2="387.9" y2="397.48" stroke="#555" stroke-width="0.7"/>
<line x1="389.5" y1="388.69" x2="387.9" y2="388.69" stroke="#555" stroke-width="0.7"/>
<line x1="389.5" y1="382.46" x2="387.9" y2="382.46" stroke="#555" stroke-width="0.7"/>
<line x1="389.5" y1="377.62" x2="387.9" y2="377.62" stroke="#555" stroke-width="0.7"/>
<line x1="389.5" y1="373.67" x2="387.9" y2="373.67" stroke="#555" stroke-width="0.7"/>
<line x1="389.5" y1="370.33" x2="387.9" y2="370.33" stroke="#555" stroke-width="0.7"/>
<line x1="389.5" y1="367.44" x2="387.9" y2="367.44" stroke="#555" stroke-width="0.7"/>
<line x1="389.5" y1="364.88" x2="387.9" y2="364.88" stroke="#555" stroke-width="0.7"/>
<text x="411.81" y="471.70" font-size="8.5" fill="#000" font-weight="bold" textLength="4.35" lengthAdjust="spacingAndGlyphs" >0</text>
<text x="458.39" y="471.70" font-size="8.5" fill="#000" font-weight="bold" textLength="4.35" lengthAdjust="spacingAndGlyphs" >1</text>
<text x="505.25" y="471.70" font-size="8.5" fill="#000" font-weight="bold" textLength="4.35" lengthAdjust="spacingAndGlyphs" >2</text>
<text x="381.16" y="365.10" font-size="8.5" fill="#000" font-weight="bold" textLength="4.35" lengthAdjust="spacingAndGlyphs" >1</text>
<text x="374.66" y="414.90" font-size="8.5" fill="#000" font-weight="bold" textLength="10.87" lengthAdjust="spacingAndGlyphs" >0.1</text>
<text x="370.29" y="464.70" font-size="8.5" fill="#000" font-weight="bold" textLength="15.22" lengthAdjust="spacingAndGlyphs" >0.01</text>
<text x="435.34" y="487.30" font-size="10.8" fill="#000" font-weight="bold" textLength="50.81" lengthAdjust="spacingAndGlyphs" >Time (ms)</text>
<text transform="translate(370.30,456.60) rotate(-90)" x="-0.77" y="0" font-size="10.8" fill="#000" font-weight="bold" textLength="114.72" lengthAdjust="spacingAndGlyphs">Normalized amplitude</text>
<rect x="469.4" y="353.9" width="2.2" height="2.2" fill="#555"/>
<text x="481.47" y="357.20" font-size="8.0" fill="#000" font-weight="bold" textLength="47.15" lengthAdjust="spacingAndGlyphs" >Experimental</text>
<line x1="462.0" y1="363.6" x2="479.1" y2="363.6" stroke="#0a8a0a" stroke-width="1.7" stroke-dasharray="4.3 2.4"/>
<text x="481.46" y="366.20" font-size="8.0" fill="#000" font-weight="bold" textLength="23.45" lengthAdjust="spacingAndGlyphs" >Fitting</text>
<text x="468.69" y="383.00" font-size="8.4" fill="#0a8a0a" font-weight="bold" textLength="43.79" lengthAdjust="spacingAndGlyphs" >Membrane</text>
<text x="469.13" y="393.50" font-size="8.4" fill="#0a8a0a" font-weight="bold" textLength="49.54" lengthAdjust="spacingAndGlyphs" >f = 4473 kHz</text>
<text x="468.96" y="405.00" font-size="8.4" fill="#0a8a0a" font-weight="bold" textLength="59.44" lengthAdjust="spacingAndGlyphs" >Q = 6604 <tspan font-weight="normal" fill-opacity="0.55">±</tspan> 159</text>
<defs>
<linearGradient id="gBridge" gradientUnits="userSpaceOnUse" x1="577" y1="0" x2="653" y2="0">
<stop offset="0" stop-color="#2a2ad8"/><stop offset="0.11" stop-color="#2050e8"/>
<stop offset="0.18" stop-color="#00b4e0"/><stop offset="0.25" stop-color="#8cd050"/>
<stop offset="0.31" stop-color="#f0c020"/><stop offset="0.37" stop-color="#f06020"/>
<stop offset="0.44" stop-color="#d82a24"/><stop offset="0.6" stop-color="#c83030"/>
<stop offset="0.68" stop-color="#e84020"/><stop offset="0.73" stop-color="#f0a020"/>
<stop offset="0.77" stop-color="#d8e030"/><stop offset="0.81" stop-color="#70d090"/>
<stop offset="0.85" stop-color="#00c0e8"/><stop offset="0.92" stop-color="#2060e8"/>
<stop offset="1" stop-color="#2a2ad8"/></linearGradient>
<linearGradient id="gCant" gradientUnits="userSpaceOnUse" x1="610" y1="0" x2="663" y2="0">
<stop offset="0" stop-color="#3030d0"/><stop offset="0.2" stop-color="#2050f0"/>
<stop offset="0.42" stop-color="#00c0e8"/><stop offset="0.58" stop-color="#80d880"/>
<stop offset="0.72" stop-color="#e8d830"/><stop offset="0.85" stop-color="#f08030"/>
<stop offset="1" stop-color="#c82828"/></linearGradient>
<radialGradient id="gMem" cx="0.5" cy="0.5" r="0.5" fx="0.48" fy="0.37">
<stop offset="0" stop-color="#c05050"/><stop offset="0.1" stop-color="#a81414"/>
<stop offset="0.28" stop-color="#c81a1a"/><stop offset="0.35" stop-color="#e84a14"/>
<stop offset="0.4" stop-color="#f09020"/><stop offset="0.46" stop-color="#e0d020"/>
<stop offset="0.53" stop-color="#90d060"/><stop offset="0.6" stop-color="#20c0b0"/>
<stop offset="0.66" stop-color="#00a8e8"/><stop offset="0.74" stop-color="#1050e8"/>
<stop offset="0.84" stop-color="#0000c0"/><stop offset="0.93" stop-color="#2020b0"/>
<stop offset="1" stop-color="#5454a8"/></radialGradient>
</defs>
<polygon points="544.70,100.40 571.80,120.90 572.20,141.00 545.90,119.90" fill="#000080" stroke="#000080" stroke-width="0.5" stroke-linejoin="round" />
<polygon points="571.80,120.90 591.40,113.10 591.90,133.60 572.20,141.00" fill="#000066" stroke="#000066" stroke-width="0.5" stroke-linejoin="round" />
<polygon points="544.70,100.40 564.30,93.40 591.40,113.10 571.80,120.90" fill="#5454a8" stroke="#5454a8" stroke-width="0.5" stroke-linejoin="round" />
<polygon points="637.80,65.90 666.40,83.90 666.00,102.50 638.40,84.90" fill="#000080" stroke="#000080" stroke-width="0.5" stroke-linejoin="round" />
<polygon points="666.40,83.90 683.50,77.10 682.90,96.10 666.00,102.50" fill="#000066" stroke="#000066" stroke-width="0.5" stroke-linejoin="round" />
<polygon points="637.80,65.90 654.30,59.50 683.50,77.10 666.40,83.90" fill="#5454a8" stroke="#5454a8" stroke-width="0.5" stroke-linejoin="round" />
<path d="M575.50,101.50 L576.27,101.12 L577.38,100.59 L578.66,99.96 L580.00,99.30 L581.39,98.60 L582.91,97.83 L584.46,97.05 L586.00,96.30 L587.54,95.59 L589.11,94.91 L590.62,94.24 L592.00,93.60 L593.14,93.03 L594.11,92.52 L595.10,91.98 L596.30,91.30 L597.81,90.42 L599.52,89.41 L601.29,88.37 L603.00,87.40 L604.62,86.52 L606.21,85.68 L607.79,84.87 L609.40,84.10 L611.04,83.36 L612.69,82.66 L614.35,82.00 L616.00,81.40 L617.68,80.87 L619.37,80.40 L621.03,79.98 L622.60,79.60 L624.04,79.27 L625.39,78.99 L626.70,78.74 L628.00,78.50 L629.30,78.28 L630.58,78.08 L631.85,77.89 L633.10,77.70 L634.32,77.52 L635.52,77.34 L636.73,77.17 L638.00,77.00 L639.38,76.84 L640.83,76.68 L642.27,76.53 L643.60,76.40 L644.78,76.28 L645.87,76.18 L646.92,76.08 L648.00,76.00 L649.22,75.93 L650.52,75.88 L651.69,75.83 L652.50,75.80 L653.30,79.29 L652.49,79.34 L651.32,79.40 L650.02,79.47 L648.80,79.56 L647.72,79.66 L646.67,79.77 L645.58,79.89 L644.40,80.03 L643.07,80.19 L641.63,80.36 L640.18,80.54 L638.80,80.72 L637.53,80.90 L636.32,81.10 L635.12,81.29 L633.90,81.50 L632.65,81.70 L631.38,81.91 L630.10,82.13 L628.80,82.38 L627.50,82.63 L626.19,82.90 L624.84,83.21 L623.40,83.56 L621.83,83.96 L620.17,84.42 L618.48,84.95 L616.80,85.53 L615.15,86.19 L613.49,86.90 L611.84,87.66 L610.20,88.45 L608.59,89.28 L607.01,90.13 L605.42,91.03 L603.80,91.97 L602.09,92.99 L600.32,94.10 L598.61,95.16 L597.10,96.09 L595.90,96.81 L594.91,97.39 L593.94,97.93 L592.80,98.53 L591.42,99.22 L589.91,99.91 L588.34,100.59 L586.80,101.30 L585.26,102.05 L583.71,102.83 L582.19,103.60 L580.80,104.30 L579.46,104.96 L579.30,104.30 Z" fill="url(#gBridge)"/>
<path d="M579.46,104.96 L580.80,104.30 L582.19,103.60 L583.71,102.83 L585.26,102.05 L586.80,101.30 L588.34,100.59 L589.91,99.91 L591.42,99.22 L592.80,98.53 L593.94,97.93 L594.91,97.39 L595.90,96.81 L597.10,96.09 L598.61,95.16 L600.32,94.10 L602.09,92.99 L603.80,91.97 L605.42,91.03 L607.01,90.13 L608.59,89.28 L610.20,88.45 L611.84,87.66 L613.49,86.90 L615.15,86.19 L616.80,85.53 L618.48,84.95 L620.17,84.42 L621.83,83.96 L623.40,83.56 L624.84,83.21 L626.19,82.90 L627.50,82.63 L628.80,82.38 L630.10,82.13 L631.38,81.91 L632.65,81.70 L633.90,81.50 L635.12,81.29 L636.32,81.10 L637.53,80.90 L638.80,80.72 L640.18,80.54 L641.63,80.36 L643.07,80.19 L644.40,80.03 L645.58,79.89 L646.67,79.77 L647.72,79.66 L648.80,79.56 L650.02,79.47 L651.32,79.40 L652.49,79.34 L653.30,79.29" fill="none" stroke="#000" stroke-opacity="0.2" stroke-width="1.2"/>
<path d="M575.70,102.30 L576.47,101.92 L577.58,101.39 L578.86,100.76 L580.20,100.10 L581.59,99.40 L583.11,98.63 L584.66,97.85 L586.20,97.10 L587.74,96.39 L589.31,95.71 L590.82,95.04 L592.20,94.40 L593.34,93.83 L594.31,93.32 L595.30,92.78 L596.50,92.10 L598.01,91.22 L599.72,90.21 L601.49,89.17 L603.20,88.20 L604.82,87.32 L606.41,86.48 L607.99,85.67 L609.60,84.90 L611.24,84.16 L612.89,83.46 L614.55,82.80 L616.20,82.20 L617.88,81.67 L619.57,81.20 L621.23,80.78 L622.80,80.40 L624.24,80.07 L625.59,79.79 L626.90,79.54 L628.20,79.30 L629.50,79.08 L630.78,78.88 L632.05,78.69 L633.30,78.50 L634.52,78.32 L635.72,78.14 L636.93,77.97 L638.20,77.80 L639.58,77.64 L641.03,77.48 L642.47,77.33 L643.80,77.20 L644.98,77.08 L646.07,76.98 L647.12,76.88 L648.20,76.80 L649.42,76.73 L650.73,76.67 L651.89,76.63 L652.70,76.60" fill="none" stroke="#400" stroke-opacity="0.18" stroke-width="1.4"/>
<polygon points="552.30,233.60 595.50,265.30 595.50,297.70 553.80,265.30" fill="#000080" stroke="#000080" stroke-width="0.5" stroke-linejoin="round" />
<polygon points="595.50,265.30 626.40,253.30 626.40,285.00 595.50,297.70" fill="#000066" stroke="#000066" stroke-width="0.5" stroke-linejoin="round" />
<polygon points="552.30,233.60 582.30,223.00 626.40,253.30 595.50,265.30" fill="#5454a8" stroke="#5454a8" stroke-width="0.5" stroke-linejoin="round" />
<polygon points="613.00,244.10 665.30,218.10 665.30,219.60 613.00,245.60" fill="#202080" stroke="#202080" stroke-width="0.5" stroke-linejoin="round" />
<polygon points="605.40,238.90 657.50,213.50 665.30,218.10 613.00,244.10" fill="url(#gCant)" stroke="none" stroke-width="0.5" stroke-linejoin="round" />
<polygon points="657.50,213.50 665.30,218.10 665.30,219.70 657.50,215.10" fill="#8a1a1a" stroke="#8a1a1a" stroke-width="0.5" stroke-linejoin="round" />
<polygon points="548.50,393.90 603.50,435.10 603.50,456.30 548.90,414.60" fill="#000080" stroke="#000080" stroke-width="0.5" stroke-linejoin="round" />
<polygon points="603.50,435.10 681.40,403.40 681.40,424.60 648.40,438.00 648.40,424.50 639.10,428.30 639.10,441.80 603.50,456.30" fill="#000066" stroke="#000066" stroke-width="0.5" stroke-linejoin="round" />
<polygon points="639.10,428.30 648.40,424.50 648.40,438.00 639.10,432.60" fill="#00009a" stroke="#00009a" stroke-width="0.5" stroke-linejoin="round" />
<polygon points="548.50,393.90 622.60,368.00 681.40,403.40 603.50,435.10" fill="#5454a8" stroke="#5454a8" stroke-width="0.5" stroke-linejoin="round" />
<ellipse cx="613.5" cy="398.3" rx="30.3" ry="14.8" fill="url(#gMem)"/>
</svg>
</body></html>
